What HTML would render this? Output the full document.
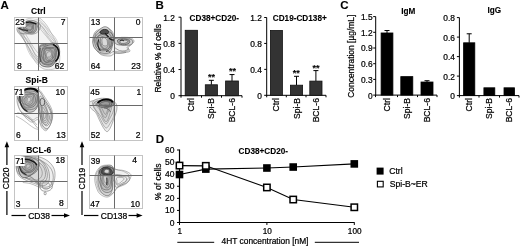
<!DOCTYPE html>
<html><head><meta charset="utf-8"><style>
html,body{margin:0;padding:0;background:#fff;}
svg{display:block;filter:grayscale(100%);}
text{font-family:"Liberation Sans",sans-serif;}
</style></head><body>
<svg xmlns="http://www.w3.org/2000/svg" width="520" height="246" viewBox="0 0 520 246">
<rect width="520" height="246" fill="#fff"/>
<text x="0.5" y="8.7" font-size="11.5" font-weight="bold" text-anchor="start" fill="#000" stroke="#000" stroke-width="0.1">A</text>
<text x="155.5" y="8.7" font-size="11.5" font-weight="bold" text-anchor="start" fill="#000" stroke="#000" stroke-width="0.1">B</text>
<text x="340.3" y="8.7" font-size="11.5" font-weight="bold" text-anchor="start" fill="#000" stroke="#000" stroke-width="0.1">C</text>
<text x="155.7" y="142.7" font-size="11.5" font-weight="bold" text-anchor="start" fill="#000" stroke="#000" stroke-width="0.1">D</text>
<clipPath id="cpc10"><rect x="14.5" y="17.5" width="53.0" height="53.0"/></clipPath><g clip-path="url(#cpc10)"><path d="M39.05,17.82 C39.80,18.12 40.51,18.60 41.21,19.14 C41.91,19.68 42.56,20.35 43.24,21.04 C43.91,21.73 44.58,22.46 45.25,23.28 C45.92,24.10 46.61,24.98 47.26,25.94 C47.91,26.90 48.55,28.00 49.14,29.03 C49.74,30.07 50.28,31.15 50.83,32.15 C51.38,33.16 51.91,34.12 52.43,35.05 C52.95,35.99 53.47,36.88 53.93,37.76 C54.39,38.65 54.80,39.51 55.19,40.38 C55.58,41.25 55.91,42.09 56.28,42.97 C56.65,43.85 57.03,44.70 57.39,45.65 C57.76,46.59 58.13,47.54 58.45,48.65 C58.77,49.76 59.10,51.01 59.33,52.29 C59.56,53.58 59.76,55.06 59.83,56.37 C59.90,57.69 59.88,59.00 59.75,60.19 C59.62,61.38 59.39,62.48 59.05,63.51 C58.71,64.53 58.27,65.54 57.70,66.34 C57.12,67.14 56.47,67.82 55.60,68.33 C54.72,68.83 53.60,69.14 52.44,69.36 C51.29,69.59 49.87,69.66 48.67,69.66 C47.47,69.66 46.26,69.56 45.25,69.36 C44.23,69.16 43.41,68.85 42.58,68.44 C41.74,68.03 41.00,67.49 40.24,66.89 C39.48,66.30 38.74,65.62 38.00,64.87 C37.26,64.12 36.52,63.30 35.83,62.38 C35.13,61.47 34.47,60.44 33.83,59.37 C33.20,58.30 32.59,57.17 32.02,55.97 C31.44,54.76 30.92,53.42 30.40,52.14 C29.88,50.85 29.43,49.46 28.91,48.26 C28.39,47.06 27.87,45.95 27.30,44.93 C26.73,43.91 26.11,43.04 25.49,42.14 C24.88,41.25 24.23,40.40 23.62,39.56 C23.00,38.73 22.41,37.90 21.80,37.13 C21.20,36.36 20.55,35.63 19.98,34.95 C19.40,34.27 18.78,33.68 18.35,33.06 C17.92,32.44 17.59,31.86 17.40,31.25 C17.20,30.63 17.17,30.00 17.18,29.37 C17.19,28.75 17.28,28.11 17.46,27.50 C17.64,26.89 17.88,26.30 18.26,25.71 C18.65,25.11 19.17,24.52 19.76,23.93 C20.35,23.33 21.10,22.69 21.80,22.12 C22.51,21.55 23.24,20.97 24.00,20.49 C24.75,20.02 25.52,19.62 26.36,19.29 C27.19,18.95 28.13,18.71 29.02,18.49 C29.91,18.26 30.83,18.12 31.70,17.95 C32.57,17.79 33.42,17.60 34.25,17.50 C35.09,17.39 35.91,17.27 36.71,17.32 C37.51,17.38 38.30,17.51 39.05,17.82 Z" fill="#f3f3f3" stroke="#9a9a9a" stroke-width="0.5"/>
<path d="M38.95,20.13 C39.64,20.40 40.29,20.87 40.92,21.38 C41.55,21.89 42.14,22.55 42.75,23.19 C43.35,23.84 43.95,24.53 44.56,25.24 C45.18,25.96 45.81,26.71 46.46,27.50 C47.11,28.28 47.77,29.13 48.46,29.95 C49.14,30.76 49.85,31.58 50.58,32.39 C51.31,33.20 52.10,33.97 52.84,34.80 C53.58,35.62 54.37,36.46 55.01,37.34 C55.64,38.22 56.21,39.15 56.65,40.07 C57.09,41.00 57.40,41.95 57.66,42.89 C57.91,43.83 58.07,44.76 58.17,45.71 C58.28,46.67 58.29,47.59 58.28,48.61 C58.27,49.63 58.19,50.72 58.10,51.82 C58.01,52.91 57.90,54.11 57.74,55.18 C57.57,56.25 57.37,57.28 57.12,58.23 C56.87,59.18 56.59,60.06 56.24,60.91 C55.89,61.75 55.50,62.59 54.99,63.27 C54.48,63.95 53.94,64.55 53.18,64.99 C52.43,65.43 51.46,65.70 50.47,65.89 C49.47,66.08 48.24,66.14 47.20,66.14 C46.17,66.14 45.13,66.06 44.26,65.91 C43.39,65.76 42.69,65.53 41.98,65.24 C41.26,64.95 40.64,64.57 39.97,64.18 C39.31,63.80 38.67,63.39 38.00,62.93 C37.33,62.46 36.64,61.99 35.94,61.41 C35.24,60.83 34.54,60.19 33.81,59.43 C33.09,58.67 32.33,57.86 31.58,56.84 C30.83,55.82 30.03,54.59 29.33,53.28 C28.63,51.97 27.94,50.35 27.39,48.97 C26.84,47.60 26.43,46.19 26.03,45.04 C25.63,43.89 25.34,42.96 25.01,42.07 C24.67,41.18 24.36,40.43 24.02,39.69 C23.67,38.94 23.34,38.26 22.93,37.61 C22.53,36.95 22.04,36.35 21.57,35.75 C21.11,35.16 20.54,34.62 20.13,34.05 C19.72,33.47 19.35,32.91 19.12,32.31 C18.88,31.71 18.77,31.07 18.73,30.46 C18.68,29.84 18.71,29.21 18.87,28.63 C19.02,28.05 19.25,27.50 19.64,26.98 C20.02,26.46 20.57,25.97 21.18,25.48 C21.78,25.00 22.55,24.52 23.26,24.09 C23.97,23.66 24.70,23.24 25.43,22.89 C26.16,22.55 26.87,22.27 27.64,22.01 C28.40,21.75 29.23,21.54 30.02,21.33 C30.81,21.12 31.60,20.94 32.37,20.73 C33.14,20.53 33.88,20.27 34.62,20.11 C35.36,19.95 36.11,19.76 36.83,19.76 C37.55,19.76 38.27,19.86 38.95,20.13 Z" fill="none" stroke="#a0a0a0" stroke-width="0.5"/>
<path d="M38.88,22.08 C39.51,22.22 40.12,22.51 40.73,22.87 C41.33,23.24 41.91,23.74 42.50,24.28 C43.09,24.82 43.67,25.44 44.26,26.12 C44.84,26.80 45.43,27.57 46.01,28.38 C46.58,29.18 47.15,30.10 47.71,30.95 C48.28,31.80 48.82,32.66 49.41,33.47 C50.00,34.27 50.63,35.01 51.26,35.78 C51.89,36.54 52.59,37.27 53.20,38.05 C53.81,38.83 54.40,39.62 54.90,40.44 C55.40,41.26 55.84,42.11 56.20,42.97 C56.55,43.84 56.86,44.71 57.06,45.62 C57.25,46.52 57.36,47.43 57.38,48.40 C57.40,49.38 57.33,50.44 57.20,51.47 C57.07,52.49 56.87,53.60 56.62,54.55 C56.38,55.51 56.06,56.38 55.73,57.19 C55.40,58.01 55.04,58.72 54.65,59.43 C54.25,60.13 53.86,60.84 53.37,61.44 C52.89,62.03 52.41,62.57 51.75,63.00 C51.08,63.43 50.26,63.74 49.39,63.99 C48.51,64.24 47.44,64.41 46.52,64.50 C45.60,64.59 44.67,64.63 43.87,64.55 C43.08,64.48 42.42,64.31 41.75,64.04 C41.08,63.77 40.48,63.38 39.85,62.96 C39.23,62.53 38.62,62.04 38.00,61.50 C37.38,60.97 36.76,60.40 36.14,59.77 C35.52,59.13 34.91,58.45 34.28,57.71 C33.65,56.97 33.01,56.23 32.34,55.33 C31.67,54.42 30.94,53.41 30.26,52.29 C29.57,51.17 28.82,49.80 28.21,48.59 C27.59,47.37 27.03,46.07 26.54,45.00 C26.06,43.92 25.68,42.98 25.32,42.12 C24.96,41.25 24.66,40.50 24.37,39.80 C24.08,39.09 23.86,38.46 23.58,37.88 C23.29,37.30 22.98,36.80 22.66,36.30 C22.34,35.80 21.95,35.38 21.67,34.91 C21.38,34.43 21.13,33.97 20.95,33.45 C20.78,32.93 20.67,32.35 20.61,31.78 C20.54,31.20 20.50,30.58 20.57,29.99 C20.64,29.41 20.75,28.83 21.03,28.27 C21.31,27.71 21.73,27.16 22.24,26.65 C22.75,26.15 23.44,25.63 24.09,25.21 C24.75,24.79 25.45,24.41 26.16,24.13 C26.87,23.85 27.60,23.67 28.35,23.52 C29.10,23.37 29.92,23.31 30.68,23.22 C31.44,23.12 32.20,23.07 32.91,22.95 C33.62,22.83 34.29,22.64 34.96,22.49 C35.63,22.34 36.29,22.12 36.94,22.05 C37.60,21.98 38.25,21.95 38.88,22.08 Z" fill="none" stroke="#a6a6a6" stroke-width="0.5"/>
<path d="M38.82,23.50 C39.41,23.67 39.98,23.99 40.53,24.39 C41.08,24.80 41.60,25.34 42.12,25.93 C42.64,26.52 43.15,27.19 43.63,27.91 C44.12,28.63 44.60,29.44 45.05,30.26 C45.49,31.08 45.91,32.00 46.32,32.82 C46.74,33.64 47.10,34.46 47.53,35.20 C47.96,35.94 48.41,36.59 48.89,37.25 C49.37,37.90 49.92,38.50 50.42,39.14 C50.91,39.78 51.42,40.41 51.87,41.08 C52.31,41.75 52.73,42.43 53.11,43.15 C53.49,43.86 53.85,44.59 54.14,45.37 C54.43,46.15 54.67,46.94 54.85,47.83 C55.03,48.72 55.16,49.71 55.24,50.70 C55.32,51.70 55.35,52.81 55.32,53.81 C55.29,54.81 55.20,55.78 55.07,56.70 C54.93,57.62 54.76,58.48 54.52,59.31 C54.27,60.14 54.00,60.99 53.61,61.70 C53.21,62.41 52.79,63.07 52.15,63.56 C51.52,64.06 50.68,64.44 49.79,64.70 C48.89,64.96 47.75,65.10 46.78,65.12 C45.80,65.13 44.79,65.03 43.94,64.80 C43.09,64.56 42.39,64.18 41.69,63.71 C40.99,63.23 40.37,62.59 39.76,61.94 C39.14,61.30 38.56,60.55 38.00,59.81 C37.44,59.07 36.90,58.29 36.41,57.49 C35.91,56.70 35.45,55.87 35.00,55.05 C34.55,54.24 34.13,53.45 33.70,52.60 C33.27,51.75 32.86,50.86 32.43,49.97 C31.99,49.07 31.55,48.11 31.09,47.24 C30.62,46.37 30.11,45.51 29.62,44.73 C29.14,43.95 28.64,43.24 28.17,42.54 C27.70,41.84 27.25,41.19 26.80,40.55 C26.36,39.91 25.95,39.29 25.50,38.70 C25.05,38.11 24.57,37.56 24.10,37.02 C23.62,36.48 23.08,35.99 22.67,35.46 C22.25,34.93 21.87,34.41 21.60,33.85 C21.32,33.28 21.14,32.67 21.02,32.07 C20.91,31.47 20.84,30.84 20.90,30.26 C20.96,29.68 21.09,29.12 21.38,28.60 C21.68,28.08 22.14,27.58 22.67,27.13 C23.21,26.68 23.92,26.24 24.59,25.89 C25.26,25.54 25.98,25.24 26.69,25.02 C27.40,24.80 28.12,24.69 28.85,24.58 C29.58,24.47 30.37,24.44 31.09,24.37 C31.82,24.31 32.53,24.27 33.20,24.16 C33.87,24.06 34.50,23.88 35.14,23.75 C35.77,23.62 36.39,23.42 37.01,23.38 C37.62,23.34 38.23,23.33 38.82,23.50 Z" fill="none" stroke="#aaaaaa" stroke-width="0.5"/>
<path d="M38.73,25.78 C39.25,25.97 39.75,26.28 40.24,26.65 C40.72,27.03 41.18,27.51 41.64,28.02 C42.11,28.53 42.56,29.10 43.00,29.71 C43.45,30.31 43.89,30.98 44.32,31.66 C44.76,32.35 45.17,33.10 45.60,33.79 C46.02,34.48 46.43,35.17 46.88,35.80 C47.34,36.43 47.83,37.00 48.33,37.59 C48.83,38.19 49.39,38.75 49.88,39.35 C50.36,39.95 50.85,40.57 51.25,41.21 C51.65,41.85 52.00,42.52 52.30,43.19 C52.60,43.87 52.86,44.56 53.05,45.28 C53.25,46.00 53.37,46.72 53.46,47.51 C53.54,48.31 53.57,49.18 53.57,50.05 C53.57,50.93 53.53,51.89 53.46,52.76 C53.38,53.63 53.27,54.46 53.13,55.26 C52.99,56.06 52.83,56.81 52.62,57.55 C52.40,58.29 52.18,59.05 51.84,59.70 C51.51,60.35 51.16,60.96 50.62,61.44 C50.07,61.92 49.36,62.30 48.58,62.58 C47.80,62.86 46.80,63.04 45.94,63.11 C45.09,63.19 44.19,63.16 43.43,63.02 C42.68,62.87 42.04,62.59 41.41,62.22 C40.78,61.85 40.21,61.33 39.64,60.79 C39.07,60.25 38.53,59.63 38.00,58.98 C37.47,58.34 36.95,57.64 36.47,56.92 C35.99,56.20 35.54,55.43 35.11,54.66 C34.68,53.88 34.26,53.10 33.87,52.27 C33.47,51.43 33.09,50.53 32.73,49.64 C32.36,48.76 32.03,47.80 31.68,46.96 C31.33,46.13 30.97,45.35 30.61,44.64 C30.26,43.94 29.89,43.34 29.52,42.74 C29.15,42.14 28.79,41.59 28.41,41.04 C28.03,40.49 27.66,39.96 27.24,39.44 C26.82,38.91 26.35,38.41 25.87,37.91 C25.40,37.41 24.85,36.94 24.41,36.43 C23.97,35.92 23.54,35.41 23.22,34.85 C22.90,34.30 22.66,33.69 22.48,33.10 C22.31,32.51 22.19,31.88 22.20,31.30 C22.21,30.73 22.29,30.18 22.53,29.66 C22.78,29.15 23.19,28.67 23.68,28.23 C24.16,27.80 24.83,27.39 25.46,27.06 C26.09,26.74 26.78,26.48 27.46,26.30 C28.13,26.12 28.82,26.05 29.51,25.99 C30.21,25.93 30.96,25.96 31.64,25.95 C32.33,25.93 33.00,25.96 33.63,25.92 C34.26,25.89 34.84,25.79 35.42,25.73 C36.00,25.67 36.56,25.55 37.11,25.55 C37.66,25.56 38.21,25.60 38.73,25.78 Z" fill="none" stroke="#b0b0b0" stroke-width="0.5"/>
<path d="M17.01,29.06 C17.00,28.69 16.99,28.31 17.12,27.92 C17.25,27.52 17.47,27.11 17.81,26.69 C18.15,26.28 18.63,25.87 19.17,25.43 C19.71,24.99 20.39,24.51 21.04,24.04 C21.69,23.58 22.40,23.06 23.08,22.64 C23.77,22.23 24.40,21.82 25.16,21.55 C25.92,21.28 26.76,21.10 27.63,21.03 C28.49,20.95 29.51,21.01 30.34,21.09 C31.16,21.17 31.90,21.37 32.58,21.51 C33.25,21.65 33.78,21.81 34.40,21.93 C35.02,22.05 35.66,22.13 36.29,22.25 C36.91,22.38 37.61,22.45 38.16,22.68 C38.71,22.90 39.24,23.19 39.60,23.60 C39.97,24.01 40.23,24.56 40.36,25.12 C40.49,25.67 40.47,26.31 40.38,26.93 C40.29,27.55 40.07,28.22 39.80,28.85 C39.54,29.48 39.18,30.16 38.79,30.73 C38.41,31.30 37.98,31.82 37.48,32.27 C36.97,32.71 36.40,33.11 35.77,33.40 C35.14,33.70 34.41,33.93 33.72,34.04 C33.02,34.15 32.30,34.11 31.62,34.04 C30.94,33.98 30.29,33.75 29.63,33.66 C28.96,33.57 28.35,33.50 27.65,33.51 C26.96,33.52 26.24,33.69 25.43,33.74 C24.62,33.79 23.67,33.88 22.80,33.79 C21.93,33.71 20.92,33.48 20.19,33.23 C19.46,32.98 18.84,32.61 18.40,32.27 C17.96,31.94 17.75,31.57 17.55,31.21 C17.35,30.86 17.27,30.50 17.18,30.14 C17.09,29.78 17.02,29.43 17.01,29.06 Z" fill="#e0e0e0" stroke="#6a6a6a" stroke-width="0.5"/>
<path d="M19.06,28.80 C19.18,28.47 19.32,28.15 19.56,27.83 C19.80,27.51 20.14,27.19 20.51,26.89 C20.89,26.58 21.37,26.31 21.82,25.99 C22.26,25.67 22.75,25.35 23.17,24.97 C23.60,24.58 23.95,24.14 24.35,23.68 C24.75,23.22 25.03,22.66 25.58,22.19 C26.12,21.73 26.78,21.22 27.60,20.90 C28.42,20.59 29.58,20.36 30.50,20.30 C31.43,20.24 32.38,20.40 33.14,20.56 C33.91,20.71 34.50,20.98 35.08,21.23 C35.65,21.47 36.16,21.75 36.59,22.03 C37.02,22.32 37.40,22.60 37.63,22.96 C37.87,23.31 38.00,23.73 38.02,24.18 C38.05,24.63 37.92,25.17 37.79,25.66 C37.65,26.14 37.39,26.63 37.19,27.09 C36.99,27.56 36.76,27.99 36.58,28.45 C36.40,28.91 36.26,29.38 36.10,29.84 C35.94,30.30 35.84,30.78 35.62,31.22 C35.40,31.67 35.15,32.14 34.77,32.53 C34.40,32.92 33.90,33.32 33.37,33.57 C32.85,33.82 32.23,33.96 31.61,34.03 C30.99,34.11 30.34,34.03 29.66,34.01 C28.99,34.00 28.28,33.94 27.56,33.93 C26.84,33.92 26.10,33.98 25.32,33.93 C24.55,33.89 23.70,33.83 22.93,33.66 C22.17,33.48 21.34,33.17 20.75,32.86 C20.16,32.56 19.70,32.17 19.39,31.82 C19.08,31.47 18.99,31.12 18.90,30.78 C18.81,30.43 18.83,30.10 18.86,29.77 C18.88,29.44 18.94,29.12 19.06,28.80 Z" fill="#d0d0d0" stroke="#5a5a5a" stroke-width="0.5"/>
<path d="M20.09,28.66 C19.99,28.40 19.97,28.12 20.01,27.82 C20.05,27.52 20.17,27.21 20.33,26.87 C20.49,26.54 20.69,26.21 20.97,25.81 C21.24,25.40 21.55,24.91 21.98,24.45 C22.41,23.99 22.95,23.39 23.56,23.03 C24.17,22.67 24.91,22.38 25.64,22.29 C26.37,22.20 27.23,22.37 27.94,22.52 C28.65,22.66 29.33,22.99 29.91,23.15 C30.49,23.30 30.90,23.41 31.41,23.46 C31.92,23.51 32.41,23.43 32.95,23.43 C33.49,23.42 34.13,23.38 34.64,23.44 C35.15,23.50 35.66,23.61 36.01,23.81 C36.35,24.02 36.55,24.33 36.69,24.67 C36.83,25.01 36.83,25.45 36.86,25.85 C36.89,26.26 36.87,26.67 36.87,27.11 C36.86,27.54 36.90,28.00 36.84,28.48 C36.78,28.96 36.71,29.52 36.52,29.98 C36.32,30.44 36.04,30.89 35.68,31.26 C35.31,31.62 34.82,31.90 34.33,32.15 C33.85,32.39 33.29,32.57 32.77,32.73 C32.26,32.89 31.78,33.01 31.25,33.11 C30.72,33.21 30.18,33.30 29.59,33.33 C29.00,33.36 28.31,33.37 27.71,33.28 C27.10,33.20 26.48,33.04 25.95,32.84 C25.42,32.63 24.96,32.32 24.52,32.05 C24.08,31.77 23.70,31.45 23.33,31.19 C22.96,30.93 22.63,30.71 22.31,30.51 C21.99,30.30 21.69,30.15 21.41,29.96 C21.12,29.77 20.83,29.59 20.61,29.38 C20.39,29.16 20.19,28.92 20.09,28.66 Z" fill="#c0c0c0" stroke="#555" stroke-width="0.5"/>
<path d="M20.70,28.58 C20.64,28.34 20.69,28.06 20.82,27.79 C20.95,27.52 21.20,27.23 21.46,26.96 C21.73,26.68 22.07,26.42 22.42,26.12 C22.78,25.82 23.18,25.47 23.61,25.16 C24.05,24.85 24.53,24.47 25.03,24.24 C25.53,24.01 26.07,23.85 26.60,23.78 C27.14,23.72 27.71,23.83 28.23,23.87 C28.75,23.92 29.24,24.03 29.72,24.04 C30.21,24.05 30.64,23.98 31.13,23.93 C31.63,23.87 32.16,23.74 32.67,23.71 C33.19,23.68 33.79,23.66 34.23,23.73 C34.67,23.81 35.08,23.95 35.33,24.17 C35.57,24.39 35.66,24.71 35.71,25.03 C35.76,25.35 35.67,25.75 35.63,26.11 C35.59,26.47 35.52,26.81 35.49,27.18 C35.46,27.54 35.49,27.91 35.44,28.31 C35.40,28.70 35.38,29.17 35.24,29.56 C35.11,29.95 34.92,30.35 34.64,30.67 C34.36,30.99 33.96,31.26 33.56,31.48 C33.16,31.70 32.68,31.86 32.24,31.99 C31.79,32.12 31.36,32.20 30.90,32.24 C30.44,32.28 29.97,32.29 29.48,32.25 C29.00,32.21 28.46,32.13 27.99,32.01 C27.52,31.90 27.09,31.72 26.68,31.55 C26.28,31.38 25.94,31.16 25.57,30.98 C25.20,30.80 24.83,30.61 24.44,30.46 C24.06,30.31 23.66,30.20 23.27,30.08 C22.88,29.96 22.48,29.87 22.13,29.73 C21.78,29.59 21.42,29.44 21.18,29.25 C20.94,29.06 20.76,28.83 20.70,28.58 Z" fill="#b4b4b4" stroke="#505050" stroke-width="0.5"/>
<path d="M23.37,28.23 C23.38,28.06 23.42,27.88 23.46,27.70 C23.49,27.51 23.52,27.32 23.59,27.11 C23.66,26.90 23.73,26.68 23.88,26.42 C24.04,26.16 24.24,25.84 24.53,25.56 C24.81,25.27 25.19,24.93 25.57,24.69 C25.96,24.45 26.38,24.26 26.82,24.12 C27.26,23.98 27.72,23.92 28.22,23.84 C28.72,23.75 29.29,23.67 29.81,23.62 C30.33,23.58 30.88,23.54 31.34,23.57 C31.81,23.60 32.24,23.68 32.58,23.81 C32.92,23.93 33.21,24.13 33.39,24.34 C33.58,24.54 33.66,24.79 33.70,25.03 C33.74,25.27 33.67,25.54 33.64,25.79 C33.61,26.05 33.54,26.30 33.52,26.55 C33.50,26.80 33.52,27.02 33.52,27.27 C33.52,27.53 33.56,27.79 33.54,28.07 C33.52,28.35 33.48,28.67 33.41,28.95 C33.34,29.24 33.23,29.52 33.10,29.81 C32.97,30.09 32.82,30.36 32.62,30.65 C32.42,30.95 32.21,31.29 31.92,31.55 C31.64,31.82 31.31,32.11 30.90,32.26 C30.50,32.40 29.98,32.47 29.50,32.42 C29.02,32.37 28.44,32.15 28.00,31.95 C27.57,31.74 27.22,31.43 26.89,31.19 C26.56,30.95 26.32,30.71 26.02,30.52 C25.73,30.33 25.40,30.18 25.10,30.03 C24.81,29.89 24.48,29.78 24.23,29.64 C23.99,29.51 23.79,29.39 23.64,29.24 C23.50,29.09 23.43,28.92 23.38,28.76 C23.34,28.59 23.36,28.41 23.37,28.23 Z" fill="#aaaaaa" stroke="#4a4a4a" stroke-width="0.5"/>
<path d="M24.63,28.07 C24.76,27.92 24.94,27.78 25.07,27.64 C25.21,27.50 25.34,27.38 25.45,27.24 C25.56,27.11 25.64,26.98 25.75,26.82 C25.86,26.65 25.96,26.45 26.11,26.24 C26.26,26.04 26.44,25.78 26.65,25.57 C26.87,25.37 27.10,25.16 27.39,25.00 C27.67,24.83 28.00,24.70 28.38,24.58 C28.76,24.45 29.24,24.33 29.68,24.26 C30.11,24.20 30.59,24.16 30.98,24.18 C31.37,24.20 31.74,24.28 32.01,24.39 C32.29,24.51 32.51,24.69 32.65,24.87 C32.78,25.06 32.82,25.28 32.82,25.49 C32.83,25.70 32.75,25.93 32.70,26.14 C32.65,26.35 32.58,26.56 32.55,26.76 C32.52,26.95 32.52,27.13 32.52,27.32 C32.51,27.52 32.54,27.73 32.51,27.94 C32.49,28.15 32.44,28.40 32.35,28.61 C32.26,28.81 32.13,29.00 31.99,29.18 C31.85,29.36 31.69,29.52 31.51,29.69 C31.34,29.86 31.17,30.05 30.96,30.22 C30.75,30.38 30.54,30.57 30.27,30.69 C30.01,30.80 29.68,30.89 29.35,30.90 C29.01,30.92 28.60,30.86 28.26,30.78 C27.92,30.71 27.61,30.58 27.31,30.47 C27.00,30.35 26.72,30.23 26.42,30.12 C26.12,30.01 25.78,29.90 25.49,29.78 C25.21,29.67 24.90,29.56 24.70,29.43 C24.50,29.31 24.35,29.18 24.29,29.03 C24.22,28.88 24.24,28.71 24.30,28.55 C24.36,28.39 24.51,28.22 24.63,28.07 Z" fill="#a8a8a8" stroke="#505050" stroke-width="0.5"/>
<path d="M25.45,27.96 C25.37,27.87 25.32,27.75 25.34,27.63 C25.35,27.51 25.43,27.38 25.54,27.25 C25.64,27.12 25.79,27.00 25.95,26.86 C26.11,26.72 26.30,26.56 26.49,26.41 C26.69,26.26 26.91,26.08 27.13,25.97 C27.36,25.85 27.60,25.75 27.85,25.72 C28.10,25.69 28.39,25.74 28.64,25.78 C28.88,25.82 29.11,25.92 29.32,25.97 C29.53,26.01 29.68,26.04 29.87,26.04 C30.06,26.05 30.25,26.00 30.46,25.99 C30.68,25.98 30.94,25.94 31.14,25.96 C31.34,25.98 31.55,26.01 31.68,26.09 C31.81,26.17 31.87,26.30 31.91,26.43 C31.94,26.57 31.89,26.74 31.86,26.90 C31.84,27.05 31.78,27.21 31.76,27.36 C31.73,27.52 31.73,27.67 31.72,27.84 C31.71,28.01 31.73,28.21 31.70,28.39 C31.67,28.57 31.64,28.77 31.54,28.93 C31.45,29.09 31.30,29.25 31.14,29.36 C30.97,29.48 30.74,29.57 30.53,29.63 C30.33,29.69 30.11,29.71 29.89,29.72 C29.67,29.72 29.44,29.70 29.22,29.67 C29.00,29.65 28.75,29.61 28.54,29.55 C28.33,29.49 28.13,29.42 27.96,29.33 C27.78,29.24 27.64,29.12 27.50,29.02 C27.36,28.92 27.24,28.81 27.11,28.73 C26.99,28.64 26.87,28.58 26.74,28.52 C26.60,28.46 26.46,28.43 26.31,28.37 C26.15,28.32 25.97,28.28 25.83,28.21 C25.68,28.14 25.53,28.06 25.45,27.96 Z" fill="#b0b0b0" stroke="#5a5a5a" stroke-width="0.5"/>
<path d="M24.80,22.60 C25.67,22.50 28.05,21.80 30.00,22.00 C31.95,22.20 35.42,23.50 36.50,23.80" fill="none" stroke="#1a1a1a" stroke-width="1.6"/>
<path d="M18.30,28.00 C19.08,28.30 21.38,29.38 23.00,29.80 C24.62,30.22 27.17,30.38 28.00,30.50" fill="none" stroke="#333" stroke-width="1.3"/>
<path d="M40.27,45.29 C40.75,44.97 41.48,44.84 42.16,44.72 C42.85,44.61 43.68,44.65 44.39,44.60 C45.10,44.54 45.74,44.52 46.41,44.40 C47.08,44.28 47.69,44.07 48.42,43.88 C49.14,43.69 49.97,43.41 50.77,43.26 C51.56,43.11 52.42,42.97 53.18,42.99 C53.95,43.01 54.69,43.13 55.35,43.38 C56.00,43.63 56.62,44.01 57.14,44.48 C57.65,44.94 58.08,45.51 58.44,46.17 C58.79,46.84 59.06,47.64 59.27,48.49 C59.48,49.33 59.63,50.32 59.68,51.23 C59.73,52.14 59.71,53.09 59.57,53.96 C59.44,54.83 59.18,55.69 58.87,56.47 C58.57,57.25 58.13,57.99 57.73,58.62 C57.34,59.25 56.89,59.74 56.51,60.24 C56.12,60.75 55.77,61.16 55.42,61.65 C55.07,62.14 54.78,62.67 54.42,63.20 C54.05,63.73 53.71,64.32 53.22,64.81 C52.72,65.30 52.12,65.79 51.45,66.13 C50.78,66.48 49.93,66.74 49.19,66.87 C48.44,67.01 47.68,66.98 46.98,66.95 C46.27,66.91 45.61,66.79 44.95,66.66 C44.29,66.53 43.61,66.40 43.00,66.17 C42.39,65.94 41.80,65.72 41.30,65.28 C40.80,64.84 40.37,64.26 40.02,63.55 C39.66,62.84 39.37,61.90 39.16,61.02 C38.95,60.14 38.82,59.17 38.75,58.28 C38.68,57.39 38.71,56.53 38.75,55.69 C38.78,54.85 38.90,54.02 38.97,53.23 C39.03,52.43 39.11,51.70 39.14,50.94 C39.16,50.19 39.09,49.41 39.12,48.70 C39.15,47.99 39.12,47.23 39.32,46.66 C39.51,46.09 39.80,45.61 40.27,45.29 Z" fill="#cacaca" stroke="#333" stroke-width="0.6"/>
<path d="M41.02,46.08 C41.49,45.82 42.19,45.75 42.84,45.69 C43.49,45.64 44.27,45.74 44.93,45.75 C45.58,45.76 46.16,45.81 46.76,45.77 C47.36,45.72 47.88,45.59 48.50,45.46 C49.13,45.33 49.82,45.10 50.50,44.98 C51.17,44.85 51.90,44.71 52.56,44.71 C53.22,44.71 53.86,44.78 54.44,44.97 C55.02,45.15 55.57,45.46 56.04,45.83 C56.50,46.21 56.90,46.67 57.24,47.23 C57.58,47.79 57.85,48.46 58.07,49.19 C58.30,49.91 58.49,50.76 58.59,51.56 C58.69,52.37 58.75,53.21 58.68,54.01 C58.62,54.80 58.46,55.61 58.22,56.34 C57.99,57.07 57.62,57.80 57.27,58.40 C56.93,59.00 56.51,59.49 56.14,59.96 C55.76,60.43 55.40,60.80 55.04,61.22 C54.68,61.65 54.36,62.09 53.99,62.52 C53.62,62.95 53.27,63.41 52.80,63.79 C52.33,64.16 51.77,64.52 51.16,64.76 C50.55,65.00 49.81,65.15 49.16,65.21 C48.51,65.27 47.87,65.19 47.27,65.11 C46.68,65.03 46.14,64.89 45.58,64.76 C45.03,64.62 44.47,64.51 43.95,64.32 C43.43,64.14 42.92,63.98 42.47,63.65 C42.02,63.31 41.62,62.86 41.26,62.29 C40.90,61.73 40.59,60.97 40.33,60.24 C40.07,59.51 39.86,58.69 39.72,57.92 C39.58,57.14 39.53,56.37 39.50,55.60 C39.47,54.83 39.53,54.04 39.56,53.30 C39.60,52.56 39.67,51.85 39.70,51.14 C39.73,50.44 39.70,49.72 39.76,49.07 C39.81,48.42 39.83,47.74 40.04,47.25 C40.25,46.75 40.55,46.34 41.02,46.08 Z" fill="#bababa" stroke="#3a3a3a" stroke-width="0.5"/>
<path d="M42.63,47.77 C42.88,47.43 43.29,47.19 43.73,46.96 C44.16,46.73 44.72,46.59 45.23,46.40 C45.74,46.21 46.23,46.04 46.78,45.83 C47.32,45.63 47.86,45.38 48.49,45.18 C49.12,44.99 49.86,44.75 50.55,44.66 C51.23,44.57 51.97,44.53 52.59,44.63 C53.21,44.74 53.78,44.96 54.26,45.29 C54.73,45.62 55.12,46.09 55.41,46.60 C55.71,47.10 55.88,47.70 56.00,48.32 C56.13,48.94 56.15,49.63 56.19,50.29 C56.22,50.95 56.21,51.65 56.22,52.29 C56.22,52.93 56.24,53.53 56.23,54.13 C56.21,54.74 56.19,55.33 56.11,55.92 C56.03,56.51 55.89,57.13 55.72,57.67 C55.55,58.21 55.32,58.70 55.09,59.16 C54.85,59.61 54.59,60.00 54.32,60.42 C54.05,60.84 53.78,61.26 53.46,61.66 C53.14,62.07 52.83,62.50 52.42,62.85 C52.00,63.21 51.50,63.55 50.96,63.79 C50.41,64.03 49.74,64.21 49.15,64.30 C48.56,64.38 47.96,64.34 47.41,64.30 C46.85,64.25 46.34,64.14 45.83,64.03 C45.31,63.91 44.79,63.80 44.31,63.63 C43.82,63.46 43.35,63.31 42.94,62.99 C42.52,62.67 42.15,62.26 41.83,61.72 C41.51,61.18 41.22,60.47 41.03,59.78 C40.85,59.08 40.71,58.28 40.69,57.56 C40.67,56.84 40.78,56.11 40.91,55.44 C41.05,54.77 41.32,54.12 41.50,53.55 C41.69,52.97 41.92,52.49 42.03,51.99 C42.15,51.48 42.16,51.00 42.19,50.50 C42.22,50.00 42.14,49.46 42.21,49.00 C42.28,48.55 42.37,48.11 42.63,47.77 Z" fill="#adadad" stroke="#404040" stroke-width="0.5"/>
<path d="M43.37,48.55 C43.67,48.33 44.06,48.16 44.47,48.02 C44.88,47.87 45.37,47.76 45.83,47.68 C46.28,47.60 46.75,47.55 47.21,47.52 C47.68,47.50 48.13,47.51 48.62,47.50 C49.10,47.50 49.61,47.52 50.10,47.51 C50.59,47.51 51.07,47.48 51.55,47.48 C52.04,47.48 52.52,47.44 52.99,47.50 C53.47,47.56 53.98,47.63 54.40,47.85 C54.82,48.06 55.23,48.34 55.50,48.76 C55.78,49.18 55.97,49.77 56.07,50.36 C56.16,50.96 56.13,51.70 56.09,52.33 C56.04,52.96 55.90,53.58 55.79,54.15 C55.69,54.73 55.58,55.25 55.47,55.79 C55.37,56.33 55.30,56.90 55.17,57.41 C55.05,57.92 54.92,58.44 54.72,58.88 C54.53,59.32 54.28,59.72 53.99,60.05 C53.70,60.39 53.34,60.67 52.98,60.90 C52.62,61.13 52.24,61.28 51.83,61.43 C51.43,61.58 50.99,61.67 50.54,61.79 C50.08,61.91 49.58,62.03 49.12,62.12 C48.65,62.22 48.18,62.32 47.72,62.37 C47.26,62.41 46.80,62.45 46.37,62.40 C45.93,62.36 45.47,62.27 45.10,62.09 C44.72,61.91 44.40,61.67 44.12,61.34 C43.84,61.01 43.65,60.56 43.43,60.11 C43.21,59.65 43.02,59.12 42.79,58.61 C42.56,58.10 42.28,57.60 42.05,57.06 C41.82,56.52 41.54,55.97 41.41,55.38 C41.28,54.79 41.21,54.11 41.24,53.51 C41.27,52.92 41.44,52.34 41.59,51.83 C41.74,51.32 41.94,50.87 42.12,50.46 C42.29,50.05 42.44,49.68 42.65,49.36 C42.86,49.04 43.06,48.78 43.37,48.55 Z" fill="#a6a6a6" stroke="#454545" stroke-width="0.5"/>
<path d="M44.21,49.44 C44.38,49.16 44.66,48.93 44.98,48.75 C45.31,48.58 45.75,48.46 46.16,48.39 C46.56,48.32 47.00,48.32 47.41,48.32 C47.83,48.32 48.24,48.37 48.66,48.39 C49.09,48.41 49.53,48.44 49.95,48.44 C50.38,48.44 50.80,48.40 51.22,48.40 C51.64,48.40 52.06,48.36 52.47,48.42 C52.87,48.48 53.31,48.57 53.65,48.77 C54.00,48.97 54.32,49.24 54.53,49.62 C54.75,49.99 54.88,50.51 54.95,51.02 C55.02,51.53 54.98,52.15 54.94,52.68 C54.89,53.21 54.78,53.73 54.68,54.21 C54.58,54.69 54.47,55.13 54.33,55.56 C54.20,56.00 54.07,56.44 53.90,56.81 C53.73,57.18 53.54,57.52 53.33,57.81 C53.11,58.10 52.87,58.31 52.63,58.54 C52.39,58.76 52.14,58.94 51.89,59.15 C51.65,59.35 51.43,59.55 51.16,59.78 C50.89,60.01 50.61,60.27 50.27,60.53 C49.93,60.78 49.52,61.09 49.10,61.32 C48.69,61.55 48.23,61.77 47.80,61.88 C47.36,62.00 46.91,62.06 46.50,62.02 C46.08,61.98 45.66,61.85 45.33,61.65 C44.99,61.44 44.72,61.15 44.50,60.80 C44.28,60.44 44.15,59.98 44.02,59.51 C43.89,59.05 43.80,58.50 43.70,58.01 C43.61,57.51 43.50,57.02 43.44,56.55 C43.38,56.07 43.32,55.62 43.33,55.16 C43.33,54.70 43.40,54.22 43.47,53.80 C43.54,53.37 43.68,52.99 43.75,52.61 C43.82,52.22 43.87,51.87 43.90,51.50 C43.93,51.14 43.89,50.75 43.94,50.41 C43.99,50.06 44.03,49.72 44.21,49.44 Z" fill="#aaaaaa" stroke="#4a4a4a" stroke-width="0.5"/>
<path d="M44.73,49.99 C44.90,49.76 45.15,49.57 45.44,49.41 C45.72,49.24 46.08,49.09 46.43,48.99 C46.78,48.89 47.16,48.81 47.54,48.80 C47.91,48.79 48.31,48.83 48.69,48.90 C49.07,48.98 49.48,49.12 49.82,49.26 C50.17,49.39 50.47,49.56 50.75,49.70 C51.03,49.84 51.26,49.97 51.50,50.12 C51.74,50.26 51.99,50.38 52.20,50.55 C52.41,50.73 52.63,50.91 52.77,51.17 C52.92,51.43 53.02,51.77 53.07,52.12 C53.11,52.47 53.09,52.90 53.05,53.26 C53.01,53.62 52.91,53.97 52.85,54.30 C52.80,54.63 52.73,54.92 52.70,55.24 C52.68,55.56 52.70,55.89 52.70,56.24 C52.70,56.59 52.74,56.97 52.71,57.34 C52.68,57.70 52.64,58.09 52.53,58.43 C52.42,58.77 52.25,59.11 52.04,59.38 C51.83,59.65 51.57,59.88 51.27,60.05 C50.97,60.22 50.61,60.33 50.25,60.42 C49.88,60.51 49.46,60.56 49.09,60.58 C48.72,60.60 48.35,60.60 48.02,60.56 C47.68,60.52 47.35,60.46 47.06,60.34 C46.76,60.22 46.47,60.06 46.26,59.83 C46.05,59.61 45.89,59.32 45.79,58.99 C45.70,58.65 45.70,58.22 45.69,57.84 C45.67,57.45 45.73,57.02 45.71,56.68 C45.69,56.33 45.66,56.05 45.57,55.76 C45.49,55.47 45.33,55.24 45.19,54.94 C45.05,54.64 44.87,54.31 44.75,53.96 C44.63,53.61 44.54,53.23 44.47,52.86 C44.40,52.50 44.36,52.12 44.35,51.77 C44.34,51.42 44.34,51.07 44.40,50.78 C44.46,50.48 44.55,50.22 44.73,49.99 Z" fill="#b4b4b4" stroke="#555" stroke-width="0.5"/>
<path d="M45.65,50.96 C45.77,50.77 45.97,50.61 46.20,50.50 C46.43,50.39 46.76,50.33 47.05,50.31 C47.34,50.28 47.65,50.32 47.94,50.35 C48.23,50.39 48.50,50.46 48.78,50.51 C49.06,50.57 49.34,50.62 49.60,50.67 C49.86,50.72 50.11,50.75 50.34,50.80 C50.58,50.86 50.80,50.91 50.99,51.01 C51.19,51.11 51.38,51.24 51.51,51.41 C51.64,51.58 51.74,51.80 51.79,52.04 C51.85,52.28 51.84,52.57 51.83,52.84 C51.83,53.11 51.78,53.40 51.77,53.65 C51.76,53.90 51.76,54.12 51.79,54.36 C51.82,54.60 51.89,54.82 51.93,55.08 C51.97,55.35 52.04,55.65 52.05,55.94 C52.06,56.22 52.05,56.52 51.99,56.79 C51.94,57.05 51.84,57.30 51.72,57.52 C51.60,57.75 51.44,57.96 51.27,58.15 C51.10,58.34 50.92,58.52 50.71,58.67 C50.49,58.82 50.24,58.97 49.96,59.07 C49.69,59.17 49.36,59.26 49.07,59.27 C48.79,59.29 48.49,59.25 48.24,59.17 C47.99,59.09 47.77,58.94 47.57,58.78 C47.38,58.62 47.22,58.41 47.09,58.21 C46.96,58.01 46.88,57.79 46.81,57.57 C46.74,57.34 46.71,57.10 46.65,56.87 C46.59,56.64 46.53,56.41 46.45,56.19 C46.37,55.97 46.25,55.77 46.16,55.55 C46.06,55.33 45.94,55.11 45.86,54.86 C45.79,54.62 45.74,54.34 45.70,54.08 C45.67,53.82 45.67,53.56 45.65,53.29 C45.62,53.02 45.59,52.75 45.56,52.48 C45.54,52.21 45.48,51.92 45.49,51.66 C45.51,51.41 45.53,51.16 45.65,50.96 Z" fill="#c0c0c0" stroke="#5e5e5e" stroke-width="0.5"/>
<path d="M47.30,52.71 C47.40,52.65 47.53,52.62 47.64,52.56 C47.76,52.50 47.87,52.43 47.99,52.34 C48.12,52.25 48.22,52.13 48.37,52.03 C48.51,51.93 48.67,51.81 48.85,51.74 C49.03,51.68 49.26,51.63 49.45,51.63 C49.64,51.63 49.84,51.68 50.01,51.74 C50.17,51.79 50.31,51.89 50.44,51.98 C50.57,52.07 50.69,52.17 50.80,52.28 C50.92,52.39 51.02,52.49 51.11,52.63 C51.21,52.77 51.30,52.94 51.35,53.12 C51.41,53.31 51.45,53.54 51.46,53.75 C51.47,53.95 51.45,54.18 51.41,54.38 C51.37,54.58 51.29,54.76 51.23,54.94 C51.17,55.12 51.09,55.29 51.03,55.46 C50.96,55.62 50.91,55.77 50.85,55.91 C50.78,56.06 50.73,56.21 50.65,56.34 C50.57,56.47 50.48,56.60 50.37,56.70 C50.26,56.79 50.12,56.86 49.98,56.90 C49.84,56.94 49.67,56.94 49.51,56.94 C49.36,56.94 49.19,56.91 49.04,56.90 C48.89,56.90 48.75,56.90 48.61,56.93 C48.46,56.95 48.31,57.01 48.15,57.06 C47.98,57.10 47.79,57.18 47.61,57.20 C47.44,57.22 47.25,57.23 47.10,57.16 C46.95,57.09 46.82,56.96 46.72,56.79 C46.63,56.62 46.56,56.37 46.51,56.15 C46.46,55.92 46.44,55.67 46.43,55.45 C46.42,55.22 46.42,55.01 46.44,54.80 C46.45,54.59 46.48,54.37 46.51,54.18 C46.55,53.99 46.60,53.81 46.65,53.65 C46.71,53.49 46.76,53.35 46.83,53.22 C46.89,53.10 46.95,52.99 47.03,52.91 C47.11,52.82 47.20,52.77 47.30,52.71 Z" fill="#d0d0d0" stroke="#6a6a6a" stroke-width="0.5"/>
<path d="M53.00,44.30 C53.70,44.83 56.23,46.13 57.20,47.50 C58.17,48.87 58.67,50.75 58.80,52.50 C58.93,54.25 58.55,56.50 58.00,58.00 C57.45,59.50 55.92,60.92 55.50,61.50" fill="none" stroke="#111" stroke-width="1.6"/>
<path d="M40.20,48.00 C40.13,49.17 39.70,52.67 39.80,55.00 C39.90,57.33 40.63,60.83 40.80,62.00" fill="none" stroke="#444" stroke-width="0.9"/>
<path d="M20.00,33.00 C20.67,34.17 22.50,37.50 24.00,40.00 C25.50,42.50 27.33,45.33 29.00,48.00 C30.67,50.67 32.42,53.67 34.00,56.00 C35.58,58.33 37.75,61.00 38.50,62.00" fill="none" stroke="#8a8a8a" stroke-width="0.5"/>
<path d="M23.00,34.00 C23.67,35.17 25.58,38.67 27.00,41.00 C28.42,43.33 30.00,45.67 31.50,48.00 C33.00,50.33 34.67,53.33 36.00,55.00 C37.33,56.67 38.92,57.50 39.50,58.00" fill="none" stroke="#909090" stroke-width="0.5"/>
<path d="M26.00,35.00 C26.67,36.08 28.67,39.33 30.00,41.50 C31.33,43.67 32.67,46.08 34.00,48.00 C35.33,49.92 37.33,52.17 38.00,53.00" fill="none" stroke="#989898" stroke-width="0.5"/>
<path d="M38.00,23.00 C38.83,23.83 41.33,26.17 43.00,28.00 C44.67,29.83 46.33,32.00 48.00,34.00 C49.67,36.00 51.67,38.33 53.00,40.00 C54.33,41.67 55.50,43.33 56.00,44.00" fill="none" stroke="#909090" stroke-width="0.5"/>
<path d="M38.00,26.00 C38.67,26.83 40.58,29.25 42.00,31.00 C43.42,32.75 45.00,34.67 46.50,36.50 C48.00,38.33 50.25,41.08 51.00,42.00" fill="none" stroke="#989898" stroke-width="0.5"/></g>
<rect x="14.5" y="17.5" width="53.0" height="53.0" fill="none" stroke="#c4c4c4" stroke-width="1"/>
<line x1="38.5" y1="17.5" x2="38.5" y2="70.5" stroke="#6a6a6a" stroke-width="1"/>
<line x1="14.5" y1="43.5" x2="67.5" y2="43.5" stroke="#6a6a6a" stroke-width="1"/>
<clipPath id="cpc11"><rect x="14.5" y="86.5" width="53.0" height="54.0"/></clipPath><g clip-path="url(#cpc11)"><path d="M19.05,94.04 C19.47,93.40 19.92,92.81 20.42,92.27 C20.92,91.73 21.45,91.23 22.06,90.79 C22.67,90.36 23.30,89.97 24.10,89.66 C24.90,89.34 25.86,89.10 26.85,88.90 C27.85,88.69 29.03,88.55 30.05,88.44 C31.07,88.32 32.10,88.27 32.96,88.22 C33.82,88.16 34.51,88.09 35.20,88.12 C35.90,88.15 36.50,88.16 37.14,88.39 C37.79,88.61 38.42,88.93 39.09,89.47 C39.75,90.02 40.46,90.81 41.14,91.67 C41.82,92.53 42.50,93.60 43.18,94.61 C43.86,95.62 44.51,96.68 45.22,97.76 C45.93,98.83 46.69,99.92 47.42,101.05 C48.16,102.19 48.97,103.43 49.62,104.59 C50.27,105.74 50.86,106.91 51.30,108.00 C51.75,109.09 52.05,110.13 52.29,111.14 C52.52,112.16 52.66,113.14 52.72,114.09 C52.78,115.03 52.75,115.93 52.64,116.81 C52.54,117.69 52.34,118.54 52.11,119.38 C51.87,120.22 51.55,121.03 51.24,121.83 C50.93,122.63 50.61,123.35 50.25,124.15 C49.90,124.96 49.52,125.84 49.11,126.67 C48.69,127.50 48.22,128.48 47.76,129.14 C47.29,129.81 46.83,130.41 46.34,130.64 C45.85,130.87 45.34,130.77 44.81,130.55 C44.28,130.32 43.70,129.80 43.17,129.29 C42.64,128.78 42.09,128.24 41.64,127.50 C41.19,126.76 40.84,125.82 40.48,124.85 C40.11,123.88 39.85,122.56 39.46,121.70 C39.07,120.84 38.67,119.98 38.13,119.71 C37.59,119.43 36.92,119.76 36.24,120.07 C35.56,120.37 34.80,121.20 34.06,121.55 C33.32,121.91 32.56,122.26 31.80,122.19 C31.03,122.12 30.23,121.62 29.45,121.12 C28.67,120.62 27.84,119.88 27.10,119.19 C26.37,118.50 25.69,117.72 25.03,116.98 C24.37,116.24 23.76,115.51 23.14,114.74 C22.53,113.98 21.91,113.19 21.35,112.38 C20.80,111.57 20.28,110.78 19.81,109.90 C19.33,109.03 18.90,108.09 18.50,107.11 C18.11,106.14 17.71,105.05 17.43,104.05 C17.16,103.06 16.93,102.05 16.86,101.13 C16.80,100.21 16.87,99.34 17.03,98.51 C17.20,97.67 17.52,96.86 17.85,96.11 C18.19,95.37 18.62,94.68 19.05,94.04 Z" fill="#f2f2f2" stroke="#8d8d8d" stroke-width="0.55"/>
<path d="M20.19,94.98 C20.56,94.36 20.91,93.75 21.35,93.21 C21.78,92.66 22.24,92.14 22.81,91.71 C23.38,91.29 23.98,90.92 24.75,90.66 C25.53,90.40 26.49,90.24 27.45,90.15 C28.42,90.05 29.58,90.06 30.55,90.09 C31.52,90.12 32.49,90.25 33.28,90.33 C34.07,90.42 34.69,90.50 35.30,90.62 C35.92,90.74 36.43,90.82 36.99,91.06 C37.55,91.30 38.08,91.58 38.66,92.06 C39.23,92.54 39.83,93.21 40.42,93.94 C41.01,94.67 41.60,95.58 42.19,96.45 C42.79,97.31 43.35,98.22 43.97,99.15 C44.59,100.07 45.24,101.01 45.89,101.99 C46.54,102.96 47.27,104.02 47.88,105.02 C48.49,106.03 49.07,107.03 49.55,108.00 C50.04,108.97 50.43,109.90 50.79,110.86 C51.14,111.81 51.45,112.76 51.69,113.71 C51.92,114.67 52.11,115.62 52.18,116.57 C52.25,117.51 52.24,118.48 52.13,119.40 C52.02,120.32 51.80,121.25 51.53,122.09 C51.26,122.93 50.92,123.69 50.52,124.45 C50.12,125.22 49.63,126.00 49.12,126.68 C48.60,127.37 47.99,128.11 47.43,128.55 C46.86,128.99 46.29,129.30 45.73,129.31 C45.16,129.31 44.60,128.98 44.04,128.58 C43.48,128.18 42.89,127.52 42.37,126.92 C41.85,126.31 41.33,125.71 40.91,124.95 C40.48,124.19 40.15,123.29 39.82,122.37 C39.48,121.45 39.24,120.23 38.89,119.43 C38.54,118.63 38.19,117.82 37.74,117.55 C37.29,117.29 36.75,117.55 36.19,117.83 C35.64,118.10 35.02,118.85 34.40,119.20 C33.78,119.54 33.14,119.90 32.47,119.91 C31.80,119.92 31.11,119.57 30.39,119.24 C29.66,118.91 28.87,118.41 28.11,117.93 C27.34,117.44 26.57,116.90 25.81,116.34 C25.05,115.77 24.28,115.19 23.55,114.53 C22.82,113.87 22.06,113.13 21.43,112.36 C20.81,111.58 20.26,110.78 19.80,109.91 C19.35,109.03 18.99,108.08 18.70,107.12 C18.41,106.17 18.18,105.12 18.04,104.18 C17.91,103.25 17.84,102.34 17.89,101.50 C17.93,100.66 18.10,99.90 18.31,99.15 C18.52,98.39 18.84,97.66 19.16,96.96 C19.47,96.27 19.83,95.61 20.19,94.98 Z" fill="none" stroke="#919191" stroke-width="0.5"/>
<path d="M17.22,95.57 C17.38,94.81 17.79,93.97 18.31,93.27 C18.83,92.56 19.60,91.85 20.34,91.32 C21.07,90.80 21.89,90.41 22.74,90.11 C23.60,89.81 24.53,89.67 25.46,89.54 C26.40,89.41 27.45,89.34 28.36,89.31 C29.27,89.29 30.15,89.32 30.92,89.40 C31.70,89.48 32.36,89.61 33.01,89.78 C33.66,89.94 34.26,90.16 34.82,90.40 C35.38,90.63 35.88,90.88 36.38,91.20 C36.87,91.52 37.35,91.86 37.79,92.30 C38.23,92.74 38.69,93.25 39.03,93.85 C39.36,94.45 39.66,95.12 39.81,95.90 C39.95,96.68 39.96,97.61 39.88,98.53 C39.80,99.45 39.57,100.50 39.34,101.41 C39.12,102.33 38.83,103.17 38.53,104.01 C38.23,104.85 37.93,105.64 37.54,106.45 C37.16,107.26 36.73,108.15 36.21,108.88 C35.68,109.61 35.09,110.30 34.39,110.82 C33.68,111.33 32.82,111.71 31.98,111.95 C31.13,112.19 30.15,112.29 29.32,112.28 C28.50,112.26 27.72,112.12 27.02,111.87 C26.32,111.62 25.71,111.22 25.11,110.77 C24.50,110.32 23.91,109.74 23.39,109.18 C22.88,108.63 22.41,108.03 22.01,107.43 C21.60,106.82 21.29,106.19 20.99,105.55 C20.69,104.92 20.46,104.24 20.18,103.61 C19.90,102.99 19.64,102.41 19.32,101.81 C18.99,101.20 18.58,100.63 18.25,99.98 C17.92,99.32 17.50,98.59 17.33,97.86 C17.15,97.13 17.05,96.34 17.22,95.57 Z" fill="#cdcdcd" stroke="#4f4f4f" stroke-width="0.65"/>
<path d="M19.35,96.28 C19.69,95.71 20.16,95.16 20.63,94.62 C21.09,94.07 21.58,93.49 22.11,93.00 C22.64,92.51 23.16,92.04 23.80,91.70 C24.44,91.36 25.20,91.13 25.97,90.98 C26.75,90.83 27.68,90.81 28.46,90.80 C29.23,90.80 29.96,90.90 30.63,90.96 C31.29,91.02 31.85,91.08 32.44,91.16 C33.03,91.23 33.63,91.27 34.18,91.40 C34.72,91.53 35.26,91.68 35.70,91.96 C36.14,92.25 36.52,92.64 36.81,93.10 C37.10,93.56 37.30,94.16 37.45,94.74 C37.60,95.32 37.65,95.93 37.72,96.59 C37.80,97.25 37.84,97.94 37.90,98.70 C37.96,99.47 38.07,100.34 38.07,101.18 C38.08,102.01 38.10,102.92 37.93,103.73 C37.77,104.55 37.49,105.37 37.08,106.07 C36.67,106.78 36.07,107.45 35.48,107.94 C34.89,108.43 34.21,108.75 33.53,109.02 C32.85,109.29 32.12,109.42 31.40,109.55 C30.69,109.68 29.93,109.78 29.26,109.80 C28.59,109.81 27.96,109.81 27.38,109.64 C26.80,109.47 26.29,109.16 25.79,108.78 C25.30,108.41 24.85,107.87 24.42,107.41 C23.99,106.95 23.63,106.47 23.23,106.04 C22.83,105.60 22.45,105.22 22.02,104.78 C21.58,104.34 21.08,103.90 20.64,103.40 C20.19,102.90 19.70,102.37 19.35,101.80 C19.01,101.22 18.71,100.59 18.58,99.96 C18.45,99.33 18.45,98.65 18.58,98.04 C18.71,97.42 19.01,96.85 19.35,96.28 Z" fill="#bdbdbd" stroke="#4f4f4f" stroke-width="0.55"/>
<path d="M20.71,96.74 C20.90,96.22 21.24,95.69 21.61,95.19 C21.99,94.70 22.46,94.19 22.93,93.77 C23.41,93.36 23.90,92.99 24.48,92.73 C25.06,92.46 25.73,92.29 26.41,92.20 C27.08,92.11 27.89,92.13 28.54,92.19 C29.20,92.26 29.80,92.44 30.32,92.58 C30.84,92.72 31.23,92.90 31.67,93.03 C32.11,93.15 32.51,93.24 32.94,93.34 C33.37,93.44 33.81,93.47 34.24,93.61 C34.67,93.75 35.12,93.89 35.52,94.16 C35.91,94.43 36.31,94.79 36.59,95.22 C36.87,95.66 37.08,96.18 37.20,96.77 C37.31,97.36 37.31,98.06 37.27,98.76 C37.23,99.46 37.09,100.26 36.93,100.97 C36.78,101.67 36.58,102.35 36.33,102.97 C36.07,103.59 35.76,104.17 35.39,104.70 C35.02,105.23 34.56,105.74 34.09,106.13 C33.62,106.51 33.11,106.78 32.58,107.02 C32.05,107.25 31.48,107.37 30.92,107.51 C30.36,107.65 29.76,107.78 29.21,107.87 C28.66,107.96 28.14,108.07 27.63,108.04 C27.13,108.01 26.64,107.92 26.17,107.70 C25.69,107.49 25.20,107.13 24.80,106.76 C24.39,106.39 24.04,105.92 23.74,105.47 C23.43,105.01 23.22,104.52 22.99,104.04 C22.75,103.57 22.56,103.07 22.33,102.61 C22.10,102.15 21.85,101.72 21.60,101.26 C21.36,100.80 21.07,100.35 20.88,99.86 C20.69,99.37 20.51,98.82 20.48,98.30 C20.45,97.78 20.52,97.26 20.71,96.74 Z" fill="#b2b2b2" stroke="#4f4f4f" stroke-width="0.55"/>
<path d="M22.68,97.39 C22.88,97.01 23.12,96.61 23.42,96.25 C23.72,95.89 24.09,95.51 24.48,95.23 C24.86,94.96 25.29,94.75 25.73,94.60 C26.18,94.45 26.67,94.41 27.16,94.32 C27.65,94.24 28.17,94.18 28.66,94.08 C29.15,93.99 29.63,93.86 30.09,93.77 C30.56,93.68 31.02,93.57 31.45,93.55 C31.89,93.54 32.34,93.58 32.71,93.70 C33.08,93.82 33.39,94.03 33.64,94.28 C33.90,94.52 34.07,94.86 34.26,95.19 C34.45,95.52 34.59,95.88 34.76,96.26 C34.92,96.63 35.10,96.98 35.24,97.42 C35.38,97.86 35.54,98.36 35.59,98.91 C35.65,99.46 35.66,100.14 35.57,100.71 C35.47,101.29 35.27,101.87 35.03,102.36 C34.78,102.85 34.44,103.26 34.10,103.65 C33.76,104.04 33.38,104.40 33.01,104.71 C32.63,105.03 32.27,105.29 31.87,105.52 C31.46,105.74 31.02,105.93 30.57,106.05 C30.12,106.17 29.61,106.25 29.17,106.24 C28.74,106.24 28.33,106.15 27.96,106.02 C27.59,105.89 27.28,105.65 26.95,105.45 C26.61,105.24 26.29,105.00 25.93,104.81 C25.57,104.61 25.18,104.47 24.80,104.26 C24.41,104.06 23.97,103.87 23.61,103.57 C23.25,103.28 22.87,102.88 22.62,102.47 C22.37,102.07 22.21,101.58 22.12,101.14 C22.02,100.70 22.03,100.24 22.05,99.81 C22.07,99.38 22.15,98.95 22.25,98.55 C22.36,98.15 22.49,97.78 22.68,97.39 Z" fill="#aeaeae" stroke="#525252" stroke-width="0.55"/>
<path d="M24.90,98.13 C25.09,97.90 25.31,97.70 25.49,97.45 C25.68,97.21 25.83,96.94 26.01,96.68 C26.19,96.41 26.34,96.11 26.58,95.87 C26.83,95.63 27.13,95.40 27.48,95.23 C27.84,95.05 28.30,94.91 28.71,94.80 C29.12,94.70 29.54,94.64 29.94,94.59 C30.33,94.54 30.69,94.51 31.06,94.52 C31.42,94.52 31.80,94.53 32.12,94.62 C32.44,94.71 32.74,94.84 32.96,95.04 C33.18,95.25 33.34,95.55 33.43,95.87 C33.53,96.19 33.53,96.59 33.52,96.95 C33.50,97.32 33.40,97.69 33.34,98.05 C33.27,98.42 33.18,98.77 33.13,99.13 C33.07,99.50 33.06,99.87 33.02,100.24 C32.99,100.61 32.99,100.99 32.91,101.35 C32.83,101.71 32.72,102.07 32.55,102.39 C32.39,102.71 32.15,103.03 31.91,103.29 C31.67,103.55 31.41,103.75 31.12,103.95 C30.83,104.15 30.52,104.32 30.19,104.49 C29.86,104.66 29.49,104.85 29.14,104.97 C28.79,105.08 28.42,105.20 28.09,105.19 C27.75,105.19 27.43,105.09 27.12,104.93 C26.82,104.77 26.52,104.49 26.26,104.24 C25.99,103.99 25.77,103.69 25.55,103.41 C25.33,103.13 25.14,102.86 24.95,102.56 C24.75,102.27 24.55,101.96 24.39,101.65 C24.24,101.33 24.10,101.00 24.04,100.68 C23.97,100.36 23.96,100.03 24.01,99.72 C24.06,99.41 24.19,99.11 24.34,98.85 C24.49,98.58 24.71,98.37 24.90,98.13 Z" fill="#b8b8b8" stroke="#595959" stroke-width="0.5"/>
<path d="M26.17,98.56 C26.20,98.36 26.22,98.14 26.30,97.93 C26.38,97.71 26.50,97.46 26.65,97.28 C26.80,97.10 27.00,96.94 27.22,96.83 C27.44,96.73 27.72,96.69 27.99,96.64 C28.25,96.60 28.55,96.59 28.82,96.55 C29.08,96.51 29.34,96.45 29.59,96.40 C29.84,96.35 30.09,96.28 30.34,96.25 C30.59,96.23 30.86,96.21 31.07,96.25 C31.29,96.30 31.49,96.39 31.65,96.52 C31.80,96.65 31.91,96.84 32.01,97.04 C32.10,97.23 32.16,97.46 32.21,97.69 C32.26,97.92 32.30,98.15 32.30,98.40 C32.31,98.65 32.31,98.93 32.26,99.21 C32.21,99.48 32.13,99.80 32.01,100.06 C31.89,100.31 31.73,100.53 31.57,100.72 C31.41,100.91 31.23,101.03 31.07,101.19 C30.92,101.34 30.79,101.48 30.66,101.66 C30.53,101.83 30.44,102.02 30.30,102.23 C30.16,102.43 30.01,102.68 29.81,102.88 C29.61,103.08 29.34,103.30 29.10,103.43 C28.85,103.55 28.58,103.63 28.34,103.63 C28.10,103.62 27.87,103.52 27.65,103.40 C27.44,103.27 27.23,103.07 27.04,102.88 C26.85,102.70 26.68,102.50 26.53,102.30 C26.38,102.10 26.23,101.90 26.13,101.67 C26.03,101.44 25.94,101.18 25.91,100.94 C25.87,100.70 25.88,100.46 25.90,100.24 C25.92,100.02 25.98,99.82 26.02,99.63 C26.05,99.44 26.09,99.27 26.11,99.09 C26.14,98.91 26.13,98.75 26.17,98.56 Z" fill="#c6c6c6" stroke="#606060" stroke-width="0.5"/>
<path d="M27.54,99.01 C27.55,98.91 27.52,98.78 27.53,98.64 C27.54,98.50 27.53,98.31 27.58,98.16 C27.63,98.01 27.71,97.85 27.82,97.73 C27.94,97.62 28.11,97.55 28.29,97.49 C28.46,97.44 28.69,97.43 28.87,97.42 C29.05,97.41 29.23,97.42 29.39,97.43 C29.56,97.43 29.70,97.43 29.84,97.45 C29.99,97.47 30.13,97.50 30.25,97.55 C30.36,97.60 30.46,97.68 30.53,97.77 C30.60,97.87 30.64,98.00 30.67,98.13 C30.70,98.26 30.70,98.40 30.71,98.54 C30.72,98.67 30.73,98.79 30.74,98.92 C30.75,99.05 30.78,99.19 30.78,99.34 C30.79,99.49 30.80,99.67 30.78,99.83 C30.75,99.98 30.70,100.14 30.63,100.27 C30.56,100.40 30.46,100.51 30.36,100.61 C30.27,100.71 30.15,100.79 30.06,100.88 C29.97,100.97 29.89,101.06 29.79,101.17 C29.70,101.28 29.61,101.41 29.49,101.53 C29.36,101.65 29.21,101.80 29.06,101.89 C28.91,101.97 28.74,102.05 28.59,102.06 C28.44,102.07 28.29,102.02 28.16,101.94 C28.02,101.87 27.89,101.73 27.78,101.60 C27.67,101.48 27.58,101.34 27.49,101.21 C27.41,101.07 27.34,100.94 27.28,100.80 C27.23,100.66 27.18,100.50 27.17,100.35 C27.16,100.21 27.18,100.06 27.21,99.93 C27.24,99.80 27.31,99.68 27.36,99.57 C27.41,99.47 27.47,99.38 27.50,99.29 C27.53,99.20 27.54,99.12 27.54,99.01 Z" fill="#d2d2d2" stroke="#676767" stroke-width="0.5"/>
<path d="M22.00,91.00 C23.00,90.63 26.00,89.13 28.00,88.80 C30.00,88.47 32.25,88.47 34.00,89.00 C35.75,89.53 37.75,91.50 38.50,92.00" fill="none" stroke="#070707" stroke-width="2.1"/>
<path d="M19.60,96.00 C19.75,97.17 19.85,100.92 20.50,103.00 C21.15,105.08 22.33,107.08 23.50,108.50 C24.67,109.92 26.83,111.00 27.50,111.50" fill="none" stroke="#262626" stroke-width="1.2"/>
<path d="M38.78,91.19 C39.06,91.01 39.48,91.37 39.94,91.86 C40.39,92.36 40.98,93.32 41.50,94.16 C42.03,95.01 42.56,96.01 43.09,96.91 C43.61,97.81 44.11,98.70 44.63,99.57 C45.16,100.44 45.70,101.33 46.22,102.16 C46.75,102.98 47.25,103.71 47.77,104.53 C48.29,105.34 48.84,106.13 49.35,107.05 C49.85,107.96 50.41,109.01 50.79,110.00 C51.18,111.00 51.47,112.05 51.67,113.02 C51.86,114.00 51.93,114.93 51.96,115.87 C51.99,116.82 51.96,117.76 51.86,118.70 C51.76,119.64 51.62,120.55 51.37,121.51 C51.12,122.48 50.77,123.55 50.37,124.49 C49.96,125.43 49.44,126.46 48.97,127.15 C48.49,127.83 48.01,128.36 47.52,128.59 C47.02,128.83 46.53,128.72 46.01,128.55 C45.50,128.39 44.93,128.02 44.43,127.61 C43.92,127.20 43.42,126.73 42.99,126.10 C42.56,125.46 42.16,124.70 41.82,123.79 C41.48,122.88 41.17,121.71 40.96,120.63 C40.74,119.55 40.61,118.37 40.52,117.30 C40.43,116.24 40.50,115.23 40.42,114.24 C40.33,113.25 40.21,112.38 40.01,111.37 C39.80,110.35 39.44,109.21 39.20,108.14 C38.96,107.07 38.73,105.97 38.57,104.96 C38.41,103.95 38.31,103.00 38.24,102.06 C38.17,101.12 38.17,100.31 38.16,99.31 C38.14,98.32 38.13,97.16 38.15,96.09 C38.16,95.02 38.14,93.71 38.25,92.90 C38.35,92.08 38.49,91.36 38.78,91.19 Z" fill="#f0f0f0" stroke="#5b5b5b" stroke-width="0.6"/>
<path d="M39.95,96.10 C40.14,95.84 40.44,95.96 40.78,96.21 C41.12,96.47 41.57,97.09 41.98,97.65 C42.40,98.22 42.84,98.93 43.28,99.60 C43.72,100.28 44.16,100.97 44.62,101.68 C45.08,102.39 45.57,103.16 46.04,103.87 C46.50,104.59 46.95,105.24 47.42,105.97 C47.89,106.69 48.38,107.40 48.83,108.21 C49.28,109.03 49.78,109.97 50.12,110.86 C50.46,111.75 50.70,112.68 50.86,113.55 C51.01,114.41 51.05,115.22 51.05,116.04 C51.06,116.86 51.00,117.67 50.88,118.45 C50.77,119.23 50.61,119.98 50.36,120.75 C50.11,121.52 49.76,122.36 49.39,123.06 C49.02,123.77 48.55,124.52 48.14,124.98 C47.72,125.43 47.31,125.73 46.89,125.81 C46.48,125.89 46.08,125.67 45.67,125.48 C45.27,125.29 44.84,124.95 44.44,124.65 C44.05,124.35 43.67,124.07 43.32,123.68 C42.96,123.29 42.63,122.89 42.30,122.33 C41.97,121.77 41.64,121.06 41.34,120.33 C41.05,119.59 40.77,118.80 40.52,117.94 C40.28,117.08 40.06,116.18 39.87,115.18 C39.68,114.18 39.49,112.99 39.38,111.92 C39.28,110.86 39.25,109.72 39.22,108.80 C39.19,107.87 39.20,107.09 39.22,106.37 C39.24,105.65 39.29,105.07 39.34,104.46 C39.40,103.84 39.48,103.37 39.53,102.70 C39.57,102.02 39.58,101.20 39.60,100.38 C39.62,99.56 39.58,98.50 39.64,97.78 C39.70,97.07 39.76,96.37 39.95,96.10 Z" fill="none" stroke="#5b5b5b" stroke-width="0.55"/>
<path d="M40.51,98.78 C40.69,98.59 40.98,98.80 41.28,99.08 C41.59,99.36 41.99,99.96 42.35,100.48 C42.71,101.00 43.09,101.60 43.46,102.19 C43.84,102.78 44.22,103.35 44.60,104.00 C44.98,104.65 45.41,105.38 45.76,106.09 C46.11,106.80 46.43,107.56 46.69,108.27 C46.96,108.99 47.14,109.72 47.35,110.37 C47.56,111.02 47.73,111.60 47.96,112.18 C48.18,112.77 48.47,113.28 48.69,113.88 C48.92,114.48 49.16,115.11 49.29,115.77 C49.42,116.42 49.49,117.14 49.47,117.80 C49.44,118.46 49.33,119.08 49.15,119.72 C48.98,120.37 48.71,121.03 48.44,121.66 C48.16,122.28 47.82,122.98 47.51,123.47 C47.19,123.97 46.89,124.41 46.57,124.64 C46.24,124.87 45.91,124.91 45.56,124.85 C45.21,124.80 44.80,124.59 44.45,124.32 C44.09,124.04 43.74,123.66 43.44,123.19 C43.14,122.72 42.87,122.14 42.63,121.49 C42.39,120.85 42.18,120.07 42.01,119.35 C41.83,118.63 41.69,117.90 41.58,117.18 C41.47,116.45 41.40,115.74 41.34,115.01 C41.29,114.28 41.27,113.52 41.23,112.82 C41.20,112.13 41.18,111.45 41.14,110.84 C41.10,110.22 41.06,109.70 41.01,109.13 C40.95,108.57 40.89,108.04 40.81,107.43 C40.74,106.81 40.65,106.19 40.57,105.42 C40.49,104.66 40.38,103.69 40.32,102.82 C40.26,101.95 40.19,100.89 40.23,100.22 C40.26,99.54 40.34,98.97 40.51,98.78 Z" fill="#dadada" stroke="#5b5b5b" stroke-width="0.55"/>
<path d="M41.57,103.25 C41.67,103.00 41.84,103.00 42.05,103.10 C42.26,103.20 42.54,103.55 42.81,103.87 C43.08,104.20 43.37,104.62 43.67,105.05 C43.96,105.47 44.27,105.91 44.58,106.40 C44.89,106.89 45.24,107.43 45.54,107.97 C45.84,108.51 46.13,109.07 46.37,109.65 C46.61,110.22 46.81,110.83 46.97,111.40 C47.12,111.96 47.20,112.54 47.29,113.03 C47.39,113.53 47.43,113.92 47.51,114.35 C47.58,114.78 47.67,115.15 47.74,115.60 C47.81,116.05 47.89,116.53 47.92,117.03 C47.94,117.53 47.94,118.05 47.87,118.58 C47.79,119.11 47.64,119.71 47.47,120.23 C47.29,120.75 47.03,121.32 46.79,121.70 C46.56,122.08 46.31,122.37 46.06,122.52 C45.81,122.67 45.56,122.65 45.29,122.60 C45.03,122.55 44.73,122.40 44.46,122.23 C44.19,122.06 43.92,121.86 43.68,121.57 C43.44,121.27 43.21,120.92 43.01,120.48 C42.81,120.03 42.61,119.46 42.45,118.90 C42.30,118.35 42.17,117.75 42.07,117.16 C41.98,116.57 41.93,115.96 41.88,115.36 C41.83,114.75 41.81,114.11 41.79,113.54 C41.76,112.96 41.75,112.40 41.73,111.91 C41.72,111.42 41.72,111.02 41.72,110.62 C41.71,110.22 41.73,109.89 41.72,109.51 C41.72,109.13 41.72,108.80 41.70,108.32 C41.68,107.83 41.62,107.22 41.58,106.60 C41.54,105.99 41.46,105.18 41.46,104.63 C41.46,104.07 41.47,103.51 41.57,103.25 Z" fill="none" stroke="#616161" stroke-width="0.55"/>
<path d="M42.42,107.00 C42.50,106.86 42.63,106.89 42.79,107.00 C42.94,107.12 43.15,107.40 43.34,107.67 C43.53,107.94 43.74,108.30 43.94,108.63 C44.15,108.96 44.35,109.32 44.55,109.67 C44.76,110.02 44.97,110.39 45.17,110.73 C45.37,111.07 45.56,111.37 45.75,111.70 C45.94,112.04 46.14,112.36 46.30,112.72 C46.46,113.08 46.61,113.50 46.70,113.86 C46.79,114.22 46.82,114.58 46.84,114.89 C46.85,115.21 46.82,115.47 46.81,115.76 C46.79,116.04 46.78,116.31 46.76,116.62 C46.74,116.92 46.73,117.23 46.69,117.59 C46.64,117.94 46.57,118.36 46.46,118.74 C46.36,119.12 46.21,119.56 46.06,119.87 C45.92,120.17 45.76,120.42 45.59,120.56 C45.42,120.70 45.25,120.71 45.06,120.70 C44.87,120.70 44.66,120.62 44.47,120.52 C44.28,120.42 44.08,120.31 43.90,120.12 C43.73,119.93 43.55,119.69 43.41,119.37 C43.26,119.04 43.11,118.60 43.02,118.16 C42.93,117.72 42.87,117.20 42.87,116.74 C42.86,116.27 42.95,115.78 43.00,115.38 C43.04,114.99 43.13,114.69 43.12,114.37 C43.11,114.04 43.01,113.75 42.93,113.42 C42.86,113.09 42.75,112.74 42.68,112.40 C42.61,112.07 42.55,111.73 42.51,111.40 C42.46,111.06 42.44,110.76 42.41,110.38 C42.38,110.01 42.36,109.57 42.34,109.15 C42.32,108.72 42.29,108.20 42.30,107.84 C42.32,107.48 42.34,107.14 42.42,107.00 Z" fill="#d4d4d4" stroke="#676767" stroke-width="0.5"/>
<path d="M43.46,111.40 C43.50,111.33 43.56,111.36 43.64,111.40 C43.72,111.45 43.82,111.58 43.91,111.69 C44.00,111.79 44.10,111.91 44.20,112.02 C44.31,112.13 44.41,112.22 44.53,112.33 C44.65,112.44 44.80,112.55 44.94,112.69 C45.08,112.83 45.25,112.97 45.39,113.17 C45.53,113.37 45.69,113.62 45.79,113.88 C45.88,114.14 45.94,114.49 45.95,114.74 C45.97,114.99 45.90,115.21 45.86,115.39 C45.82,115.58 45.77,115.70 45.74,115.84 C45.71,115.99 45.70,116.12 45.68,116.27 C45.66,116.43 45.66,116.58 45.63,116.76 C45.60,116.94 45.56,117.15 45.51,117.35 C45.46,117.54 45.38,117.77 45.31,117.93 C45.23,118.09 45.15,118.24 45.07,118.33 C44.98,118.42 44.90,118.45 44.80,118.47 C44.70,118.49 44.59,118.48 44.48,118.45 C44.38,118.41 44.27,118.36 44.17,118.26 C44.07,118.16 43.98,118.02 43.90,117.84 C43.82,117.65 43.75,117.40 43.69,117.17 C43.63,116.94 43.60,116.69 43.56,116.45 C43.53,116.21 43.51,115.99 43.48,115.76 C43.45,115.52 43.41,115.28 43.38,115.04 C43.35,114.80 43.31,114.54 43.30,114.32 C43.28,114.11 43.28,113.92 43.29,113.76 C43.29,113.59 43.31,113.47 43.33,113.34 C43.35,113.21 43.37,113.12 43.38,112.97 C43.40,112.82 43.40,112.63 43.40,112.44 C43.40,112.25 43.38,111.99 43.39,111.82 C43.40,111.64 43.41,111.47 43.46,111.40 Z" fill="none" stroke="#6c6c6c" stroke-width="0.5"/>
<path d="M40.30,100.00 C40.67,99.13 41.80,98.22 42.50,98.30 C43.20,98.38 44.22,99.47 44.50,100.50 C44.78,101.53 44.65,103.62 44.20,104.50 C43.75,105.38 42.45,105.97 41.80,105.80 C41.15,105.63 40.55,104.47 40.30,103.50 C40.05,102.53 39.93,100.87 40.30,100.00 Z" fill="#cfcfcf" stroke="#3f3f3f" stroke-width="0.8"/>
<path d="M17.50,112.50 C18.58,112.92 21.83,113.83 24.00,115.00 C26.17,116.17 28.58,117.75 30.50,119.50 C32.42,121.25 34.25,124.00 35.50,125.50 C36.75,127.00 37.58,128.00 38.00,128.50" fill="none" stroke="#737373" stroke-width="0.55"/>
<path d="M21.00,112.00 C22.08,112.58 25.50,114.08 27.50,115.50 C29.50,116.92 31.42,118.92 33.00,120.50 C34.58,122.08 36.33,124.25 37.00,125.00" fill="none" stroke="#7b7b7b" stroke-width="0.5"/>
<path d="M16.00,116.00 C17.17,116.67 20.83,118.58 23.00,120.00 C25.17,121.42 27.17,123.17 29.00,124.50 C30.83,125.83 32.50,127.17 34.00,128.00 C35.50,128.83 37.33,129.25 38.00,129.50" fill="none" stroke="#848484" stroke-width="0.5"/></g>
<rect x="14.5" y="86.5" width="53.0" height="54.0" fill="none" stroke="#c4c4c4" stroke-width="1"/>
<line x1="38.5" y1="86.5" x2="38.5" y2="140.5" stroke="#6a6a6a" stroke-width="1"/>
<line x1="14.5" y1="113.5" x2="67.5" y2="113.5" stroke="#6a6a6a" stroke-width="1"/>
<clipPath id="cpc12"><rect x="14.5" y="155.5" width="53.0" height="53.0"/></clipPath><g clip-path="url(#cpc12)"><path d="M17.90,160.56 C18.37,159.87 19.01,159.35 19.73,158.85 C20.45,158.35 21.30,157.93 22.22,157.56 C23.14,157.19 24.09,156.86 25.25,156.63 C26.41,156.40 27.74,156.23 29.16,156.17 C30.58,156.10 32.29,156.13 33.78,156.22 C35.27,156.32 36.78,156.50 38.10,156.75 C39.41,156.99 40.54,157.31 41.67,157.70 C42.80,158.09 43.85,158.55 44.88,159.10 C45.92,159.64 46.91,160.25 47.87,160.97 C48.82,161.70 49.79,162.55 50.63,163.46 C51.46,164.37 52.26,165.43 52.88,166.43 C53.49,167.43 53.97,168.47 54.32,169.48 C54.67,170.49 54.84,171.51 54.96,172.51 C55.08,173.52 55.07,174.55 55.04,175.50 C55.01,176.45 54.91,177.34 54.78,178.23 C54.64,179.11 54.46,179.97 54.24,180.82 C54.01,181.68 53.75,182.58 53.45,183.36 C53.14,184.14 52.83,184.89 52.40,185.52 C51.98,186.16 51.47,186.70 50.88,187.16 C50.30,187.62 49.58,188.00 48.90,188.28 C48.23,188.55 47.52,188.74 46.84,188.79 C46.17,188.84 45.51,188.73 44.85,188.58 C44.18,188.42 43.50,188.11 42.87,187.86 C42.23,187.61 41.59,187.34 41.03,187.07 C40.47,186.79 40.02,186.54 39.53,186.23 C39.04,185.92 38.66,185.55 38.10,185.20 C37.53,184.85 36.95,184.48 36.14,184.12 C35.33,183.76 34.27,183.43 33.23,183.06 C32.19,182.70 30.96,182.32 29.90,181.92 C28.85,181.53 27.83,181.09 26.90,180.68 C25.96,180.27 25.14,179.88 24.30,179.47 C23.45,179.07 22.60,178.72 21.83,178.25 C21.07,177.78 20.33,177.29 19.69,176.65 C19.06,176.02 18.48,175.25 18.02,174.43 C17.56,173.62 17.18,172.68 16.93,171.78 C16.67,170.87 16.56,169.96 16.50,169.00 C16.43,168.04 16.44,167.02 16.51,166.02 C16.58,165.02 16.66,163.91 16.90,163.00 C17.13,162.09 17.43,161.26 17.90,160.56 Z" fill="#efefef" stroke="#787878" stroke-width="0.55"/>
<path d="M16.85,160.09 C17.30,159.37 17.94,158.82 18.70,158.34 C19.45,157.85 20.39,157.46 21.38,157.18 C22.37,156.90 23.43,156.71 24.64,156.64 C25.85,156.58 27.25,156.64 28.62,156.80 C30.00,156.95 31.58,157.27 32.89,157.58 C34.19,157.88 35.40,158.26 36.45,158.62 C37.51,158.98 38.33,159.35 39.21,159.73 C40.09,160.11 40.89,160.49 41.74,160.93 C42.59,161.36 43.44,161.78 44.30,162.33 C45.17,162.88 46.10,163.50 46.95,164.21 C47.80,164.92 48.68,165.75 49.40,166.59 C50.13,167.42 50.77,168.31 51.29,169.21 C51.81,170.12 52.19,171.06 52.49,172.00 C52.80,172.95 53.00,173.96 53.13,174.90 C53.26,175.84 53.32,176.75 53.29,177.65 C53.27,178.54 53.17,179.42 53.00,180.28 C52.82,181.13 52.57,182.03 52.25,182.78 C51.94,183.53 51.57,184.23 51.10,184.80 C50.63,185.37 50.05,185.83 49.41,186.19 C48.78,186.56 48.00,186.84 47.28,187.01 C46.57,187.19 45.83,187.26 45.13,187.23 C44.44,187.19 43.77,187.01 43.12,186.80 C42.46,186.59 41.80,186.24 41.19,185.95 C40.58,185.67 39.97,185.37 39.45,185.08 C38.92,184.79 38.50,184.52 38.04,184.19 C37.58,183.87 37.23,183.49 36.71,183.12 C36.19,182.76 35.65,182.36 34.93,181.98 C34.22,181.61 33.29,181.24 32.40,180.86 C31.51,180.49 30.48,180.11 29.59,179.75 C28.70,179.38 27.86,179.00 27.07,178.66 C26.27,178.32 25.57,178.03 24.81,177.72 C24.06,177.41 23.27,177.18 22.54,176.82 C21.81,176.46 21.07,176.09 20.41,175.57 C19.75,175.06 19.12,174.42 18.58,173.71 C18.04,173.01 17.54,172.17 17.17,171.34 C16.79,170.51 16.52,169.65 16.31,168.72 C16.10,167.78 15.96,166.76 15.90,165.75 C15.85,164.73 15.83,163.58 15.99,162.64 C16.14,161.69 16.40,160.80 16.85,160.09 Z" fill="none" stroke="#6f6f6f" stroke-width="0.55"/>
<path d="M18.41,161.24 C18.69,160.57 19.11,160.01 19.64,159.48 C20.18,158.95 20.84,158.47 21.61,158.05 C22.38,157.64 23.21,157.27 24.25,157.02 C25.29,156.77 26.53,156.59 27.84,156.55 C29.16,156.51 30.77,156.61 32.11,156.79 C33.46,156.98 34.79,157.31 35.90,157.66 C37.01,158.02 37.89,158.45 38.76,158.92 C39.63,159.38 40.38,159.90 41.12,160.44 C41.87,160.98 42.55,161.55 43.22,162.18 C43.90,162.82 44.57,163.51 45.18,164.25 C45.79,164.98 46.38,165.80 46.87,166.58 C47.35,167.37 47.76,168.16 48.09,168.95 C48.42,169.75 48.65,170.55 48.85,171.36 C49.05,172.17 49.18,173.02 49.29,173.83 C49.40,174.63 49.47,175.41 49.50,176.20 C49.52,176.98 49.51,177.77 49.43,178.55 C49.36,179.33 49.23,180.17 49.04,180.89 C48.85,181.61 48.63,182.30 48.29,182.87 C47.94,183.44 47.50,183.92 46.99,184.32 C46.48,184.71 45.82,185.03 45.22,185.24 C44.61,185.45 43.96,185.57 43.35,185.57 C42.73,185.58 42.14,185.44 41.55,185.27 C40.95,185.10 40.35,184.80 39.79,184.55 C39.24,184.31 38.68,184.05 38.20,183.80 C37.72,183.56 37.33,183.33 36.91,183.06 C36.49,182.78 36.18,182.47 35.70,182.17 C35.22,181.87 34.72,181.55 34.04,181.24 C33.36,180.93 32.47,180.64 31.59,180.32 C30.72,180.00 29.69,179.66 28.82,179.31 C27.95,178.95 27.11,178.55 26.36,178.18 C25.60,177.82 24.95,177.46 24.29,177.10 C23.63,176.74 22.97,176.43 22.39,176.02 C21.80,175.62 21.25,175.20 20.77,174.67 C20.30,174.15 19.88,173.52 19.54,172.87 C19.19,172.22 18.90,171.48 18.68,170.76 C18.46,170.05 18.35,169.34 18.23,168.56 C18.12,167.79 18.04,166.96 17.99,166.12 C17.95,165.28 17.88,164.33 17.95,163.52 C18.02,162.70 18.13,161.91 18.41,161.24 Z" fill="#e2e2e2" stroke="#6a6a6a" stroke-width="0.55"/>
<path d="M18.99,161.79 C19.31,161.23 19.78,160.80 20.33,160.42 C20.88,160.03 21.58,159.72 22.30,159.45 C23.02,159.19 23.78,158.98 24.67,158.81 C25.56,158.63 26.56,158.50 27.65,158.42 C28.74,158.33 30.04,158.27 31.21,158.28 C32.38,158.30 33.60,158.34 34.66,158.49 C35.71,158.64 36.65,158.87 37.54,159.19 C38.43,159.51 39.24,159.94 39.98,160.43 C40.72,160.93 41.37,161.51 41.97,162.13 C42.58,162.76 43.13,163.49 43.62,164.21 C44.12,164.93 44.57,165.72 44.96,166.46 C45.35,167.20 45.68,167.93 45.97,168.67 C46.26,169.40 46.49,170.13 46.70,170.88 C46.91,171.64 47.09,172.43 47.20,173.18 C47.31,173.93 47.39,174.67 47.38,175.38 C47.37,176.09 47.29,176.80 47.13,177.47 C46.98,178.14 46.73,178.82 46.45,179.40 C46.18,179.97 45.85,180.49 45.46,180.93 C45.07,181.37 44.62,181.71 44.14,182.03 C43.66,182.35 43.10,182.61 42.60,182.83 C42.09,183.04 41.59,183.22 41.10,183.29 C40.62,183.37 40.16,183.36 39.68,183.28 C39.20,183.21 38.70,183.01 38.22,182.83 C37.73,182.64 37.22,182.41 36.77,182.16 C36.33,181.90 35.94,181.62 35.54,181.31 C35.14,181.00 34.82,180.63 34.38,180.31 C33.94,179.99 33.51,179.67 32.91,179.41 C32.30,179.16 31.56,178.97 30.77,178.77 C29.99,178.58 29.05,178.45 28.21,178.25 C27.37,178.06 26.49,177.85 25.72,177.59 C24.94,177.33 24.22,177.04 23.56,176.70 C22.89,176.37 22.26,176.02 21.74,175.59 C21.22,175.16 20.79,174.67 20.44,174.12 C20.09,173.57 19.84,172.93 19.61,172.29 C19.39,171.66 19.23,170.97 19.09,170.31 C18.94,169.65 18.86,169.02 18.76,168.32 C18.67,167.62 18.56,166.88 18.51,166.12 C18.46,165.36 18.38,164.49 18.46,163.77 C18.54,163.04 18.68,162.35 18.99,161.79 Z" fill="none" stroke="#6a6a6a" stroke-width="0.55"/>
<path d="M18.76,161.82 C19.11,161.32 19.62,160.96 20.20,160.66 C20.78,160.35 21.51,160.14 22.25,160.00 C22.99,159.86 23.77,159.80 24.63,159.80 C25.49,159.80 26.44,159.90 27.38,160.00 C28.32,160.10 29.36,160.26 30.27,160.39 C31.19,160.51 32.06,160.62 32.87,160.75 C33.68,160.88 34.39,160.98 35.13,161.15 C35.88,161.33 36.61,161.53 37.33,161.81 C38.06,162.09 38.78,162.42 39.47,162.85 C40.16,163.28 40.86,163.81 41.48,164.39 C42.09,164.97 42.68,165.66 43.16,166.32 C43.63,166.98 44.03,167.67 44.35,168.37 C44.67,169.06 44.90,169.76 45.09,170.47 C45.27,171.18 45.40,171.93 45.48,172.63 C45.55,173.33 45.58,174.01 45.54,174.67 C45.50,175.32 45.40,175.97 45.22,176.58 C45.05,177.19 44.80,177.82 44.51,178.33 C44.21,178.84 43.87,179.29 43.47,179.65 C43.06,180.02 42.58,180.28 42.08,180.50 C41.59,180.73 41.00,180.89 40.49,181.01 C39.98,181.12 39.47,181.19 39.00,181.20 C38.52,181.21 38.10,181.14 37.66,181.05 C37.22,180.95 36.79,180.78 36.38,180.62 C35.96,180.47 35.54,180.31 35.16,180.12 C34.79,179.93 34.47,179.73 34.13,179.48 C33.79,179.23 33.51,178.92 33.12,178.62 C32.73,178.33 32.33,177.99 31.80,177.71 C31.27,177.42 30.61,177.16 29.95,176.92 C29.29,176.68 28.53,176.48 27.84,176.27 C27.15,176.07 26.47,175.89 25.81,175.71 C25.15,175.52 24.52,175.35 23.89,175.15 C23.27,174.94 22.61,174.75 22.04,174.46 C21.47,174.16 20.92,173.82 20.47,173.39 C20.01,172.95 19.62,172.40 19.29,171.83 C18.96,171.26 18.70,170.60 18.51,169.97 C18.31,169.33 18.20,168.70 18.11,168.01 C18.02,167.33 17.95,166.59 17.95,165.86 C17.94,165.13 17.93,164.30 18.07,163.62 C18.20,162.95 18.40,162.31 18.76,161.82 Z" fill="#d8d8d8" stroke="#6d6d6d" stroke-width="0.55"/>
<path d="M18.97,162.13 C19.22,161.64 19.64,161.27 20.13,160.95 C20.62,160.63 21.26,160.40 21.91,160.21 C22.56,160.03 23.26,159.92 24.04,159.85 C24.83,159.78 25.71,159.77 26.61,159.79 C27.52,159.82 28.57,159.89 29.48,159.99 C30.39,160.09 31.29,160.22 32.08,160.40 C32.86,160.58 33.53,160.79 34.17,161.06 C34.82,161.33 35.40,161.66 35.95,162.03 C36.50,162.39 36.99,162.81 37.47,163.26 C37.94,163.72 38.40,164.23 38.82,164.76 C39.25,165.28 39.65,165.86 40.01,166.42 C40.37,166.98 40.70,167.54 40.98,168.11 C41.26,168.68 41.50,169.26 41.70,169.85 C41.89,170.45 42.06,171.09 42.15,171.68 C42.25,172.28 42.31,172.86 42.29,173.42 C42.27,173.98 42.17,174.52 42.03,175.04 C41.89,175.56 41.68,176.08 41.45,176.53 C41.22,176.98 40.95,177.37 40.65,177.72 C40.36,178.07 40.01,178.36 39.66,178.63 C39.31,178.90 38.90,179.15 38.54,179.36 C38.17,179.57 37.81,179.77 37.46,179.88 C37.11,180.00 36.78,180.05 36.43,180.04 C36.07,180.03 35.69,179.93 35.31,179.82 C34.93,179.70 34.52,179.55 34.16,179.36 C33.79,179.16 33.46,178.93 33.13,178.66 C32.79,178.39 32.51,178.04 32.13,177.73 C31.75,177.42 31.36,177.08 30.86,176.79 C30.37,176.50 29.74,176.24 29.13,175.98 C28.53,175.72 27.83,175.49 27.22,175.25 C26.62,175.00 26.04,174.75 25.52,174.50 C25.00,174.24 24.54,173.99 24.10,173.73 C23.66,173.47 23.23,173.23 22.86,172.94 C22.48,172.65 22.16,172.34 21.85,171.98 C21.54,171.62 21.27,171.20 21.00,170.77 C20.73,170.33 20.46,169.86 20.21,169.37 C19.96,168.88 19.72,168.39 19.51,167.82 C19.29,167.26 19.05,166.62 18.90,165.96 C18.75,165.31 18.60,164.52 18.61,163.89 C18.62,163.25 18.71,162.62 18.97,162.13 Z" fill="none" stroke="#707070" stroke-width="0.5"/>
<path d="M18.25,161.82 C18.52,161.09 19.00,160.64 19.48,160.14 C19.97,159.64 20.56,159.25 21.15,158.83 C21.74,158.41 22.30,157.96 23.01,157.62 C23.72,157.27 24.54,156.90 25.44,156.75 C26.34,156.60 27.47,156.60 28.41,156.71 C29.35,156.81 30.26,157.10 31.08,157.37 C31.91,157.64 32.60,157.98 33.36,158.31 C34.12,158.64 34.93,158.96 35.64,159.35 C36.35,159.74 37.10,160.14 37.64,160.65 C38.18,161.16 38.62,161.77 38.88,162.41 C39.14,163.05 39.21,163.82 39.19,164.50 C39.16,165.18 38.95,165.84 38.75,166.49 C38.55,167.14 38.27,167.76 37.99,168.40 C37.71,169.04 37.43,169.72 37.07,170.32 C36.71,170.92 36.35,171.50 35.85,172.00 C35.35,172.50 34.73,172.91 34.10,173.33 C33.46,173.74 32.72,174.10 32.02,174.51 C31.33,174.91 30.69,175.33 29.95,175.75 C29.21,176.16 28.45,176.67 27.59,176.99 C26.73,177.31 25.68,177.64 24.81,177.66 C23.93,177.69 23.02,177.50 22.32,177.14 C21.61,176.78 21.06,176.13 20.58,175.48 C20.11,174.84 19.79,174.03 19.49,173.26 C19.18,172.49 19.00,171.75 18.78,170.85 C18.56,169.96 18.33,168.93 18.18,167.88 C18.03,166.82 17.85,165.53 17.86,164.52 C17.87,163.51 17.98,162.55 18.25,161.82 Z" fill="#c4c4c4" stroke="#4c4c4c" stroke-width="0.65"/>
<path d="M19.53,162.37 C19.51,161.63 19.58,160.97 19.86,160.40 C20.15,159.83 20.67,159.31 21.25,158.93 C21.82,158.55 22.57,158.30 23.32,158.14 C24.07,157.98 24.93,157.96 25.77,157.96 C26.61,157.97 27.54,158.07 28.35,158.19 C29.15,158.30 29.93,158.44 30.62,158.66 C31.31,158.89 31.94,159.19 32.50,159.55 C33.06,159.91 33.55,160.38 33.97,160.81 C34.38,161.23 34.68,161.68 35.00,162.11 C35.31,162.55 35.58,162.95 35.86,163.41 C36.15,163.86 36.48,164.33 36.69,164.84 C36.91,165.34 37.11,165.87 37.14,166.42 C37.16,166.96 37.05,167.56 36.85,168.12 C36.66,168.69 36.29,169.27 35.96,169.79 C35.64,170.32 35.27,170.77 34.88,171.26 C34.48,171.75 34.09,172.23 33.60,172.73 C33.10,173.23 32.53,173.82 31.91,174.26 C31.28,174.69 30.58,175.10 29.86,175.32 C29.15,175.55 28.37,175.61 27.64,175.59 C26.91,175.56 26.14,175.39 25.48,175.19 C24.83,174.98 24.25,174.70 23.73,174.38 C23.20,174.05 22.74,173.69 22.34,173.24 C21.94,172.79 21.57,172.28 21.31,171.70 C21.05,171.13 20.93,170.50 20.80,169.79 C20.66,169.08 20.64,168.26 20.51,167.43 C20.37,166.60 20.16,165.67 20.00,164.83 C19.84,163.99 19.56,163.11 19.53,162.37 Z" fill="#b0b0b0" stroke="#464646" stroke-width="0.55"/>
<path d="M19.95,162.55 C20.19,161.97 20.68,161.60 21.21,161.33 C21.73,161.05 22.48,160.96 23.10,160.88 C23.72,160.79 24.35,160.84 24.92,160.83 C25.50,160.82 26.01,160.83 26.56,160.82 C27.11,160.81 27.69,160.77 28.23,160.78 C28.78,160.79 29.32,160.79 29.83,160.86 C30.35,160.93 30.83,161.06 31.34,161.21 C31.85,161.35 32.38,161.54 32.88,161.75 C33.39,161.96 33.93,162.16 34.38,162.45 C34.84,162.74 35.30,163.08 35.61,163.49 C35.91,163.90 36.15,164.42 36.23,164.90 C36.31,165.38 36.21,165.89 36.07,166.37 C35.92,166.84 35.62,167.31 35.37,167.77 C35.11,168.23 34.82,168.68 34.54,169.12 C34.26,169.55 34.04,169.97 33.70,170.36 C33.36,170.74 32.98,171.13 32.52,171.43 C32.06,171.73 31.46,172.00 30.92,172.17 C30.38,172.34 29.82,172.39 29.29,172.45 C28.76,172.50 28.27,172.48 27.76,172.50 C27.24,172.52 26.71,172.57 26.20,172.56 C25.70,172.55 25.18,172.54 24.72,172.43 C24.26,172.31 23.82,172.12 23.42,171.85 C23.03,171.58 22.67,171.22 22.34,170.82 C22.02,170.42 21.75,170.01 21.45,169.45 C21.15,168.88 20.81,168.20 20.54,167.43 C20.27,166.65 19.92,165.62 19.82,164.81 C19.72,163.99 19.72,163.13 19.95,162.55 Z" fill="#a2a2a2" stroke="#434343" stroke-width="0.55"/>
<path d="M21.98,163.42 C22.12,162.96 22.40,162.65 22.71,162.36 C23.03,162.07 23.44,161.84 23.86,161.66 C24.27,161.49 24.74,161.37 25.22,161.34 C25.70,161.30 26.25,161.37 26.74,161.47 C27.24,161.57 27.75,161.80 28.18,161.94 C28.61,162.09 28.94,162.24 29.31,162.34 C29.68,162.44 30.01,162.47 30.40,162.55 C30.79,162.63 31.26,162.69 31.64,162.83 C32.03,162.97 32.42,163.15 32.70,163.39 C32.98,163.62 33.17,163.93 33.33,164.24 C33.48,164.55 33.55,164.91 33.63,165.25 C33.71,165.58 33.76,165.91 33.78,166.26 C33.81,166.62 33.84,167.00 33.79,167.39 C33.74,167.78 33.65,168.24 33.48,168.61 C33.30,168.98 33.04,169.33 32.73,169.62 C32.42,169.91 32.01,170.12 31.60,170.33 C31.20,170.54 30.74,170.72 30.31,170.89 C29.89,171.05 29.48,171.21 29.06,171.30 C28.64,171.40 28.21,171.47 27.80,171.45 C27.38,171.43 26.93,171.34 26.58,171.19 C26.22,171.04 25.94,170.79 25.67,170.57 C25.40,170.35 25.21,170.10 24.96,169.88 C24.71,169.66 24.46,169.49 24.17,169.27 C23.88,169.04 23.54,168.87 23.23,168.51 C22.93,168.14 22.57,167.65 22.34,167.08 C22.10,166.51 21.90,165.71 21.84,165.10 C21.78,164.49 21.83,163.88 21.98,163.42 Z" fill="#a8a8a8" stroke="#484848" stroke-width="0.5"/>
<path d="M24.58,164.53 C24.63,164.26 24.75,164.07 24.87,163.85 C25.00,163.63 25.15,163.42 25.33,163.20 C25.51,162.99 25.68,162.73 25.95,162.56 C26.22,162.38 26.56,162.20 26.93,162.15 C27.30,162.09 27.79,162.14 28.17,162.24 C28.54,162.34 28.88,162.56 29.17,162.74 C29.45,162.92 29.65,163.14 29.87,163.32 C30.09,163.51 30.30,163.67 30.49,163.83 C30.69,163.99 30.89,164.14 31.04,164.31 C31.19,164.48 31.32,164.67 31.40,164.88 C31.49,165.08 31.53,165.31 31.57,165.52 C31.60,165.74 31.61,165.94 31.62,166.16 C31.63,166.39 31.65,166.62 31.64,166.87 C31.63,167.13 31.63,167.43 31.55,167.69 C31.47,167.95 31.36,168.22 31.18,168.43 C31.00,168.65 30.73,168.81 30.47,168.97 C30.20,169.12 29.87,169.23 29.58,169.35 C29.30,169.47 29.03,169.59 28.74,169.70 C28.45,169.82 28.16,169.97 27.85,170.05 C27.53,170.13 27.16,170.21 26.86,170.18 C26.55,170.15 26.25,170.04 26.02,169.87 C25.80,169.71 25.64,169.44 25.50,169.20 C25.36,168.95 25.28,168.66 25.19,168.40 C25.10,168.13 25.04,167.89 24.96,167.60 C24.88,167.30 24.79,166.98 24.72,166.63 C24.66,166.28 24.57,165.84 24.54,165.50 C24.52,165.15 24.52,164.81 24.58,164.53 Z" fill="#b6b6b6" stroke="#525252" stroke-width="0.5"/>
<path d="M26.20,165.23 C26.23,165.09 26.29,164.98 26.37,164.88 C26.46,164.78 26.59,164.71 26.71,164.65 C26.83,164.58 26.95,164.53 27.09,164.47 C27.22,164.41 27.35,164.33 27.52,164.27 C27.69,164.20 27.89,164.11 28.08,164.08 C28.28,164.04 28.51,164.02 28.70,164.05 C28.88,164.08 29.06,164.17 29.20,164.27 C29.35,164.37 29.46,164.52 29.56,164.64 C29.67,164.76 29.74,164.87 29.82,164.99 C29.91,165.10 30.01,165.19 30.09,165.31 C30.17,165.43 30.27,165.56 30.31,165.69 C30.35,165.82 30.36,165.97 30.32,166.11 C30.29,166.24 30.18,166.38 30.09,166.50 C29.99,166.62 29.85,166.73 29.74,166.83 C29.63,166.93 29.54,167.01 29.44,167.10 C29.34,167.19 29.25,167.28 29.15,167.38 C29.04,167.47 28.92,167.58 28.79,167.67 C28.66,167.75 28.52,167.82 28.38,167.89 C28.23,167.95 28.09,167.99 27.92,168.05 C27.76,168.10 27.58,168.17 27.40,168.21 C27.21,168.25 27.01,168.30 26.83,168.29 C26.65,168.28 26.46,168.24 26.32,168.14 C26.19,168.05 26.07,167.88 26.01,167.70 C25.95,167.52 25.96,167.29 25.98,167.06 C26.00,166.84 26.07,166.58 26.10,166.36 C26.13,166.14 26.15,165.92 26.17,165.73 C26.19,165.54 26.17,165.37 26.20,165.23 Z" fill="#c4c4c4" stroke="#595959" stroke-width="0.5"/>
<path d="M24.00,159.30 C24.83,159.35 27.33,159.15 29.00,159.60 C30.67,160.05 32.67,161.10 34.00,162.00 C35.33,162.90 36.50,164.50 37.00,165.00" fill="none" stroke="#161616" stroke-width="1.5"/>
<path d="M19.20,166.00 C19.58,166.92 20.28,170.03 21.50,171.50 C22.72,172.97 25.67,174.25 26.50,174.80" fill="none" stroke="#2b2b2b" stroke-width="1.2"/>
<path d="M40.50,182.00 C41.50,181.08 44.17,180.92 46.00,181.00 C47.83,181.08 50.50,181.33 51.50,182.50 C52.50,183.67 52.58,186.58 52.00,188.00 C51.42,189.42 49.67,190.58 48.00,191.00 C46.33,191.42 43.33,191.25 42.00,190.50 C40.67,189.75 40.25,187.92 40.00,186.50 C39.75,185.08 39.50,182.92 40.50,182.00 Z" fill="none" stroke="#606060" stroke-width="0.6"/>
<path d="M42.59,183.52 C43.21,182.95 44.86,182.85 46.00,182.90 C47.14,182.95 48.79,183.11 49.41,183.83 C50.03,184.55 50.08,186.36 49.72,187.24 C49.36,188.12 48.27,188.84 47.24,189.10 C46.21,189.36 44.35,189.25 43.52,188.79 C42.69,188.32 42.44,187.19 42.28,186.31 C42.12,185.43 41.97,184.09 42.59,183.52 Z" fill="none" stroke="#6c6c6c" stroke-width="0.5"/>
<path d="M44.30,192.30 C44.58,191.93 45.72,191.93 46.00,192.30 C46.28,192.67 46.28,194.13 46.00,194.50 C45.72,194.87 44.58,194.87 44.30,194.50 C44.02,194.13 44.02,192.67 44.30,192.30 Z" fill="none" stroke="#666666" stroke-width="0.6"/>
<path d="M22.80,182.50 C24.00,182.67 27.80,182.95 30.00,183.50 C32.20,184.05 34.33,185.05 36.00,185.80 C37.67,186.55 39.33,187.63 40.00,188.00" fill="none" stroke="#7e7e7e" stroke-width="0.55"/></g>
<rect x="14.5" y="155.5" width="53.0" height="53.0" fill="none" stroke="#c4c4c4" stroke-width="1"/>
<line x1="38.5" y1="155.5" x2="38.5" y2="208.5" stroke="#6a6a6a" stroke-width="1"/>
<line x1="14.5" y1="181.5" x2="67.5" y2="181.5" stroke="#6a6a6a" stroke-width="1"/>
<clipPath id="cpc20"><rect x="89.5" y="17.5" width="53.0" height="53.0"/></clipPath><g clip-path="url(#cpc20)"><path d="M97.25,30.27 C97.99,29.88 99.00,29.49 100.03,29.14 C101.07,28.79 102.39,28.41 103.47,28.19 C104.54,27.97 105.63,27.80 106.50,27.82 C107.38,27.85 108.05,28.06 108.73,28.35 C109.41,28.64 109.99,29.10 110.56,29.57 C111.12,30.04 111.67,30.54 112.12,31.18 C112.57,31.82 112.93,32.61 113.26,33.42 C113.59,34.23 113.76,35.29 114.09,36.03 C114.42,36.77 114.77,37.50 115.24,37.87 C115.71,38.23 116.29,38.23 116.91,38.21 C117.53,38.19 118.21,37.88 118.96,37.74 C119.71,37.60 120.48,37.43 121.40,37.36 C122.32,37.30 123.40,37.32 124.48,37.33 C125.57,37.35 126.85,37.34 127.88,37.43 C128.90,37.52 129.87,37.65 130.63,37.89 C131.40,38.12 131.97,38.48 132.47,38.86 C132.97,39.24 133.38,39.72 133.63,40.16 C133.88,40.60 134.03,41.05 133.97,41.50 C133.91,41.95 133.61,42.39 133.26,42.84 C132.91,43.29 132.32,43.77 131.87,44.19 C131.42,44.62 130.97,45.03 130.58,45.36 C130.19,45.70 129.86,45.95 129.53,46.21 C129.20,46.47 128.84,46.66 128.61,46.92 C128.39,47.18 128.15,47.43 128.18,47.77 C128.21,48.11 128.52,48.54 128.78,48.96 C129.05,49.39 129.62,49.89 129.78,50.30 C129.94,50.70 130.07,51.10 129.75,51.39 C129.44,51.69 128.69,51.89 127.90,52.09 C127.12,52.28 125.99,52.41 125.03,52.55 C124.07,52.69 123.08,52.82 122.16,52.92 C121.23,53.02 120.36,53.08 119.46,53.15 C118.55,53.21 117.58,53.22 116.73,53.31 C115.89,53.40 115.02,53.50 114.38,53.70 C113.75,53.91 113.33,54.23 112.91,54.52 C112.48,54.82 112.30,55.21 111.84,55.45 C111.38,55.69 110.92,55.88 110.15,55.97 C109.38,56.06 108.27,56.06 107.21,55.99 C106.16,55.93 104.87,55.83 103.82,55.60 C102.77,55.37 101.77,55.06 100.93,54.62 C100.09,54.18 99.43,53.57 98.78,52.94 C98.12,52.31 97.53,51.54 96.99,50.84 C96.45,50.14 95.97,49.42 95.53,48.71 C95.10,48.00 94.72,47.32 94.38,46.59 C94.04,45.87 93.74,45.10 93.50,44.34 C93.26,43.57 93.06,42.81 92.95,42.00 C92.83,41.19 92.79,40.33 92.82,39.48 C92.84,38.63 92.96,37.70 93.12,36.89 C93.27,36.08 93.51,35.30 93.75,34.63 C93.98,33.96 94.22,33.40 94.52,32.87 C94.82,32.34 95.11,31.88 95.57,31.45 C96.02,31.02 96.50,30.65 97.25,30.27 Z" fill="#f0f0f0" stroke="#727272" stroke-width="0.55"/>
<path d="M98.17,31.28 C98.93,31.02 99.93,30.77 100.92,30.57 C101.90,30.37 103.12,30.16 104.08,30.07 C105.05,29.98 105.98,29.94 106.74,30.03 C107.49,30.12 108.04,30.35 108.61,30.63 C109.17,30.90 109.65,31.29 110.12,31.67 C110.60,32.05 111.07,32.41 111.46,32.91 C111.86,33.40 112.19,34.00 112.51,34.64 C112.83,35.28 113.03,36.13 113.37,36.73 C113.72,37.33 114.11,37.94 114.58,38.24 C115.06,38.53 115.65,38.53 116.24,38.50 C116.84,38.47 117.46,38.18 118.14,38.05 C118.83,37.93 119.50,37.79 120.33,37.73 C121.15,37.68 122.12,37.71 123.09,37.73 C124.07,37.74 125.23,37.74 126.18,37.82 C127.13,37.90 128.03,38.01 128.77,38.22 C129.51,38.44 130.09,38.75 130.62,39.10 C131.14,39.44 131.60,39.88 131.91,40.29 C132.22,40.69 132.45,41.11 132.47,41.53 C132.48,41.95 132.28,42.37 132.01,42.80 C131.74,43.23 131.22,43.69 130.83,44.10 C130.43,44.50 130.00,44.90 129.62,45.22 C129.24,45.54 128.90,45.78 128.55,46.02 C128.21,46.26 127.81,46.43 127.55,46.66 C127.29,46.90 127.01,47.12 126.99,47.43 C126.97,47.73 127.21,48.13 127.42,48.51 C127.63,48.89 128.12,49.35 128.24,49.71 C128.36,50.08 128.45,50.43 128.14,50.70 C127.82,50.96 127.10,51.14 126.33,51.29 C125.57,51.45 124.48,51.54 123.54,51.63 C122.60,51.71 121.62,51.78 120.70,51.80 C119.78,51.81 118.90,51.78 118.01,51.74 C117.13,51.70 116.17,51.58 115.37,51.55 C114.57,51.52 113.79,51.48 113.22,51.57 C112.65,51.67 112.32,51.89 111.97,52.13 C111.62,52.36 111.50,52.72 111.14,52.98 C110.77,53.24 110.43,53.49 109.80,53.68 C109.16,53.87 108.25,54.01 107.32,54.11 C106.39,54.22 105.22,54.33 104.22,54.28 C103.23,54.24 102.22,54.14 101.36,53.86 C100.50,53.58 99.76,53.13 99.05,52.62 C98.34,52.10 97.67,51.42 97.07,50.77 C96.48,50.13 95.96,49.42 95.50,48.73 C95.04,48.04 94.66,47.34 94.33,46.61 C94.01,45.87 93.74,45.10 93.54,44.33 C93.34,43.56 93.19,42.80 93.12,42.00 C93.04,41.20 93.04,40.36 93.11,39.53 C93.18,38.70 93.33,37.80 93.53,37.03 C93.72,36.26 94.00,35.52 94.27,34.90 C94.55,34.28 94.83,33.78 95.18,33.32 C95.53,32.86 95.88,32.48 96.38,32.14 C96.88,31.80 97.41,31.54 98.17,31.28 Z" fill="none" stroke="#757575" stroke-width="0.5"/>
<path d="M96.65,32.27 C97.01,31.89 97.48,31.48 97.97,31.02 C98.47,30.57 99.05,30.03 99.62,29.55 C100.19,29.06 100.78,28.53 101.39,28.11 C101.99,27.70 102.61,27.29 103.27,27.05 C103.93,26.82 104.66,26.65 105.32,26.69 C105.98,26.72 106.64,26.93 107.24,27.25 C107.84,27.57 108.39,28.08 108.90,28.59 C109.41,29.10 109.87,29.72 110.29,30.30 C110.71,30.89 111.08,31.47 111.42,32.10 C111.77,32.73 112.09,33.38 112.38,34.10 C112.67,34.82 112.96,35.62 113.15,36.44 C113.34,37.25 113.49,38.12 113.52,38.99 C113.56,39.86 113.48,40.79 113.37,41.66 C113.26,42.54 113.05,43.43 112.86,44.24 C112.67,45.05 112.45,45.76 112.24,46.51 C112.03,47.26 111.85,48.00 111.61,48.75 C111.36,49.49 111.14,50.34 110.77,51.00 C110.39,51.65 109.98,52.27 109.35,52.66 C108.73,53.06 107.88,53.27 107.01,53.39 C106.13,53.51 105.03,53.47 104.12,53.40 C103.20,53.33 102.30,53.18 101.51,52.97 C100.71,52.77 100.06,52.51 99.35,52.16 C98.64,51.80 97.94,51.37 97.25,50.85 C96.57,50.32 95.85,49.74 95.25,49.01 C94.66,48.29 94.06,47.40 93.68,46.49 C93.31,45.58 93.07,44.46 92.98,43.54 C92.89,42.63 93.02,41.75 93.17,40.98 C93.32,40.22 93.64,39.59 93.88,38.96 C94.12,38.33 94.41,37.77 94.62,37.22 C94.82,36.67 94.97,36.15 95.10,35.68 C95.24,35.21 95.28,34.79 95.41,34.39 C95.53,34.00 95.64,33.66 95.84,33.31 C96.05,32.96 96.30,32.65 96.65,32.27 Z" fill="#d2d2d2" stroke="#4b4b4b" stroke-width="0.55"/>
<path d="M97.85,33.74 C98.20,33.45 98.59,33.10 99.03,32.74 C99.46,32.39 99.97,31.93 100.47,31.58 C100.96,31.23 101.49,30.87 102.01,30.65 C102.54,30.43 103.07,30.29 103.60,30.24 C104.13,30.18 104.69,30.24 105.20,30.33 C105.71,30.42 106.18,30.60 106.66,30.78 C107.14,30.95 107.59,31.16 108.07,31.37 C108.55,31.57 109.06,31.75 109.55,32.01 C110.04,32.27 110.56,32.50 111.00,32.91 C111.45,33.32 111.89,33.82 112.23,34.45 C112.56,35.08 112.86,35.90 113.02,36.70 C113.18,37.50 113.22,38.39 113.20,39.24 C113.18,40.09 113.03,40.97 112.89,41.79 C112.75,42.62 112.55,43.45 112.34,44.19 C112.14,44.93 111.92,45.59 111.67,46.24 C111.42,46.88 111.17,47.49 110.85,48.04 C110.54,48.59 110.20,49.15 109.79,49.55 C109.38,49.94 108.93,50.22 108.38,50.41 C107.83,50.59 107.15,50.60 106.47,50.66 C105.79,50.72 105.00,50.73 104.28,50.77 C103.56,50.81 102.83,50.91 102.15,50.90 C101.48,50.88 100.85,50.87 100.21,50.68 C99.56,50.48 98.89,50.16 98.29,49.73 C97.70,49.30 97.12,48.73 96.64,48.08 C96.17,47.43 95.76,46.63 95.45,45.84 C95.14,45.06 94.95,44.15 94.80,43.37 C94.66,42.60 94.59,41.87 94.57,41.19 C94.55,40.50 94.60,39.89 94.67,39.27 C94.75,38.66 94.88,38.04 95.03,37.51 C95.18,36.98 95.38,36.47 95.57,36.07 C95.77,35.67 95.97,35.37 96.21,35.10 C96.44,34.83 96.68,34.66 96.95,34.43 C97.23,34.21 97.51,34.02 97.85,33.74 Z" fill="#c4c4c4" stroke="#444444" stroke-width="0.55"/>
<path d="M99.10,35.26 C99.35,34.99 99.63,34.63 99.98,34.30 C100.32,33.96 100.74,33.55 101.16,33.25 C101.58,32.96 102.04,32.69 102.49,32.53 C102.94,32.38 103.39,32.32 103.83,32.30 C104.28,32.28 104.74,32.35 105.16,32.42 C105.58,32.49 105.98,32.61 106.38,32.72 C106.79,32.83 107.18,32.95 107.60,33.09 C108.02,33.24 108.47,33.37 108.88,33.59 C109.28,33.82 109.70,34.06 110.05,34.44 C110.39,34.82 110.70,35.31 110.94,35.86 C111.18,36.42 111.36,37.12 111.48,37.78 C111.60,38.44 111.64,39.14 111.66,39.83 C111.69,40.52 111.67,41.21 111.63,41.91 C111.59,42.60 111.54,43.35 111.42,44.00 C111.30,44.66 111.14,45.28 110.92,45.84 C110.70,46.40 110.42,46.91 110.10,47.35 C109.79,47.78 109.43,48.18 109.04,48.45 C108.65,48.72 108.25,48.88 107.78,48.99 C107.30,49.11 106.75,49.09 106.19,49.14 C105.63,49.19 104.99,49.23 104.40,49.29 C103.81,49.34 103.20,49.47 102.63,49.47 C102.07,49.47 101.55,49.45 101.02,49.27 C100.50,49.10 99.97,48.79 99.49,48.41 C99.02,48.04 98.58,47.56 98.18,47.03 C97.79,46.50 97.44,45.87 97.14,45.24 C96.84,44.61 96.58,43.89 96.38,43.25 C96.18,42.60 96.02,41.98 95.95,41.38 C95.88,40.79 95.88,40.23 95.96,39.70 C96.03,39.17 96.21,38.64 96.40,38.21 C96.59,37.78 96.86,37.41 97.10,37.11 C97.33,36.81 97.58,36.63 97.80,36.44 C98.03,36.24 98.23,36.12 98.45,35.92 C98.67,35.73 98.84,35.53 99.10,35.26 Z" fill="#b8b8b8" stroke="#404040" stroke-width="0.55"/>
<path d="M99.34,35.60 C99.67,35.45 100.08,35.28 100.48,35.13 C100.88,34.98 101.34,34.80 101.76,34.68 C102.17,34.56 102.58,34.46 102.97,34.42 C103.35,34.38 103.72,34.40 104.07,34.45 C104.43,34.50 104.79,34.60 105.11,34.72 C105.43,34.83 105.72,35.00 106.01,35.15 C106.30,35.30 106.57,35.46 106.86,35.61 C107.15,35.76 107.46,35.88 107.75,36.04 C108.05,36.20 108.36,36.34 108.64,36.59 C108.91,36.84 109.18,37.14 109.39,37.52 C109.60,37.91 109.78,38.41 109.89,38.89 C110.00,39.38 110.03,39.92 110.04,40.44 C110.06,40.96 110.01,41.48 109.99,42.02 C109.97,42.55 109.95,43.09 109.92,43.63 C109.89,44.16 109.88,44.69 109.82,45.23 C109.76,45.76 109.70,46.33 109.55,46.85 C109.40,47.36 109.21,47.92 108.93,48.31 C108.65,48.71 108.31,49.02 107.87,49.19 C107.43,49.37 106.84,49.39 106.28,49.36 C105.71,49.34 105.03,49.20 104.48,49.06 C103.93,48.91 103.42,48.73 102.99,48.50 C102.57,48.27 102.24,48.00 101.93,47.67 C101.62,47.35 101.35,46.95 101.11,46.56 C100.88,46.16 100.70,45.73 100.53,45.31 C100.37,44.89 100.25,44.46 100.11,44.04 C99.97,43.62 99.85,43.21 99.69,42.81 C99.54,42.41 99.34,42.06 99.16,41.67 C98.97,41.27 98.75,40.89 98.57,40.45 C98.40,40.02 98.21,39.52 98.10,39.06 C97.99,38.60 97.92,38.10 97.90,37.71 C97.89,37.31 97.93,36.97 98.03,36.70 C98.13,36.42 98.29,36.24 98.51,36.06 C98.73,35.87 99.01,35.75 99.34,35.60 Z" fill="#bababa" stroke="#444444" stroke-width="0.55"/>
<path d="M100.85,37.43 C101.01,37.23 101.27,37.03 101.55,36.87 C101.82,36.71 102.19,36.58 102.50,36.48 C102.82,36.38 103.14,36.33 103.43,36.26 C103.73,36.20 103.99,36.16 104.27,36.10 C104.55,36.04 104.84,35.96 105.12,35.93 C105.40,35.89 105.69,35.85 105.97,35.89 C106.24,35.94 106.53,36.03 106.78,36.19 C107.03,36.35 107.28,36.60 107.46,36.88 C107.64,37.16 107.77,37.52 107.86,37.88 C107.96,38.23 107.98,38.65 108.01,39.02 C108.04,39.40 108.04,39.79 108.05,40.15 C108.07,40.50 108.09,40.80 108.11,41.13 C108.14,41.46 108.19,41.78 108.21,42.12 C108.24,42.47 108.27,42.85 108.27,43.20 C108.26,43.56 108.23,43.91 108.18,44.26 C108.14,44.62 108.07,44.97 107.99,45.33 C107.91,45.70 107.84,46.12 107.69,46.47 C107.55,46.83 107.41,47.21 107.14,47.49 C106.87,47.77 106.49,48.03 106.07,48.17 C105.64,48.32 105.05,48.40 104.58,48.36 C104.11,48.33 103.61,48.18 103.24,47.96 C102.87,47.74 102.61,47.38 102.38,47.03 C102.15,46.67 102.00,46.21 101.86,45.83 C101.71,45.45 101.62,45.07 101.50,44.73 C101.37,44.38 101.24,44.08 101.11,43.75 C100.97,43.43 100.80,43.10 100.67,42.79 C100.55,42.47 100.42,42.16 100.35,41.86 C100.29,41.56 100.28,41.27 100.29,40.99 C100.30,40.70 100.36,40.42 100.39,40.16 C100.42,39.90 100.47,39.64 100.49,39.40 C100.50,39.16 100.48,38.93 100.49,38.71 C100.50,38.48 100.49,38.27 100.54,38.05 C100.60,37.84 100.68,37.63 100.85,37.43 Z" fill="#c8c8c8" stroke="#4b4b4b" stroke-width="0.5"/>
<path d="M102.16,39.03 C102.25,38.86 102.36,38.65 102.52,38.46 C102.68,38.27 102.89,38.05 103.10,37.91 C103.31,37.77 103.56,37.66 103.79,37.63 C104.01,37.59 104.25,37.63 104.47,37.70 C104.68,37.77 104.90,37.90 105.08,38.04 C105.26,38.17 105.41,38.35 105.56,38.50 C105.71,38.65 105.83,38.80 105.96,38.94 C106.09,39.07 106.22,39.18 106.35,39.30 C106.47,39.43 106.60,39.53 106.71,39.67 C106.82,39.82 106.92,39.99 107.00,40.18 C107.08,40.37 107.14,40.61 107.19,40.83 C107.24,41.05 107.27,41.28 107.31,41.52 C107.35,41.75 107.38,41.99 107.42,42.25 C107.46,42.51 107.52,42.80 107.55,43.08 C107.57,43.37 107.59,43.67 107.57,43.96 C107.54,44.25 107.49,44.54 107.40,44.80 C107.31,45.05 107.17,45.30 107.01,45.48 C106.85,45.65 106.66,45.77 106.43,45.84 C106.21,45.92 105.92,45.93 105.64,45.94 C105.35,45.95 105.02,45.94 104.73,45.92 C104.44,45.90 104.15,45.89 103.90,45.83 C103.65,45.76 103.44,45.69 103.24,45.54 C103.04,45.40 102.84,45.19 102.70,44.97 C102.56,44.75 102.45,44.48 102.37,44.22 C102.29,43.96 102.26,43.67 102.23,43.41 C102.19,43.15 102.20,42.90 102.17,42.67 C102.15,42.45 102.13,42.27 102.10,42.07 C102.07,41.88 102.03,41.71 102.00,41.52 C101.97,41.33 101.94,41.12 101.92,40.93 C101.91,40.74 101.90,40.55 101.91,40.38 C101.91,40.21 101.91,40.06 101.93,39.92 C101.94,39.77 101.96,39.65 102.00,39.50 C102.04,39.35 102.07,39.21 102.16,39.03 Z" fill="#dadada" stroke="#555555" stroke-width="0.5"/>
<path d="M100.00,31.80 C100.25,31.18 101.50,30.18 102.50,29.80 C103.50,29.42 105.00,29.30 106.00,29.50 C107.00,29.70 108.17,30.37 108.50,31.00 C108.83,31.63 108.67,32.83 108.00,33.30 C107.33,33.77 105.67,33.77 104.50,33.80 C103.33,33.83 101.75,33.83 101.00,33.50 C100.25,33.17 99.75,32.42 100.00,31.80 Z" fill="#4e4e4e" stroke="#151515" stroke-width="0.7"/>
<path d="M105.00,33.20 C105.50,33.75 107.00,35.45 108.00,36.50 C109.00,37.55 109.92,38.88 111.00,39.50 C112.08,40.12 113.92,40.08 114.50,40.20" fill="none" stroke="#1a1a1a" stroke-width="1.3"/>
<path d="M98.60,39.50 C98.47,40.25 97.73,42.50 97.80,44.00 C97.87,45.50 98.55,47.42 99.00,48.50 C99.45,49.58 100.25,50.17 100.50,50.50" fill="none" stroke="#232323" stroke-width="1.2"/>
<path d="M106.00,51.50 C106.42,51.42 107.83,50.83 108.50,51.00 C109.17,51.17 109.75,52.25 110.00,52.50" fill="none" stroke="#343434" stroke-width="1.0"/>
<path d="M113.94,39.36 C114.11,38.97 114.55,38.78 115.03,38.60 C115.52,38.42 116.22,38.37 116.86,38.29 C117.50,38.21 118.16,38.16 118.88,38.11 C119.60,38.07 120.39,38.01 121.19,38.03 C121.99,38.05 122.93,38.16 123.70,38.24 C124.47,38.33 125.12,38.46 125.81,38.55 C126.49,38.64 127.14,38.68 127.82,38.77 C128.51,38.87 129.30,38.97 129.92,39.13 C130.53,39.28 131.10,39.48 131.50,39.70 C131.90,39.92 132.12,40.19 132.31,40.47 C132.50,40.74 132.57,41.04 132.64,41.33 C132.70,41.62 132.74,41.89 132.71,42.20 C132.67,42.51 132.63,42.85 132.44,43.19 C132.24,43.52 131.96,43.93 131.53,44.23 C131.10,44.53 130.54,44.81 129.85,44.99 C129.16,45.17 128.26,45.26 127.37,45.32 C126.49,45.39 125.43,45.38 124.54,45.37 C123.66,45.35 122.84,45.29 122.09,45.24 C121.34,45.19 120.70,45.14 120.05,45.06 C119.39,44.99 118.76,44.93 118.17,44.79 C117.59,44.65 117.04,44.54 116.52,44.23 C116.01,43.92 115.48,43.45 115.06,42.91 C114.64,42.37 114.20,41.57 114.02,40.98 C113.83,40.39 113.77,39.76 113.94,39.36 Z" fill="#d4d4d4" stroke="#4b4b4b" stroke-width="0.55"/>
<path d="M117.47,40.22 C117.56,39.95 117.79,39.82 118.05,39.68 C118.31,39.53 118.68,39.46 119.04,39.36 C119.41,39.27 119.78,39.17 120.24,39.09 C120.71,39.02 121.25,38.92 121.84,38.90 C122.43,38.89 123.17,38.94 123.77,39.00 C124.36,39.07 124.88,39.20 125.40,39.29 C125.91,39.38 126.38,39.44 126.86,39.53 C127.35,39.63 127.89,39.73 128.30,39.86 C128.70,39.99 129.05,40.15 129.28,40.32 C129.51,40.49 129.60,40.70 129.68,40.89 C129.76,41.08 129.76,41.29 129.77,41.49 C129.78,41.68 129.78,41.86 129.74,42.06 C129.70,42.27 129.66,42.49 129.53,42.71 C129.39,42.93 129.21,43.19 128.95,43.40 C128.69,43.61 128.38,43.80 127.96,43.96 C127.55,44.13 127.07,44.26 126.48,44.39 C125.90,44.53 125.14,44.72 124.45,44.78 C123.77,44.83 122.97,44.80 122.37,44.74 C121.77,44.68 121.29,44.52 120.85,44.40 C120.41,44.27 120.06,44.15 119.73,43.99 C119.40,43.84 119.13,43.72 118.85,43.47 C118.58,43.23 118.31,42.90 118.09,42.53 C117.87,42.17 117.63,41.65 117.52,41.27 C117.42,40.88 117.38,40.48 117.47,40.22 Z" fill="#aeaeae" stroke="#343434" stroke-width="0.6"/>
<path d="M120.24,40.89 C120.32,40.74 120.42,40.66 120.57,40.58 C120.73,40.50 120.93,40.44 121.16,40.40 C121.39,40.36 121.68,40.35 121.97,40.34 C122.26,40.33 122.60,40.35 122.92,40.35 C123.24,40.35 123.56,40.36 123.88,40.35 C124.20,40.33 124.52,40.27 124.85,40.27 C125.18,40.27 125.53,40.29 125.84,40.35 C126.14,40.40 126.45,40.50 126.69,40.58 C126.94,40.67 127.14,40.77 127.31,40.87 C127.49,40.98 127.63,41.08 127.73,41.20 C127.84,41.32 127.92,41.46 127.93,41.59 C127.93,41.72 127.86,41.85 127.74,41.97 C127.62,42.10 127.40,42.22 127.20,42.33 C127.01,42.43 126.76,42.53 126.55,42.62 C126.35,42.72 126.18,42.79 125.96,42.87 C125.74,42.95 125.53,43.02 125.24,43.10 C124.95,43.17 124.59,43.27 124.23,43.33 C123.88,43.38 123.46,43.41 123.09,43.43 C122.73,43.45 122.37,43.45 122.02,43.43 C121.68,43.41 121.31,43.40 121.03,43.33 C120.74,43.25 120.50,43.16 120.34,42.99 C120.18,42.82 120.11,42.54 120.07,42.29 C120.03,42.04 120.06,41.71 120.09,41.48 C120.12,41.25 120.16,41.04 120.24,40.89 Z" fill="#d8d8d8" stroke="#3f3f3f" stroke-width="0.5"/>
<path d="M119.80,40.80 C120.17,40.67 121.30,39.97 122.00,40.00 C122.70,40.03 123.67,40.83 124.00,41.00" fill="none" stroke="#1f1f1f" stroke-width="1.0"/>
<path d="M115.00,47.80 C115.75,48.25 117.83,50.00 119.50,50.50 C121.17,51.00 123.42,51.13 125.00,50.80 C126.58,50.47 128.33,48.88 129.00,48.50" fill="none" stroke="#636363" stroke-width="0.55"/>
<path d="M113.00,51.50 C114.00,51.80 116.83,53.15 119.00,53.30 C121.17,53.45 124.83,52.55 126.00,52.40" fill="none" stroke="#707070" stroke-width="0.55"/></g>
<rect x="89.5" y="17.5" width="53.0" height="53.0" fill="none" stroke="#c4c4c4" stroke-width="1"/>
<line x1="114.5" y1="17.5" x2="114.5" y2="70.5" stroke="#6a6a6a" stroke-width="1"/>
<line x1="89.5" y1="37.5" x2="142.5" y2="37.5" stroke="#6a6a6a" stroke-width="1"/>
<clipPath id="cpc21"><rect x="89.5" y="86.5" width="53.0" height="54.0"/></clipPath><g clip-path="url(#cpc21)"><path d="M89.52,102.45 C89.88,101.98 90.48,101.62 91.14,101.30 C91.80,100.98 92.66,100.75 93.47,100.53 C94.28,100.32 95.14,100.17 96.01,100.01 C96.87,99.84 97.75,99.69 98.65,99.53 C99.55,99.38 100.49,99.22 101.39,99.10 C102.29,98.99 103.15,98.89 104.03,98.86 C104.91,98.82 105.79,98.84 106.66,98.91 C107.53,98.97 108.45,99.09 109.25,99.26 C110.05,99.43 110.78,99.66 111.45,99.94 C112.12,100.22 112.68,100.56 113.25,100.93 C113.81,101.30 114.36,101.72 114.84,102.17 C115.31,102.63 115.78,103.10 116.11,103.65 C116.45,104.19 116.70,104.78 116.85,105.44 C116.99,106.11 117.02,106.86 117.00,107.63 C116.98,108.40 116.89,109.22 116.73,110.07 C116.57,110.92 116.32,111.83 116.04,112.73 C115.76,113.63 115.38,114.57 115.05,115.46 C114.72,116.35 114.37,117.21 114.07,118.07 C113.76,118.93 113.49,119.75 113.20,120.61 C112.91,121.46 112.64,122.35 112.32,123.21 C112.00,124.07 111.68,124.91 111.30,125.78 C110.91,126.65 110.47,127.61 110.02,128.43 C109.56,129.25 109.04,130.16 108.55,130.69 C108.06,131.23 107.55,131.62 107.07,131.66 C106.59,131.70 106.13,131.35 105.67,130.95 C105.22,130.55 104.77,129.86 104.34,129.23 C103.90,128.61 103.48,127.92 103.06,127.22 C102.64,126.52 102.23,125.81 101.82,125.04 C101.41,124.26 101.00,123.40 100.60,122.57 C100.19,121.75 99.79,120.93 99.39,120.07 C98.99,119.22 98.60,118.34 98.20,117.46 C97.80,116.59 97.42,115.64 97.01,114.83 C96.60,114.02 96.20,113.26 95.72,112.62 C95.24,111.98 94.69,111.50 94.12,110.99 C93.54,110.48 92.86,110.07 92.29,109.57 C91.71,109.08 91.14,108.58 90.67,108.00 C90.21,107.42 89.79,106.73 89.51,106.08 C89.23,105.43 89.01,104.71 89.01,104.11 C89.01,103.50 89.17,102.92 89.52,102.45 Z" fill="#ededed" stroke="#787878" stroke-width="0.55"/>
<path d="M92.40,102.80 C92.46,102.33 92.64,101.90 92.95,101.49 C93.26,101.07 93.71,100.68 94.24,100.33 C94.77,99.98 95.40,99.67 96.11,99.39 C96.83,99.11 97.67,98.85 98.55,98.66 C99.42,98.48 100.44,98.33 101.35,98.27 C102.27,98.20 103.17,98.22 104.04,98.27 C104.90,98.32 105.75,98.43 106.57,98.57 C107.39,98.70 108.24,98.86 108.96,99.08 C109.68,99.29 110.34,99.54 110.90,99.86 C111.45,100.18 111.90,100.57 112.30,100.98 C112.69,101.39 113.01,101.87 113.27,102.34 C113.52,102.81 113.69,103.29 113.81,103.79 C113.94,104.28 113.95,104.78 113.99,105.31 C114.03,105.85 114.01,106.39 114.04,107.00 C114.08,107.60 114.17,108.21 114.22,108.93 C114.27,109.65 114.37,110.46 114.35,111.32 C114.34,112.17 114.26,113.18 114.12,114.08 C113.98,114.99 113.75,115.93 113.51,116.76 C113.26,117.59 112.95,118.35 112.63,119.06 C112.31,119.78 111.95,120.42 111.58,121.05 C111.22,121.68 110.84,122.22 110.45,122.84 C110.06,123.47 109.65,124.17 109.24,124.82 C108.83,125.48 108.40,126.28 107.98,126.79 C107.56,127.31 107.15,127.77 106.74,127.92 C106.34,128.07 105.94,127.93 105.54,127.68 C105.14,127.44 104.74,126.94 104.35,126.45 C103.96,125.96 103.57,125.36 103.19,124.73 C102.81,124.10 102.44,123.41 102.08,122.68 C101.71,121.96 101.36,121.13 100.99,120.37 C100.63,119.62 100.28,118.89 99.90,118.16 C99.52,117.42 99.13,116.70 98.73,115.95 C98.33,115.21 97.90,114.40 97.50,113.67 C97.10,112.94 96.71,112.20 96.34,111.58 C95.97,110.95 95.61,110.43 95.28,109.93 C94.95,109.43 94.63,109.03 94.37,108.59 C94.10,108.14 93.90,107.74 93.69,107.28 C93.48,106.82 93.30,106.32 93.11,105.82 C92.92,105.32 92.69,104.79 92.57,104.28 C92.45,103.78 92.34,103.26 92.40,102.80 Z" fill="#e4e4e4" stroke="#737373" stroke-width="0.5"/>
<path d="M93.93,102.65 C94.20,102.32 94.62,102.06 95.09,101.84 C95.56,101.62 96.18,101.46 96.77,101.33 C97.37,101.20 98.02,101.13 98.65,101.06 C99.28,100.98 99.94,100.94 100.57,100.87 C101.20,100.80 101.83,100.74 102.43,100.63 C103.03,100.53 103.56,100.40 104.18,100.26 C104.79,100.13 105.41,99.95 106.10,99.83 C106.78,99.72 107.59,99.58 108.30,99.57 C109.01,99.56 109.75,99.60 110.37,99.75 C110.99,99.90 111.55,100.16 112.03,100.48 C112.51,100.79 112.93,101.20 113.26,101.62 C113.59,102.04 113.83,102.51 114.00,103.00 C114.16,103.49 114.21,104.00 114.23,104.54 C114.26,105.09 114.20,105.67 114.15,106.27 C114.10,106.88 114.04,107.50 113.94,108.16 C113.84,108.83 113.73,109.55 113.54,110.26 C113.36,110.98 113.10,111.76 112.84,112.45 C112.57,113.15 112.26,113.81 111.97,114.42 C111.68,115.03 111.38,115.57 111.09,116.11 C110.80,116.66 110.51,117.17 110.23,117.69 C109.94,118.22 109.66,118.70 109.36,119.27 C109.06,119.83 108.75,120.49 108.42,121.09 C108.10,121.70 107.75,122.43 107.41,122.89 C107.07,123.35 106.72,123.76 106.38,123.87 C106.04,123.99 105.71,123.84 105.37,123.60 C105.04,123.36 104.70,122.88 104.38,122.44 C104.05,121.99 103.74,121.46 103.42,120.94 C103.11,120.41 102.81,119.86 102.49,119.30 C102.18,118.74 101.88,118.13 101.55,117.58 C101.21,117.04 100.88,116.55 100.50,116.02 C100.11,115.50 99.69,115.01 99.25,114.45 C98.81,113.88 98.30,113.24 97.84,112.63 C97.37,112.03 96.89,111.36 96.47,110.79 C96.04,110.22 95.63,109.70 95.28,109.21 C94.93,108.73 94.60,108.31 94.35,107.87 C94.10,107.43 93.92,107.01 93.78,106.56 C93.64,106.11 93.54,105.61 93.49,105.15 C93.44,104.69 93.38,104.20 93.46,103.78 C93.53,103.37 93.66,102.97 93.93,102.65 Z" fill="#dcdcdc" stroke="#6d6d6d" stroke-width="0.5"/>
<path d="M95.02,102.33 C95.17,102.01 95.48,101.73 95.84,101.50 C96.21,101.26 96.72,101.07 97.21,100.91 C97.71,100.74 98.26,100.62 98.81,100.49 C99.37,100.36 99.95,100.24 100.55,100.12 C101.14,100.00 101.78,99.87 102.38,99.78 C102.99,99.68 103.57,99.58 104.18,99.54 C104.78,99.50 105.39,99.48 106.00,99.52 C106.60,99.56 107.25,99.64 107.80,99.78 C108.34,99.91 108.83,100.10 109.25,100.33 C109.67,100.56 110.00,100.85 110.31,101.14 C110.63,101.44 110.89,101.77 111.12,102.11 C111.35,102.44 111.55,102.78 111.69,103.15 C111.82,103.51 111.90,103.89 111.95,104.30 C111.99,104.71 111.97,105.16 111.95,105.62 C111.92,106.08 111.87,106.56 111.79,107.08 C111.70,107.59 111.59,108.13 111.44,108.68 C111.30,109.23 111.09,109.82 110.91,110.37 C110.73,110.93 110.53,111.47 110.36,112.01 C110.19,112.55 110.04,113.07 109.87,113.63 C109.71,114.18 109.57,114.76 109.39,115.35 C109.21,115.93 109.04,116.52 108.82,117.14 C108.60,117.76 108.35,118.46 108.07,119.07 C107.80,119.68 107.48,120.37 107.17,120.79 C106.86,121.22 106.53,121.54 106.22,121.62 C105.90,121.70 105.59,121.51 105.29,121.25 C104.98,121.00 104.68,120.53 104.39,120.09 C104.10,119.66 103.82,119.15 103.54,118.64 C103.26,118.13 103.00,117.60 102.74,117.04 C102.48,116.48 102.22,115.87 101.97,115.29 C101.72,114.71 101.47,114.15 101.23,113.57 C100.99,112.99 100.75,112.41 100.52,111.83 C100.29,111.24 100.07,110.61 99.85,110.08 C99.62,109.55 99.43,109.05 99.18,108.64 C98.92,108.23 98.65,107.93 98.33,107.61 C98.02,107.30 97.65,107.06 97.32,106.77 C96.98,106.47 96.63,106.19 96.33,105.84 C96.02,105.49 95.72,105.09 95.49,104.69 C95.26,104.29 95.03,103.83 94.95,103.44 C94.87,103.05 94.87,102.65 95.02,102.33 Z" fill="#d2d2d2" stroke="#696969" stroke-width="0.5"/>
<path d="M97.70,102.60 C97.73,102.34 97.85,102.10 98.03,101.88 C98.22,101.66 98.51,101.45 98.82,101.28 C99.13,101.10 99.51,100.95 99.92,100.81 C100.33,100.67 100.80,100.56 101.28,100.46 C101.75,100.35 102.29,100.27 102.78,100.20 C103.27,100.13 103.75,100.07 104.24,100.03 C104.73,99.98 105.22,99.94 105.73,99.92 C106.24,99.91 106.81,99.90 107.31,99.95 C107.81,100.00 108.30,100.08 108.72,100.22 C109.14,100.37 109.51,100.58 109.82,100.82 C110.13,101.06 110.40,101.37 110.60,101.68 C110.79,101.99 110.92,102.34 110.99,102.69 C111.06,103.03 111.04,103.40 111.01,103.77 C110.97,104.15 110.87,104.54 110.79,104.93 C110.71,105.33 110.62,105.72 110.51,106.14 C110.40,106.56 110.29,107.00 110.15,107.43 C110.01,107.87 109.83,108.35 109.66,108.77 C109.48,109.19 109.29,109.59 109.11,109.97 C108.93,110.35 108.75,110.68 108.58,111.03 C108.41,111.38 108.24,111.71 108.08,112.08 C107.92,112.45 107.77,112.79 107.60,113.23 C107.44,113.67 107.27,114.19 107.09,114.70 C106.90,115.20 106.70,115.83 106.49,116.28 C106.28,116.74 106.06,117.18 105.84,117.41 C105.61,117.64 105.38,117.70 105.14,117.68 C104.90,117.65 104.65,117.45 104.41,117.24 C104.16,117.02 103.90,116.71 103.66,116.37 C103.41,116.02 103.16,115.62 102.92,115.17 C102.68,114.73 102.44,114.20 102.20,113.70 C101.97,113.20 101.74,112.70 101.51,112.19 C101.28,111.68 101.05,111.16 100.83,110.64 C100.61,110.11 100.39,109.54 100.20,109.04 C100.01,108.54 99.85,108.05 99.70,107.65 C99.54,107.25 99.40,106.93 99.26,106.63 C99.12,106.33 98.97,106.10 98.85,105.85 C98.72,105.60 98.62,105.38 98.51,105.12 C98.39,104.86 98.28,104.59 98.16,104.31 C98.04,104.03 97.89,103.72 97.81,103.44 C97.73,103.15 97.66,102.86 97.70,102.60 Z" fill="#cacaca" stroke="#666666" stroke-width="0.5"/>
<path d="M99.16,102.42 C99.22,102.23 99.36,102.07 99.54,101.91 C99.73,101.76 99.98,101.64 100.24,101.52 C100.49,101.39 100.78,101.30 101.08,101.19 C101.39,101.07 101.70,100.97 102.05,100.85 C102.39,100.73 102.76,100.60 103.13,100.48 C103.50,100.36 103.88,100.23 104.28,100.15 C104.68,100.06 105.12,99.98 105.55,99.97 C105.98,99.95 106.47,99.97 106.86,100.05 C107.26,100.13 107.62,100.27 107.91,100.45 C108.20,100.62 108.41,100.86 108.58,101.10 C108.76,101.34 108.87,101.63 108.95,101.89 C109.03,102.16 109.05,102.43 109.05,102.69 C109.06,102.96 109.00,103.21 108.95,103.48 C108.91,103.74 108.82,104.00 108.77,104.27 C108.71,104.54 108.67,104.81 108.62,105.10 C108.57,105.39 108.53,105.70 108.47,106.03 C108.42,106.35 108.34,106.72 108.26,107.06 C108.19,107.41 108.10,107.76 108.02,108.10 C107.93,108.44 107.85,108.78 107.76,109.13 C107.67,109.48 107.58,109.83 107.48,110.20 C107.38,110.56 107.28,110.93 107.15,111.32 C107.02,111.72 106.87,112.17 106.71,112.57 C106.54,112.97 106.35,113.43 106.16,113.73 C105.98,114.02 105.77,114.27 105.58,114.34 C105.39,114.42 105.19,114.33 105.00,114.19 C104.81,114.05 104.62,113.76 104.43,113.49 C104.24,113.22 104.06,112.89 103.89,112.56 C103.71,112.24 103.54,111.89 103.38,111.54 C103.21,111.19 103.05,110.81 102.88,110.45 C102.71,110.10 102.54,109.78 102.37,109.44 C102.19,109.10 102.01,108.76 101.83,108.41 C101.65,108.05 101.47,107.66 101.30,107.32 C101.14,106.97 100.99,106.61 100.84,106.32 C100.70,106.03 100.56,105.80 100.43,105.57 C100.29,105.35 100.15,105.17 100.02,104.98 C99.90,104.78 99.79,104.61 99.68,104.40 C99.57,104.19 99.47,103.97 99.38,103.74 C99.29,103.52 99.18,103.27 99.14,103.05 C99.11,102.83 99.09,102.61 99.16,102.42 Z" fill="#c8c8c8" stroke="#666666" stroke-width="0.5"/>
<path d="M96.61,103.99 C96.64,103.64 96.91,103.29 97.19,102.92 C97.47,102.56 97.88,102.17 98.29,101.83 C98.71,101.49 99.13,101.15 99.66,100.88 C100.19,100.61 100.82,100.40 101.47,100.22 C102.12,100.05 102.89,99.96 103.56,99.83 C104.22,99.70 104.81,99.58 105.47,99.45 C106.14,99.32 106.83,99.12 107.55,99.05 C108.28,98.99 109.15,98.97 109.82,99.07 C110.50,99.16 111.12,99.38 111.61,99.65 C112.10,99.91 112.45,100.30 112.77,100.67 C113.09,101.04 113.35,101.47 113.53,101.86 C113.71,102.25 113.85,102.62 113.87,103.01 C113.89,103.40 113.82,103.81 113.66,104.20 C113.51,104.60 113.25,105.04 112.95,105.38 C112.65,105.72 112.30,106.01 111.86,106.25 C111.43,106.48 110.93,106.61 110.35,106.78 C109.77,106.94 109.11,107.10 108.40,107.25 C107.70,107.40 106.91,107.60 106.13,107.67 C105.35,107.74 104.49,107.74 103.74,107.68 C102.99,107.63 102.27,107.48 101.63,107.34 C100.98,107.21 100.43,107.09 99.86,106.89 C99.30,106.69 98.71,106.43 98.23,106.13 C97.75,105.83 97.25,105.43 96.98,105.07 C96.71,104.72 96.57,104.35 96.61,103.99 Z" fill="#a4a4a4" stroke="#3f3f3f" stroke-width="0.6"/>
<path d="M98.94,103.86 C98.84,103.60 98.82,103.35 98.87,103.05 C98.93,102.75 99.06,102.39 99.29,102.08 C99.53,101.76 99.84,101.43 100.27,101.18 C100.70,100.93 101.30,100.73 101.88,100.60 C102.46,100.47 103.20,100.42 103.78,100.39 C104.36,100.35 104.87,100.37 105.36,100.39 C105.86,100.40 106.29,100.42 106.74,100.48 C107.18,100.53 107.63,100.61 108.03,100.72 C108.42,100.82 108.76,100.95 109.12,101.10 C109.48,101.24 109.83,101.41 110.19,101.61 C110.54,101.81 110.97,102.05 111.27,102.30 C111.56,102.55 111.84,102.82 111.96,103.11 C112.08,103.41 112.07,103.75 111.99,104.07 C111.91,104.39 111.71,104.75 111.49,105.04 C111.28,105.32 111.03,105.58 110.69,105.78 C110.35,105.98 109.95,106.11 109.46,106.23 C108.96,106.35 108.32,106.45 107.72,106.49 C107.11,106.53 106.40,106.52 105.81,106.48 C105.22,106.44 104.68,106.32 104.17,106.25 C103.66,106.18 103.21,106.13 102.76,106.05 C102.32,105.98 101.90,105.93 101.50,105.81 C101.11,105.68 100.72,105.50 100.38,105.29 C100.04,105.09 99.71,104.82 99.47,104.59 C99.23,104.35 99.04,104.11 98.94,103.86 Z" fill="#8e8e8e" stroke="#333333" stroke-width="0.55"/>
<path d="M100.25,103.78 C100.25,103.58 100.41,103.37 100.63,103.18 C100.84,102.99 101.23,102.79 101.54,102.64 C101.85,102.48 102.19,102.38 102.49,102.27 C102.79,102.16 103.05,102.07 103.35,101.97 C103.65,101.87 103.97,101.75 104.28,101.67 C104.59,101.59 104.92,101.53 105.23,101.50 C105.54,101.47 105.83,101.49 106.15,101.50 C106.46,101.51 106.79,101.53 107.11,101.56 C107.42,101.60 107.76,101.63 108.05,101.72 C108.34,101.81 108.62,101.95 108.83,102.10 C109.05,102.26 109.23,102.47 109.36,102.66 C109.48,102.85 109.55,103.04 109.60,103.24 C109.65,103.45 109.69,103.66 109.68,103.88 C109.67,104.10 109.66,104.38 109.54,104.58 C109.42,104.78 109.25,104.98 108.96,105.08 C108.67,105.19 108.22,105.22 107.79,105.21 C107.37,105.21 106.82,105.11 106.42,105.06 C106.01,105.01 105.70,104.92 105.38,104.92 C105.07,104.92 104.84,105.01 104.53,105.05 C104.22,105.10 103.84,105.19 103.50,105.21 C103.17,105.22 102.84,105.20 102.51,105.14 C102.19,105.08 101.86,104.97 101.55,104.84 C101.24,104.71 100.88,104.53 100.66,104.35 C100.44,104.17 100.26,103.97 100.25,103.78 Z" fill="#9a9a9a" stroke="#3f3f3f" stroke-width="0.5"/>
<path d="M97.50,102.80 C98.08,102.40 99.58,100.97 101.00,100.40 C102.42,99.83 104.42,99.43 106.00,99.40 C107.58,99.37 109.37,99.72 110.50,100.20 C111.63,100.68 112.42,101.95 112.80,102.30" fill="none" stroke="#030303" stroke-width="1.6"/>
<path d="M104.00,108.00 C104.67,108.17 106.92,108.33 108.00,109.00 C109.08,109.67 110.08,111.50 110.50,112.00" fill="none" stroke="#595959" stroke-width="0.8"/></g>
<rect x="89.5" y="86.5" width="53.0" height="54.0" fill="none" stroke="#c4c4c4" stroke-width="1"/>
<line x1="114.5" y1="86.5" x2="114.5" y2="140.5" stroke="#6a6a6a" stroke-width="1"/>
<line x1="89.5" y1="105.5" x2="142.5" y2="105.5" stroke="#6a6a6a" stroke-width="1"/>
<clipPath id="cpc22"><rect x="89.5" y="155.5" width="53.0" height="53.0"/></clipPath><g clip-path="url(#cpc22)"><path d="M96.31,171.97 C96.63,171.31 97.02,170.60 97.49,169.91 C97.95,169.21 98.48,168.43 99.09,167.81 C99.69,167.19 100.32,166.60 101.12,166.19 C101.91,165.77 102.86,165.49 103.85,165.30 C104.85,165.11 106.05,165.04 107.08,165.06 C108.10,165.09 109.15,165.18 110.00,165.43 C110.85,165.69 111.49,166.13 112.15,166.59 C112.81,167.05 113.31,167.72 113.96,168.19 C114.61,168.67 115.24,169.15 116.03,169.44 C116.83,169.73 117.78,169.82 118.72,169.94 C119.66,170.06 120.73,170.05 121.68,170.18 C122.64,170.31 123.55,170.45 124.45,170.71 C125.34,170.97 126.22,171.35 127.04,171.74 C127.86,172.13 128.73,172.58 129.36,173.03 C129.99,173.47 130.53,173.94 130.82,174.41 C131.11,174.89 131.15,175.37 131.12,175.87 C131.10,176.37 130.87,176.89 130.68,177.41 C130.48,177.93 130.21,178.45 129.94,178.99 C129.66,179.53 129.41,180.09 129.04,180.65 C128.67,181.21 128.26,181.81 127.73,182.36 C127.20,182.91 126.61,183.47 125.84,183.96 C125.07,184.46 124.09,184.90 123.11,185.33 C122.12,185.75 120.91,186.11 119.95,186.52 C118.98,186.92 118.03,187.27 117.31,187.77 C116.59,188.26 116.11,188.84 115.61,189.47 C115.12,190.10 114.78,190.87 114.33,191.54 C113.87,192.22 113.43,192.90 112.90,193.51 C112.36,194.13 111.74,194.71 111.11,195.22 C110.47,195.73 109.80,196.25 109.09,196.56 C108.39,196.88 107.68,197.10 106.89,197.11 C106.10,197.12 105.23,196.92 104.37,196.62 C103.51,196.33 102.54,195.84 101.74,195.34 C100.93,194.83 100.16,194.25 99.54,193.60 C98.91,192.96 98.44,192.24 97.99,191.46 C97.55,190.68 97.20,189.79 96.86,188.92 C96.52,188.05 96.23,187.15 95.96,186.24 C95.69,185.33 95.42,184.38 95.22,183.44 C95.03,182.50 94.86,181.50 94.79,180.60 C94.72,179.70 94.73,178.83 94.78,178.04 C94.82,177.25 94.93,176.55 95.06,175.86 C95.19,175.16 95.33,174.53 95.54,173.88 C95.74,173.23 95.98,172.64 96.31,171.97 Z" fill="#f0f0f0" stroke="#848484" stroke-width="0.55"/>
<path d="M96.99,172.37 C97.33,171.77 97.79,171.14 98.30,170.56 C98.81,169.98 99.42,169.36 100.05,168.89 C100.68,168.41 101.34,168.01 102.10,167.72 C102.86,167.42 103.73,167.26 104.61,167.11 C105.50,166.97 106.53,166.89 107.42,166.84 C108.32,166.79 109.23,166.73 110.00,166.82 C110.77,166.91 111.38,167.12 112.02,167.39 C112.66,167.67 113.20,168.13 113.86,168.48 C114.53,168.83 115.21,169.23 116.00,169.50 C116.78,169.78 117.71,169.93 118.57,170.12 C119.43,170.30 120.35,170.41 121.17,170.62 C121.98,170.82 122.72,171.04 123.46,171.35 C124.20,171.65 124.91,172.05 125.60,172.44 C126.28,172.83 127.03,173.25 127.58,173.67 C128.12,174.09 128.61,174.51 128.86,174.94 C129.11,175.37 129.14,175.81 129.09,176.26 C129.04,176.72 128.81,177.20 128.58,177.67 C128.35,178.14 128.03,178.62 127.72,179.11 C127.41,179.59 127.09,180.08 126.71,180.57 C126.34,181.06 125.93,181.57 125.46,182.05 C124.99,182.54 124.52,183.02 123.91,183.48 C123.30,183.94 122.56,184.35 121.82,184.80 C121.07,185.25 120.17,185.67 119.42,186.17 C118.67,186.67 117.93,187.19 117.33,187.78 C116.72,188.38 116.27,189.09 115.78,189.75 C115.30,190.42 114.89,191.16 114.41,191.75 C113.92,192.35 113.41,192.86 112.85,193.30 C112.29,193.74 111.66,194.08 111.05,194.39 C110.43,194.69 109.81,194.97 109.17,195.13 C108.53,195.28 107.91,195.37 107.22,195.31 C106.52,195.26 105.76,195.06 104.99,194.79 C104.22,194.53 103.35,194.14 102.61,193.73 C101.87,193.31 101.13,192.84 100.55,192.29 C99.96,191.74 99.50,191.12 99.09,190.42 C98.68,189.72 98.37,188.89 98.07,188.10 C97.78,187.30 97.56,186.46 97.33,185.63 C97.10,184.80 96.88,183.95 96.70,183.10 C96.52,182.25 96.35,181.36 96.23,180.54 C96.11,179.72 96.04,178.93 96.00,178.19 C95.96,177.46 95.95,176.78 95.99,176.11 C96.04,175.45 96.09,174.81 96.26,174.19 C96.42,173.56 96.65,172.98 96.99,172.37 Z" fill="none" stroke="#878787" stroke-width="0.5"/>
<path d="M98.06,174.46 C98.16,173.53 98.28,172.66 98.48,171.82 C98.68,170.97 98.94,170.11 99.29,169.40 C99.63,168.70 100.03,168.07 100.54,167.60 C101.04,167.13 101.67,166.84 102.31,166.59 C102.96,166.34 103.73,166.24 104.42,166.08 C105.12,165.93 105.81,165.80 106.51,165.66 C107.21,165.51 107.93,165.29 108.65,165.23 C109.36,165.17 110.18,165.10 110.82,165.29 C111.47,165.48 112.08,165.81 112.50,166.37 C112.92,166.93 113.17,167.76 113.35,168.63 C113.52,169.50 113.52,170.60 113.53,171.58 C113.54,172.57 113.45,173.57 113.39,174.53 C113.34,175.49 113.26,176.41 113.20,177.34 C113.13,178.27 113.08,179.21 113.03,180.11 C112.98,181.02 112.95,181.88 112.90,182.77 C112.86,183.66 112.84,184.55 112.78,185.47 C112.72,186.40 112.68,187.39 112.55,188.31 C112.41,189.23 112.28,190.15 111.99,190.99 C111.71,191.82 111.33,192.65 110.85,193.33 C110.37,194.01 109.74,194.69 109.11,195.09 C108.49,195.49 107.79,195.72 107.09,195.73 C106.39,195.74 105.62,195.47 104.90,195.13 C104.18,194.80 103.40,194.24 102.76,193.69 C102.12,193.15 101.55,192.54 101.06,191.87 C100.57,191.20 100.18,190.48 99.80,189.66 C99.42,188.84 99.05,187.92 98.77,186.97 C98.48,186.02 98.24,185.01 98.09,183.97 C97.94,182.92 97.88,181.79 97.85,180.70 C97.82,179.60 97.85,178.44 97.89,177.40 C97.92,176.36 97.96,175.39 98.06,174.46 Z" fill="#d2d2d2" stroke="#5b5b5b" stroke-width="0.55"/>
<path d="M98.51,174.41 C98.64,173.58 98.91,172.92 99.18,172.25 C99.45,171.58 99.77,170.98 100.11,170.41 C100.45,169.83 100.78,169.28 101.21,168.82 C101.64,168.36 102.13,167.95 102.69,167.65 C103.25,167.35 103.94,167.14 104.57,167.04 C105.20,166.93 105.85,166.94 106.45,167.00 C107.06,167.06 107.65,167.20 108.22,167.37 C108.78,167.54 109.36,167.76 109.85,168.05 C110.33,168.33 110.77,168.64 111.12,169.07 C111.46,169.50 111.71,170.03 111.90,170.64 C112.10,171.25 112.21,172.00 112.27,172.74 C112.33,173.48 112.31,174.30 112.27,175.09 C112.23,175.89 112.09,176.72 112.03,177.51 C111.98,178.30 111.88,179.06 111.91,179.83 C111.94,180.61 112.09,181.32 112.21,182.17 C112.33,183.03 112.57,184.00 112.62,184.95 C112.68,185.90 112.69,187.02 112.55,187.89 C112.40,188.76 112.13,189.56 111.76,190.18 C111.39,190.79 110.86,191.23 110.33,191.60 C109.81,191.97 109.18,192.22 108.61,192.38 C108.03,192.55 107.48,192.63 106.89,192.60 C106.30,192.57 105.69,192.44 105.09,192.21 C104.49,191.97 103.82,191.62 103.29,191.18 C102.76,190.73 102.29,190.17 101.92,189.55 C101.56,188.92 101.34,188.16 101.10,187.42 C100.86,186.69 100.71,185.88 100.48,185.13 C100.26,184.38 100.02,183.72 99.76,182.92 C99.49,182.12 99.12,181.27 98.89,180.32 C98.66,179.36 98.43,178.18 98.36,177.19 C98.30,176.21 98.37,175.23 98.51,174.41 Z" fill="#c6c6c6" stroke="#545454" stroke-width="0.55"/>
<path d="M100.15,175.34 C100.15,174.61 100.23,173.92 100.37,173.28 C100.51,172.64 100.73,172.03 100.99,171.50 C101.24,170.97 101.53,170.49 101.90,170.09 C102.26,169.68 102.69,169.35 103.16,169.07 C103.64,168.80 104.23,168.58 104.76,168.46 C105.30,168.34 105.87,168.29 106.39,168.34 C106.92,168.39 107.44,168.53 107.91,168.76 C108.38,168.99 108.85,169.33 109.21,169.71 C109.57,170.08 109.85,170.54 110.07,171.00 C110.30,171.46 110.42,171.97 110.57,172.47 C110.71,172.97 110.82,173.47 110.94,173.98 C111.06,174.49 111.20,174.96 111.30,175.52 C111.40,176.08 111.50,176.68 111.54,177.34 C111.59,177.99 111.59,178.75 111.59,179.45 C111.59,180.16 111.55,180.86 111.53,181.58 C111.52,182.30 111.53,183.03 111.49,183.78 C111.44,184.53 111.42,185.36 111.28,186.06 C111.14,186.75 110.95,187.41 110.66,187.93 C110.37,188.44 109.96,188.84 109.53,189.15 C109.11,189.46 108.60,189.66 108.13,189.79 C107.66,189.92 107.20,189.94 106.72,189.93 C106.25,189.93 105.76,189.86 105.25,189.75 C104.74,189.64 104.16,189.51 103.67,189.27 C103.18,189.02 102.68,188.74 102.30,188.29 C101.93,187.84 101.63,187.24 101.40,186.57 C101.18,185.91 101.07,185.05 100.98,184.30 C100.90,183.55 100.93,182.80 100.89,182.08 C100.85,181.35 100.82,180.70 100.73,179.96 C100.64,179.23 100.46,178.43 100.36,177.66 C100.27,176.89 100.15,176.07 100.15,175.34 Z" fill="#bcbcbc" stroke="#4f4f4f" stroke-width="0.55"/>
<path d="M100.67,175.35 C100.67,174.69 100.73,174.04 100.88,173.49 C101.02,172.93 101.26,172.41 101.54,172.04 C101.82,171.68 102.18,171.42 102.55,171.28 C102.93,171.13 103.38,171.16 103.81,171.17 C104.24,171.18 104.70,171.31 105.12,171.37 C105.53,171.42 105.90,171.49 106.27,171.52 C106.65,171.55 107.01,171.51 107.38,171.54 C107.74,171.57 108.14,171.58 108.47,171.69 C108.80,171.81 109.10,171.98 109.33,172.24 C109.57,172.49 109.72,172.86 109.87,173.23 C110.01,173.60 110.10,174.05 110.21,174.47 C110.33,174.89 110.44,175.30 110.54,175.76 C110.65,176.23 110.78,176.71 110.86,177.27 C110.93,177.83 110.99,178.49 110.98,179.11 C110.97,179.73 110.88,180.37 110.79,180.97 C110.70,181.56 110.57,182.12 110.45,182.68 C110.33,183.23 110.23,183.80 110.10,184.32 C109.96,184.84 109.84,185.35 109.64,185.80 C109.43,186.25 109.17,186.69 108.86,187.02 C108.55,187.35 108.15,187.64 107.78,187.78 C107.40,187.92 107.00,187.94 106.60,187.86 C106.21,187.78 105.80,187.54 105.41,187.30 C105.03,187.06 104.63,186.72 104.29,186.42 C103.96,186.11 103.67,185.80 103.41,185.44 C103.15,185.09 102.94,184.72 102.73,184.30 C102.53,183.87 102.34,183.39 102.17,182.90 C102.00,182.41 101.85,181.91 101.70,181.35 C101.55,180.80 101.41,180.21 101.27,179.56 C101.13,178.92 100.96,178.16 100.86,177.46 C100.76,176.76 100.67,176.01 100.67,175.35 Z" fill="#bcbcbc" stroke="#525252" stroke-width="0.5"/>
<path d="M102.56,176.48 C102.55,176.04 102.55,175.59 102.60,175.17 C102.66,174.76 102.76,174.32 102.91,173.99 C103.06,173.65 103.26,173.36 103.49,173.17 C103.73,172.97 104.03,172.88 104.33,172.81 C104.64,172.73 104.99,172.75 105.30,172.72 C105.62,172.69 105.92,172.68 106.22,172.64 C106.53,172.61 106.83,172.53 107.14,172.51 C107.45,172.49 107.80,172.45 108.08,172.53 C108.37,172.60 108.64,172.73 108.83,172.96 C109.01,173.19 109.13,173.54 109.22,173.90 C109.31,174.26 109.33,174.72 109.35,175.13 C109.37,175.55 109.36,175.97 109.35,176.39 C109.34,176.81 109.32,177.23 109.29,177.65 C109.26,178.07 109.21,178.52 109.16,178.92 C109.11,179.33 109.03,179.71 108.97,180.08 C108.91,180.46 108.86,180.80 108.81,181.18 C108.77,181.55 108.75,181.95 108.71,182.35 C108.66,182.74 108.64,183.16 108.54,183.55 C108.44,183.95 108.31,184.37 108.12,184.72 C107.93,185.07 107.67,185.44 107.40,185.66 C107.13,185.89 106.82,186.04 106.50,186.06 C106.18,186.09 105.82,185.98 105.49,185.83 C105.16,185.67 104.80,185.40 104.52,185.13 C104.23,184.86 103.98,184.55 103.78,184.21 C103.57,183.87 103.42,183.50 103.29,183.11 C103.15,182.71 103.04,182.26 102.95,181.83 C102.87,181.40 102.83,180.96 102.79,180.52 C102.76,180.08 102.77,179.65 102.74,179.20 C102.72,178.75 102.69,178.29 102.65,177.84 C102.62,177.38 102.56,176.93 102.56,176.48 Z" fill="#c6c6c6" stroke="#595959" stroke-width="0.5"/>
<path d="M103.53,176.86 C103.55,176.58 103.62,176.34 103.70,176.09 C103.77,175.84 103.85,175.60 103.95,175.36 C104.05,175.13 104.14,174.89 104.28,174.68 C104.42,174.48 104.58,174.27 104.78,174.13 C104.98,173.99 105.23,173.88 105.47,173.84 C105.70,173.80 105.95,173.82 106.17,173.88 C106.39,173.93 106.60,174.06 106.79,174.18 C106.98,174.31 107.16,174.48 107.31,174.64 C107.45,174.80 107.57,174.97 107.66,175.15 C107.76,175.33 107.83,175.52 107.89,175.73 C107.95,175.93 107.99,176.14 108.03,176.37 C108.06,176.59 108.08,176.82 108.10,177.06 C108.12,177.30 108.11,177.56 108.13,177.82 C108.14,178.08 108.15,178.34 108.19,178.62 C108.22,178.90 108.30,179.18 108.35,179.50 C108.40,179.82 108.47,180.19 108.48,180.54 C108.49,180.88 108.47,181.28 108.39,181.57 C108.32,181.87 108.19,182.12 108.04,182.30 C107.89,182.49 107.68,182.59 107.49,182.68 C107.29,182.77 107.07,182.81 106.87,182.85 C106.68,182.89 106.50,182.91 106.30,182.92 C106.10,182.93 105.90,182.93 105.69,182.89 C105.48,182.84 105.23,182.79 105.04,182.67 C104.84,182.55 104.65,182.40 104.51,182.19 C104.36,181.98 104.27,181.70 104.19,181.42 C104.11,181.15 104.08,180.82 104.03,180.53 C103.98,180.24 103.95,179.98 103.89,179.69 C103.83,179.41 103.75,179.13 103.69,178.81 C103.63,178.50 103.55,178.13 103.52,177.80 C103.50,177.48 103.50,177.15 103.53,176.86 Z" fill="#d0d0d0" stroke="#666666" stroke-width="0.5"/>
<path d="M99.76,171.00 C99.86,170.58 100.02,170.15 100.30,169.75 C100.59,169.36 101.03,168.94 101.47,168.64 C101.90,168.34 102.42,168.14 102.92,167.96 C103.42,167.78 103.93,167.70 104.48,167.55 C105.02,167.40 105.58,167.20 106.18,167.05 C106.77,166.91 107.41,166.72 108.03,166.67 C108.65,166.63 109.30,166.68 109.90,166.80 C110.50,166.91 111.12,167.13 111.64,167.38 C112.15,167.62 112.63,167.89 113.00,168.25 C113.37,168.62 113.68,169.09 113.85,169.58 C114.02,170.06 114.08,170.69 114.02,171.17 C113.96,171.64 113.72,172.08 113.49,172.45 C113.26,172.82 112.91,173.08 112.63,173.38 C112.34,173.68 112.07,173.98 111.76,174.26 C111.45,174.55 111.21,174.86 110.78,175.09 C110.35,175.32 109.80,175.51 109.17,175.62 C108.55,175.74 107.72,175.75 107.01,175.77 C106.31,175.79 105.61,175.75 104.95,175.73 C104.29,175.71 103.66,175.72 103.05,175.65 C102.45,175.59 101.80,175.51 101.33,175.34 C100.86,175.17 100.49,174.94 100.23,174.64 C99.98,174.33 99.89,173.93 99.80,173.53 C99.70,173.13 99.68,172.67 99.67,172.24 C99.67,171.82 99.65,171.41 99.76,171.00 Z" fill="#8a8a8a" stroke="#262626" stroke-width="0.7"/>
<path d="M101.45,171.07 C101.55,170.75 101.69,170.46 101.82,170.12 C101.96,169.77 102.06,169.38 102.25,169.03 C102.44,168.68 102.62,168.28 102.97,168.00 C103.32,167.72 103.82,167.48 104.36,167.37 C104.90,167.25 105.64,167.25 106.21,167.30 C106.78,167.35 107.31,167.51 107.78,167.64 C108.24,167.77 108.63,167.92 109.02,168.08 C109.41,168.24 109.81,168.40 110.12,168.61 C110.44,168.81 110.69,169.02 110.91,169.28 C111.14,169.54 111.28,169.84 111.47,170.16 C111.66,170.48 111.88,170.85 112.05,171.20 C112.22,171.56 112.44,171.93 112.51,172.28 C112.57,172.63 112.57,172.99 112.42,173.30 C112.27,173.62 111.96,173.94 111.61,174.17 C111.26,174.40 110.81,174.55 110.34,174.67 C109.86,174.79 109.32,174.82 108.76,174.87 C108.20,174.91 107.54,174.94 106.97,174.93 C106.40,174.92 105.82,174.88 105.33,174.82 C104.83,174.75 104.42,174.64 104.02,174.53 C103.61,174.43 103.24,174.31 102.90,174.18 C102.56,174.05 102.25,173.93 102.00,173.74 C101.75,173.54 101.54,173.30 101.41,173.01 C101.28,172.73 101.23,172.36 101.24,172.04 C101.24,171.71 101.35,171.39 101.45,171.07 Z" fill="#5a5a5a" stroke="#191919" stroke-width="0.6"/>
<path d="M102.88,171.13 C102.91,170.90 102.93,170.65 103.03,170.40 C103.13,170.15 103.27,169.86 103.46,169.63 C103.65,169.41 103.91,169.21 104.19,169.06 C104.48,168.90 104.83,168.81 105.19,168.70 C105.55,168.60 105.98,168.48 106.38,168.42 C106.78,168.36 107.22,168.30 107.59,168.35 C107.96,168.39 108.32,168.53 108.60,168.69 C108.88,168.84 109.10,169.09 109.28,169.29 C109.46,169.49 109.55,169.68 109.69,169.88 C109.83,170.08 109.96,170.27 110.10,170.50 C110.24,170.72 110.42,170.98 110.53,171.23 C110.64,171.48 110.73,171.74 110.74,171.98 C110.75,172.21 110.69,172.43 110.60,172.66 C110.51,172.88 110.38,173.12 110.20,173.33 C110.03,173.54 109.86,173.77 109.56,173.93 C109.26,174.08 108.86,174.22 108.42,174.25 C107.98,174.28 107.37,174.20 106.93,174.11 C106.49,174.02 106.13,173.82 105.79,173.71 C105.46,173.61 105.22,173.54 104.92,173.48 C104.62,173.42 104.28,173.43 104.01,173.36 C103.73,173.30 103.44,173.24 103.26,173.10 C103.08,172.96 102.98,172.75 102.91,172.54 C102.84,172.32 102.85,172.06 102.85,171.82 C102.84,171.59 102.85,171.37 102.88,171.13 Z" fill="#6e6e6e" stroke="#1f1f1f" stroke-width="0.5"/>
<path d="M104.16,171.19 C104.18,171.03 104.26,170.87 104.35,170.72 C104.45,170.57 104.61,170.41 104.75,170.28 C104.88,170.14 105.01,170.02 105.17,169.90 C105.34,169.78 105.50,169.66 105.72,169.57 C105.95,169.47 106.25,169.38 106.51,169.35 C106.78,169.32 107.07,169.35 107.31,169.40 C107.55,169.44 107.76,169.52 107.97,169.60 C108.18,169.68 108.40,169.76 108.58,169.86 C108.75,169.96 108.92,170.07 109.02,170.21 C109.11,170.36 109.15,170.55 109.17,170.72 C109.18,170.90 109.13,171.10 109.10,171.26 C109.08,171.42 109.03,171.54 109.02,171.68 C109.00,171.82 109.02,171.94 109.00,172.09 C108.99,172.23 109.00,172.42 108.93,172.57 C108.85,172.72 108.76,172.88 108.58,172.99 C108.40,173.10 108.13,173.17 107.85,173.22 C107.57,173.26 107.20,173.27 106.89,173.26 C106.59,173.26 106.27,173.23 106.01,173.18 C105.75,173.14 105.53,173.07 105.35,172.99 C105.16,172.91 105.02,172.80 104.91,172.70 C104.79,172.60 104.74,172.49 104.67,172.38 C104.60,172.27 104.55,172.16 104.48,172.04 C104.41,171.91 104.30,171.78 104.25,171.64 C104.20,171.50 104.14,171.34 104.16,171.19 Z" fill="#d4d4d4" stroke="#333333" stroke-width="0.5"/>
<path d="M106.80,177.50 C106.83,178.08 107.00,179.75 107.00,181.00 C107.00,182.25 106.83,184.33 106.80,185.00" fill="none" stroke="#2b2b2b" stroke-width="1.2"/>
<path d="M113.47,175.02 C113.96,174.61 114.77,174.51 115.58,174.43 C116.39,174.35 117.44,174.45 118.32,174.56 C119.21,174.67 120.04,174.93 120.88,175.10 C121.72,175.28 122.47,175.48 123.37,175.62 C124.27,175.77 125.36,175.83 126.26,175.99 C127.16,176.15 128.18,176.25 128.77,176.58 C129.37,176.90 129.73,177.39 129.83,177.94 C129.94,178.48 129.69,179.25 129.42,179.85 C129.15,180.45 128.68,181.05 128.22,181.54 C127.75,182.02 127.25,182.36 126.63,182.74 C126.01,183.12 125.25,183.47 124.50,183.79 C123.75,184.11 122.89,184.35 122.11,184.67 C121.33,184.99 120.56,185.33 119.84,185.70 C119.11,186.08 118.37,186.66 117.74,186.93 C117.11,187.20 116.50,187.47 116.08,187.31 C115.65,187.15 115.40,186.56 115.20,185.97 C114.99,185.38 115.01,184.46 114.86,183.77 C114.72,183.09 114.61,182.55 114.34,181.87 C114.06,181.18 113.50,180.50 113.22,179.67 C112.94,178.85 112.62,177.69 112.66,176.91 C112.70,176.14 112.99,175.44 113.47,175.02 Z" fill="none" stroke="#676767" stroke-width="0.55"/>
<path d="M114.81,176.23 C115.14,175.90 115.80,175.80 116.42,175.79 C117.04,175.79 117.88,176.07 118.53,176.20 C119.18,176.33 119.67,176.49 120.33,176.55 C120.98,176.61 121.70,176.51 122.45,176.55 C123.19,176.59 124.14,176.66 124.77,176.81 C125.39,176.97 125.89,177.19 126.19,177.48 C126.49,177.78 126.51,178.16 126.55,178.56 C126.60,178.96 126.55,179.46 126.44,179.90 C126.32,180.33 126.18,180.79 125.89,181.15 C125.60,181.51 125.15,181.77 124.68,182.04 C124.21,182.31 123.59,182.52 123.05,182.79 C122.51,183.06 122.01,183.36 121.45,183.67 C120.89,183.99 120.25,184.42 119.68,184.67 C119.12,184.92 118.50,185.13 118.06,185.17 C117.61,185.22 117.30,185.14 117.02,184.96 C116.74,184.78 116.59,184.44 116.39,184.09 C116.19,183.75 116.02,183.32 115.84,182.88 C115.66,182.45 115.49,182.00 115.31,181.48 C115.13,180.95 114.92,180.38 114.77,179.76 C114.62,179.14 114.40,178.35 114.40,177.76 C114.41,177.17 114.47,176.55 114.81,176.23 Z" fill="none" stroke="#676767" stroke-width="0.55"/>
<path d="M116.61,177.85 C116.81,177.66 117.16,177.63 117.50,177.56 C117.85,177.48 118.25,177.45 118.68,177.40 C119.10,177.35 119.57,177.26 120.05,177.27 C120.54,177.27 121.09,177.32 121.59,177.41 C122.08,177.50 122.61,177.64 123.00,177.79 C123.39,177.93 123.74,178.07 123.92,178.28 C124.11,178.48 124.16,178.75 124.11,179.03 C124.05,179.30 123.83,179.67 123.61,179.94 C123.39,180.20 123.05,180.44 122.79,180.63 C122.53,180.82 122.28,180.92 122.04,181.09 C121.81,181.26 121.63,181.43 121.39,181.65 C121.15,181.87 120.92,182.14 120.60,182.40 C120.28,182.65 119.85,182.96 119.47,183.19 C119.09,183.42 118.65,183.67 118.31,183.78 C117.97,183.90 117.66,184.00 117.44,183.89 C117.22,183.79 117.08,183.48 117.00,183.14 C116.91,182.80 116.95,182.26 116.95,181.87 C116.95,181.48 117.05,181.13 117.00,180.80 C116.96,180.47 116.79,180.22 116.68,179.87 C116.57,179.52 116.36,179.04 116.35,178.71 C116.34,178.37 116.42,178.04 116.61,177.85 Z" fill="none" stroke="#6f6f6f" stroke-width="0.5"/></g>
<rect x="89.5" y="155.5" width="53.0" height="53.0" fill="none" stroke="#c4c4c4" stroke-width="1"/>
<line x1="114.5" y1="155.5" x2="114.5" y2="208.5" stroke="#6a6a6a" stroke-width="1"/>
<line x1="89.5" y1="175.5" x2="142.5" y2="175.5" stroke="#6a6a6a" stroke-width="1"/>
<rect x="15.0" y="18.0" width="10.600000000000001" height="8.8" fill="#fff" stroke="none" stroke-width="1"/>
<rect x="15.0" y="87.3" width="9.3" height="8.700000000000003" fill="#fff" stroke="none" stroke-width="1"/>
<rect x="15.1" y="156.8" width="9.700000000000001" height="9.199999999999989" fill="#fff" stroke="none" stroke-width="1"/>
<text x="20.1" y="25.4" font-size="8.5" text-anchor="middle" fill="#000" stroke="#000" stroke-width="0.22">23</text>
<text x="63.2" y="24.9" font-size="8.5" text-anchor="middle" fill="#000" stroke="#000" stroke-width="0.22">7</text>
<text x="19.4" y="68.65" font-size="8.5" text-anchor="middle" fill="#000" stroke="#000" stroke-width="0.22">8</text>
<text x="59.4" y="68.65" font-size="8.5" text-anchor="middle" fill="#000" stroke="#000" stroke-width="0.22">62</text>
<text x="95.5" y="24.9" font-size="8.5" text-anchor="middle" fill="#000" stroke="#000" stroke-width="0.22">13</text>
<text x="138.2" y="24.9" font-size="8.5" text-anchor="middle" fill="#000" stroke="#000" stroke-width="0.22">0</text>
<text x="95.6" y="68.9" font-size="8.5" text-anchor="middle" fill="#000" stroke="#000" stroke-width="0.22">64</text>
<text x="136.0" y="68.9" font-size="8.5" text-anchor="middle" fill="#000" stroke="#000" stroke-width="0.22">23</text>
<text x="18.7" y="95.15" font-size="8.5" text-anchor="middle" fill="#000" stroke="#000" stroke-width="0.22">71</text>
<text x="60.3" y="95.15" font-size="8.5" text-anchor="middle" fill="#000" stroke="#000" stroke-width="0.22">10</text>
<text x="18.4" y="138.15" font-size="8.5" text-anchor="middle" fill="#000" stroke="#000" stroke-width="0.22">6</text>
<text x="60.9" y="138.15" font-size="8.5" text-anchor="middle" fill="#000" stroke="#000" stroke-width="0.22">13</text>
<text x="95.1" y="94.65" font-size="8.5" text-anchor="middle" fill="#000" stroke="#000" stroke-width="0.22">45</text>
<text x="138.9" y="94.65" font-size="8.5" text-anchor="middle" fill="#000" stroke="#000" stroke-width="0.22">1</text>
<text x="95.5" y="138.15" font-size="8.5" text-anchor="middle" fill="#000" stroke="#000" stroke-width="0.22">52</text>
<text x="138.2" y="138.15" font-size="8.5" text-anchor="middle" fill="#000" stroke="#000" stroke-width="0.22">2</text>
<text x="19.9" y="164.3" font-size="8.5" text-anchor="middle" fill="#000" stroke="#000" stroke-width="0.22">71</text>
<text x="60.3" y="162.9" font-size="8.5" text-anchor="middle" fill="#000" stroke="#000" stroke-width="0.22">18</text>
<text x="18.2" y="206.9" font-size="8.5" text-anchor="middle" fill="#000" stroke="#000" stroke-width="0.22">3</text>
<text x="61.4" y="206.0" font-size="8.5" text-anchor="middle" fill="#000" stroke="#000" stroke-width="0.22">8</text>
<text x="95.5" y="163.65" font-size="8.5" text-anchor="middle" fill="#000" stroke="#000" stroke-width="0.22">39</text>
<text x="134.7" y="163.15" font-size="8.5" text-anchor="middle" fill="#000" stroke="#000" stroke-width="0.22">4</text>
<text x="95.1" y="206.9" font-size="8.5" text-anchor="middle" fill="#000" stroke="#000" stroke-width="0.22">47</text>
<text x="135.3" y="206.9" font-size="8.5" text-anchor="middle" fill="#000" stroke="#000" stroke-width="0.22">10</text>
<text x="38.4" y="13.8" font-size="8.5" font-weight="bold" text-anchor="middle" fill="#000" stroke="#000" stroke-width="0.1">Ctrl</text>
<text x="36.7" y="83" font-size="8.5" font-weight="bold" text-anchor="middle" fill="#000" stroke="#000" stroke-width="0.1">Spi-B</text>
<text x="38.7" y="153.3" font-size="8.5" font-weight="bold" text-anchor="middle" fill="#000" stroke="#000" stroke-width="0.1">BCL-6</text>
<line x1="6.9" y1="215" x2="6.9" y2="191" stroke="#000" stroke-width="1.2"/>
<line x1="6.9" y1="165" x2="6.9" y2="146.2" stroke="#000" stroke-width="1.2"/>
<path d="M4.6000000000000005,147.2 L6.9,141.2 L9.2,147.2 Z" fill="#000"/>
<text x="9.3" y="178.4" font-size="8.5" text-anchor="middle" fill="#000" stroke="#000" stroke-width="0.22" transform="rotate(-90 9.3 178.4)">CD20</text>
<line x1="82" y1="215" x2="82" y2="191" stroke="#000" stroke-width="1.2"/>
<line x1="82" y1="165" x2="82" y2="146.2" stroke="#000" stroke-width="1.2"/>
<path d="M79.7,147.2 L82,141.2 L84.3,147.2 Z" fill="#000"/>
<text x="84.8" y="178.6" font-size="8.5" text-anchor="middle" fill="#000" stroke="#000" stroke-width="0.22" transform="rotate(-90 84.8 178.6)">CD19</text>
<line x1="11.5" y1="215.5" x2="25.8" y2="215.5" stroke="#000" stroke-width="1.2"/>
<line x1="51.5" y1="215.5" x2="65" y2="215.5" stroke="#000" stroke-width="1.2"/>
<path d="M64,213.2 L70,215.5 L64,217.8 Z" fill="#000"/>
<text x="39" y="218.6" font-size="8.5" text-anchor="middle" fill="#000" stroke="#000" stroke-width="0.22">CD38</text>
<line x1="84" y1="215.5" x2="98.4" y2="215.5" stroke="#000" stroke-width="1.2"/>
<line x1="128.5" y1="215.5" x2="137.6" y2="215.5" stroke="#000" stroke-width="1.2"/>
<path d="M136.6,213.2 L142.6,215.5 L136.6,217.8 Z" fill="#000"/>
<text x="114" y="218.6" font-size="8.5" text-anchor="middle" fill="#000" stroke="#000" stroke-width="0.22">CD138</text>
<line x1="181" y1="17.2" x2="181" y2="96.2" stroke="#000" stroke-width="1"/>
<line x1="178.5" y1="95.7" x2="181" y2="95.7" stroke="#000" stroke-width="1"/>
<text x="174.8" y="99.10000000000001" font-size="8.4" text-anchor="end" fill="#000" stroke="#000" stroke-width="0.22">0</text>
<line x1="178.5" y1="69.53333333333333" x2="181" y2="69.53333333333333" stroke="#000" stroke-width="1"/>
<text x="174.8" y="72.93333333333334" font-size="8.4" text-anchor="end" fill="#000" stroke="#000" stroke-width="0.22">0.4</text>
<line x1="178.5" y1="43.36666666666667" x2="181" y2="43.36666666666667" stroke="#000" stroke-width="1"/>
<text x="174.8" y="46.766666666666666" font-size="8.4" text-anchor="end" fill="#000" stroke="#000" stroke-width="0.22">0.8</text>
<line x1="178.5" y1="17.200000000000003" x2="181" y2="17.200000000000003" stroke="#000" stroke-width="1"/>
<text x="174.8" y="20.6" font-size="8.4" text-anchor="end" fill="#000" stroke="#000" stroke-width="0.22">1.2</text>
<line x1="181" y1="95.7" x2="242" y2="95.7" stroke="#000" stroke-width="1"/>
<line x1="181" y1="95.7" x2="181" y2="97.7" stroke="#000" stroke-width="1"/>
<line x1="201.5" y1="95.7" x2="201.5" y2="97.7" stroke="#000" stroke-width="1"/>
<line x1="221.5" y1="95.7" x2="221.5" y2="97.7" stroke="#000" stroke-width="1"/>
<line x1="242" y1="95.7" x2="242" y2="97.7" stroke="#000" stroke-width="1"/>
<rect x="185.2" y="30.28333333333333" width="12.200000000000017" height="65.41666666666667" fill="#333" stroke="#111" stroke-width="0.8"/>
<line x1="211.35000000000002" y1="80.32708333333333" x2="211.35000000000002" y2="84.77541666666667" stroke="#000" stroke-width="1"/>
<line x1="208.85000000000002" y1="80.32708333333333" x2="213.85000000000002" y2="80.32708333333333" stroke="#000" stroke-width="1"/>
<rect x="205.3" y="84.77541666666667" width="12.099999999999994" height="10.92458333333333" fill="#333" stroke="#111" stroke-width="0.8"/>
<line x1="232.0" y1="74.57041666666667" x2="232.0" y2="80.98125" stroke="#000" stroke-width="1"/>
<line x1="229.5" y1="74.57041666666667" x2="234.5" y2="74.57041666666667" stroke="#000" stroke-width="1"/>
<rect x="225.6" y="80.98125" width="12.800000000000011" height="14.71875" fill="#333" stroke="#111" stroke-width="0.8"/>
<text x="189.6" y="20.6" font-size="8.2" font-weight="bold" text-anchor="start" fill="#000" stroke="#000" stroke-width="0.1">CD38+CD20-</text>
<line x1="266.7" y1="17.5" x2="266.7" y2="95.8" stroke="#000" stroke-width="1"/>
<line x1="264.2" y1="95.3" x2="266.7" y2="95.3" stroke="#000" stroke-width="1"/>
<text x="261.8" y="98.7" font-size="8.4" text-anchor="end" fill="#000" stroke="#000" stroke-width="0.22">0</text>
<line x1="264.2" y1="69.36666666666666" x2="266.7" y2="69.36666666666666" stroke="#000" stroke-width="1"/>
<text x="261.8" y="72.76666666666667" font-size="8.4" text-anchor="end" fill="#000" stroke="#000" stroke-width="0.22">0.4</text>
<line x1="264.2" y1="43.43333333333333" x2="266.7" y2="43.43333333333333" stroke="#000" stroke-width="1"/>
<text x="261.8" y="46.83333333333333" font-size="8.4" text-anchor="end" fill="#000" stroke="#000" stroke-width="0.22">0.8</text>
<line x1="264.2" y1="17.5" x2="266.7" y2="17.5" stroke="#000" stroke-width="1"/>
<text x="261.8" y="20.9" font-size="8.4" text-anchor="end" fill="#000" stroke="#000" stroke-width="0.22">1.2</text>
<line x1="266.7" y1="95.3" x2="326" y2="95.3" stroke="#000" stroke-width="1"/>
<line x1="266.7" y1="95.3" x2="266.7" y2="97.3" stroke="#000" stroke-width="1"/>
<line x1="286.3" y1="95.3" x2="286.3" y2="97.3" stroke="#000" stroke-width="1"/>
<line x1="306" y1="95.3" x2="306" y2="97.3" stroke="#000" stroke-width="1"/>
<line x1="326" y1="95.3" x2="326" y2="97.3" stroke="#000" stroke-width="1"/>
<rect x="270.4" y="30.46666666666667" width="12.0" height="64.83333333333333" fill="#333" stroke="#111" stroke-width="0.8"/>
<line x1="296.5" y1="76.30383333333333" x2="296.5" y2="85.18599999999999" stroke="#000" stroke-width="1"/>
<line x1="294.0" y1="76.30383333333333" x2="299.0" y2="76.30383333333333" stroke="#000" stroke-width="1"/>
<rect x="290.4" y="85.18599999999999" width="12.200000000000045" height="10.114000000000004" fill="#333" stroke="#111" stroke-width="0.8"/>
<line x1="315.9" y1="70.5985" x2="315.9" y2="81.1015" stroke="#000" stroke-width="1"/>
<line x1="313.4" y1="70.5985" x2="318.4" y2="70.5985" stroke="#000" stroke-width="1"/>
<rect x="309.8" y="81.1015" width="12.199999999999989" height="14.198499999999996" fill="#333" stroke="#111" stroke-width="0.8"/>
<text x="272.8" y="20.8" font-size="8.2" font-weight="bold" text-anchor="start" fill="#000" stroke="#000" stroke-width="0.1">CD19-CD138+</text>
<text x="211.5" y="79.55" font-size="9" font-weight="bold" text-anchor="middle" fill="#000" stroke="#000" stroke-width="0.1">**</text>
<text x="232.5" y="74.35" font-size="9" font-weight="bold" text-anchor="middle" fill="#000" stroke="#000" stroke-width="0.1">**</text>
<text x="296.3" y="76.15" font-size="9" font-weight="bold" text-anchor="middle" fill="#000" stroke="#000" stroke-width="0.1">**</text>
<text x="316" y="71.25" font-size="9" font-weight="bold" text-anchor="middle" fill="#000" stroke="#000" stroke-width="0.1">**</text>
<text x="161.2" y="58.3" font-size="8.4" text-anchor="middle" fill="#000" stroke="#000" stroke-width="0.22" transform="rotate(-90 161.2 58.3)">Relative % of cells</text>
<text x="194.3" y="98.0" font-size="8.6" text-anchor="end" fill="#000" stroke="#000" stroke-width="0.22" transform="rotate(-90 194.3 98.0)">Ctrl</text>
<text x="214.4" y="98.0" font-size="8.6" text-anchor="end" fill="#000" stroke="#000" stroke-width="0.22" transform="rotate(-90 214.4 98.0)">Spi-B</text>
<text x="235.0" y="98.0" font-size="8.6" text-anchor="end" fill="#000" stroke="#000" stroke-width="0.22" transform="rotate(-90 235.0 98.0)">BCL-6</text>
<text x="279.4" y="98.0" font-size="8.6" text-anchor="end" fill="#000" stroke="#000" stroke-width="0.22" transform="rotate(-90 279.4 98.0)">Ctrl</text>
<text x="299.5" y="98.0" font-size="8.6" text-anchor="end" fill="#000" stroke="#000" stroke-width="0.22" transform="rotate(-90 299.5 98.0)">Spi-B</text>
<text x="318.9" y="98.0" font-size="8.6" text-anchor="end" fill="#000" stroke="#000" stroke-width="0.22" transform="rotate(-90 318.9 98.0)">BCL-6</text>
<line x1="375.7" y1="16.6" x2="375.7" y2="95.6" stroke="#000" stroke-width="1"/>
<line x1="373.2" y1="95.1" x2="375.7" y2="95.1" stroke="#000" stroke-width="1"/>
<text x="372.6" y="98.5" font-size="8.4" text-anchor="end" fill="#000" stroke="#000" stroke-width="0.22">0</text>
<line x1="373.2" y1="79.39999999999999" x2="375.7" y2="79.39999999999999" stroke="#000" stroke-width="1"/>
<text x="372.6" y="82.8" font-size="8.4" text-anchor="end" fill="#000" stroke="#000" stroke-width="0.22">0.3</text>
<line x1="373.2" y1="63.69999999999999" x2="375.7" y2="63.69999999999999" stroke="#000" stroke-width="1"/>
<text x="372.6" y="67.1" font-size="8.4" text-anchor="end" fill="#000" stroke="#000" stroke-width="0.22">0.6</text>
<line x1="373.2" y1="47.99999999999999" x2="375.7" y2="47.99999999999999" stroke="#000" stroke-width="1"/>
<text x="372.6" y="51.39999999999999" font-size="8.4" text-anchor="end" fill="#000" stroke="#000" stroke-width="0.22">0.9</text>
<line x1="373.2" y1="32.29999999999999" x2="375.7" y2="32.29999999999999" stroke="#000" stroke-width="1"/>
<text x="372.6" y="35.69999999999999" font-size="8.4" text-anchor="end" fill="#000" stroke="#000" stroke-width="0.22">1.2</text>
<line x1="373.2" y1="16.599999999999994" x2="375.7" y2="16.599999999999994" stroke="#000" stroke-width="1"/>
<text x="372.6" y="19.999999999999993" font-size="8.4" text-anchor="end" fill="#000" stroke="#000" stroke-width="0.22">1.5</text>
<line x1="375.7" y1="95.1" x2="437" y2="95.1" stroke="#000" stroke-width="1"/>
<line x1="375.5" y1="95.1" x2="375.5" y2="97.1" stroke="#000" stroke-width="1"/>
<line x1="397.5" y1="95.1" x2="397.5" y2="97.1" stroke="#000" stroke-width="1"/>
<line x1="417.5" y1="95.1" x2="417.5" y2="97.1" stroke="#000" stroke-width="1"/>
<line x1="437" y1="95.1" x2="437" y2="97.1" stroke="#000" stroke-width="1"/>
<line x1="387.0" y1="30.520666666666656" x2="387.0" y2="32.98033333333333" stroke="#000" stroke-width="1"/>
<line x1="384.5" y1="30.520666666666656" x2="389.5" y2="30.520666666666656" stroke="#000" stroke-width="1"/>
<rect x="381.1" y="32.98033333333333" width="11.799999999999955" height="62.11966666666667" fill="#000" stroke="#000" stroke-width="0.8"/>
<rect x="400.8" y="76.62633333333332" width="12.0" height="18.473666666666674" fill="#000" stroke="#000" stroke-width="0.8"/>
<line x1="427.0" y1="80.70833333333333" x2="427.0" y2="82.01666666666667" stroke="#000" stroke-width="1"/>
<line x1="424.5" y1="80.70833333333333" x2="429.5" y2="80.70833333333333" stroke="#000" stroke-width="1"/>
<rect x="421" y="82.01666666666667" width="12" height="13.083333333333329" fill="#000" stroke="#000" stroke-width="0.8"/>
<text x="401.2" y="14.1" font-size="8.2" font-weight="bold" text-anchor="start" fill="#000" stroke="#000" stroke-width="0.1">IgM</text>
<line x1="459.4" y1="17.6" x2="459.4" y2="96.1" stroke="#000" stroke-width="1"/>
<line x1="456.9" y1="95.6" x2="459.4" y2="95.6" stroke="#000" stroke-width="1"/>
<text x="455" y="99.0" font-size="8.4" text-anchor="end" fill="#000" stroke="#000" stroke-width="0.22">0</text>
<line x1="456.9" y1="76.1" x2="459.4" y2="76.1" stroke="#000" stroke-width="1"/>
<text x="455" y="79.5" font-size="8.4" text-anchor="end" fill="#000" stroke="#000" stroke-width="0.22">0.2</text>
<line x1="456.9" y1="56.599999999999994" x2="459.4" y2="56.599999999999994" stroke="#000" stroke-width="1"/>
<text x="455" y="59.99999999999999" font-size="8.4" text-anchor="end" fill="#000" stroke="#000" stroke-width="0.22">0.4</text>
<line x1="456.9" y1="37.1" x2="459.4" y2="37.1" stroke="#000" stroke-width="1"/>
<text x="455" y="40.5" font-size="8.4" text-anchor="end" fill="#000" stroke="#000" stroke-width="0.22">0.6</text>
<line x1="456.9" y1="17.599999999999994" x2="459.4" y2="17.599999999999994" stroke="#000" stroke-width="1"/>
<text x="455" y="20.999999999999993" font-size="8.4" text-anchor="end" fill="#000" stroke="#000" stroke-width="0.22">0.8</text>
<line x1="459.4" y1="95.6" x2="519" y2="95.6" stroke="#000" stroke-width="1"/>
<line x1="459.4" y1="95.6" x2="459.4" y2="97.6" stroke="#000" stroke-width="1"/>
<line x1="479" y1="95.6" x2="479" y2="97.6" stroke="#000" stroke-width="1"/>
<line x1="499.5" y1="95.6" x2="499.5" y2="97.6" stroke="#000" stroke-width="1"/>
<line x1="519" y1="95.6" x2="519" y2="97.6" stroke="#000" stroke-width="1"/>
<line x1="469.20000000000005" y1="33.785" x2="469.20000000000005" y2="42.803749999999994" stroke="#000" stroke-width="1"/>
<line x1="466.70000000000005" y1="33.785" x2="471.70000000000005" y2="33.785" stroke="#000" stroke-width="1"/>
<rect x="463.6" y="42.803749999999994" width="11.199999999999989" height="52.79625" fill="#000" stroke="#000" stroke-width="0.8"/>
<rect x="483.9" y="87.8" width="10.900000000000034" height="7.799999999999997" fill="#000" stroke="#000" stroke-width="0.8"/>
<rect x="504" y="87.8" width="10.5" height="7.799999999999997" fill="#000" stroke="#000" stroke-width="0.8"/>
<text x="487.6" y="13.1" font-size="8.2" font-weight="bold" text-anchor="start" fill="#000" stroke="#000" stroke-width="0.1">IgG</text>
<text x="354.0" y="56.2" font-size="8.45" text-anchor="middle" fill="#000" stroke="#000" stroke-width="0.22" transform="rotate(-90 354.0 56.2)">Concentration [µg/mL]</text>
<text x="390.2" y="98.0" font-size="8.6" text-anchor="end" fill="#000" stroke="#000" stroke-width="0.22" transform="rotate(-90 390.2 98.0)">Ctrl</text>
<text x="409.8" y="98.0" font-size="8.6" text-anchor="end" fill="#000" stroke="#000" stroke-width="0.22" transform="rotate(-90 409.8 98.0)">Spi-B</text>
<text x="430.0" y="98.0" font-size="8.6" text-anchor="end" fill="#000" stroke="#000" stroke-width="0.22" transform="rotate(-90 430.0 98.0)">BCL-6</text>
<text x="472.2" y="98.0" font-size="8.6" text-anchor="end" fill="#000" stroke="#000" stroke-width="0.22" transform="rotate(-90 472.2 98.0)">Ctrl</text>
<text x="492.4" y="98.0" font-size="8.6" text-anchor="end" fill="#000" stroke="#000" stroke-width="0.22" transform="rotate(-90 492.4 98.0)">Spi-B</text>
<text x="512.3" y="98.0" font-size="8.6" text-anchor="end" fill="#000" stroke="#000" stroke-width="0.22" transform="rotate(-90 512.3 98.0)">BCL-6</text>
<line x1="179.5" y1="149.5" x2="179.5" y2="223.0" stroke="#000" stroke-width="1.2"/>
<line x1="177.0" y1="222.5" x2="179.5" y2="222.5" stroke="#000" stroke-width="1"/>
<text x="174.4" y="225.5" font-size="8.5" text-anchor="end" fill="#000" stroke="#000" stroke-width="0.22">0</text>
<line x1="177.0" y1="210.41666666666666" x2="179.5" y2="210.41666666666666" stroke="#000" stroke-width="1"/>
<text x="174.4" y="213.41666666666666" font-size="8.5" text-anchor="end" fill="#000" stroke="#000" stroke-width="0.22">10</text>
<line x1="177.0" y1="198.33333333333334" x2="179.5" y2="198.33333333333334" stroke="#000" stroke-width="1"/>
<text x="174.4" y="201.33333333333334" font-size="8.5" text-anchor="end" fill="#000" stroke="#000" stroke-width="0.22">20</text>
<line x1="177.0" y1="186.25" x2="179.5" y2="186.25" stroke="#000" stroke-width="1"/>
<text x="174.4" y="189.25" font-size="8.5" text-anchor="end" fill="#000" stroke="#000" stroke-width="0.22">30</text>
<line x1="177.0" y1="174.16666666666666" x2="179.5" y2="174.16666666666666" stroke="#000" stroke-width="1"/>
<text x="174.4" y="177.16666666666666" font-size="8.5" text-anchor="end" fill="#000" stroke="#000" stroke-width="0.22">40</text>
<line x1="177.0" y1="162.08333333333334" x2="179.5" y2="162.08333333333334" stroke="#000" stroke-width="1"/>
<text x="174.4" y="165.08333333333334" font-size="8.5" text-anchor="end" fill="#000" stroke="#000" stroke-width="0.22">50</text>
<line x1="177.0" y1="150.0" x2="179.5" y2="150.0" stroke="#000" stroke-width="1"/>
<text x="174.4" y="153.0" font-size="8.5" text-anchor="end" fill="#000" stroke="#000" stroke-width="0.22">60</text>
<line x1="179.5" y1="222.5" x2="354.6" y2="222.5" stroke="#000" stroke-width="1.2"/>
<line x1="179.5" y1="222.5" x2="179.5" y2="225.0" stroke="#000" stroke-width="1"/>
<text x="179.9" y="234.2" font-size="8.2" text-anchor="middle" fill="#000" stroke="#000" stroke-width="0.22">1</text>
<line x1="266.9" y1="222.5" x2="266.9" y2="225.0" stroke="#000" stroke-width="1"/>
<text x="267.29999999999995" y="234.2" font-size="8.2" text-anchor="middle" fill="#000" stroke="#000" stroke-width="0.22">10</text>
<line x1="354.3" y1="222.5" x2="354.3" y2="225.0" stroke="#000" stroke-width="1"/>
<text x="354.7" y="234.2" font-size="8.2" text-anchor="middle" fill="#000" stroke="#000" stroke-width="0.22">100</text>
<text x="160.9" y="181.7" font-size="8.5" text-anchor="middle" fill="#000" stroke="#000" stroke-width="0.22" transform="rotate(-90 160.9 181.7)">% of cells</text>
<text x="263.3" y="153.5" font-size="8.2" font-weight="bold" text-anchor="middle" fill="#000" stroke="#000" stroke-width="0.1">CD38+CD20-</text>
<polyline points="179.50,174.53 205.81,169.09 266.90,168.00 293.21,167.04 354.30,163.90" fill="none" stroke="#000" stroke-width="1.1"/>
<rect x="175.7" y="170.72916666666666" width="7.6" height="7.6" fill="#000" stroke="none" stroke-width="1"/>
<rect x="202.01002162103194" y="165.29166666666666" width="7.6" height="7.6" fill="#000" stroke="none" stroke-width="1"/>
<rect x="263.09999999999997" y="164.20416666666665" width="7.6" height="7.6" fill="#000" stroke="none" stroke-width="1"/>
<rect x="289.41002162103194" y="163.23749999999998" width="7.6" height="7.6" fill="#000" stroke="none" stroke-width="1"/>
<rect x="350.5" y="160.09583333333333" width="7.6" height="7.6" fill="#000" stroke="none" stroke-width="1"/>
<polyline points="179.50,165.59 205.81,165.83 266.90,187.46 293.21,199.54 354.30,207.28" fill="none" stroke="#000" stroke-width="1.1"/>
<rect x="176.3" y="162.38750000000002" width="6.4" height="6.4" fill="#fff" stroke="#000" stroke-width="1.5"/>
<rect x="202.61002162103196" y="162.62916666666666" width="6.4" height="6.4" fill="#fff" stroke="#000" stroke-width="1.5"/>
<rect x="263.7" y="184.25833333333335" width="6.4" height="6.4" fill="#fff" stroke="#000" stroke-width="1.5"/>
<rect x="290.01002162103197" y="196.34166666666667" width="6.4" height="6.4" fill="#fff" stroke="#000" stroke-width="1.5"/>
<rect x="351.1" y="204.07500000000002" width="6.4" height="6.4" fill="#fff" stroke="#000" stroke-width="1.5"/>
<rect x="376.6" y="167.6" width="7" height="7" fill="#000" stroke="none" stroke-width="1"/>
<text x="389.2" y="174.3" font-size="8.6" text-anchor="start" fill="#000" stroke="#000" stroke-width="0.22">Ctrl</text>
<rect x="377.4" y="181.3" width="5.8" height="5.6" fill="#fff" stroke="#000" stroke-width="1.1"/>
<text x="389.8" y="187.2" font-size="8.6" text-anchor="start" fill="#000" stroke="#000" stroke-width="0.22">Spi-B~ER</text>
<line x1="177.3" y1="242.3" x2="214.2" y2="242.3" stroke="#000" stroke-width="1"/>
<text x="265" y="244.3" font-size="8.4" text-anchor="middle" fill="#000" stroke="#000" stroke-width="0.22">4HT concentration [nM]</text>
<line x1="314.8" y1="242.3" x2="359" y2="242.3" stroke="#000" stroke-width="1"/>
</svg>
</body></html>
